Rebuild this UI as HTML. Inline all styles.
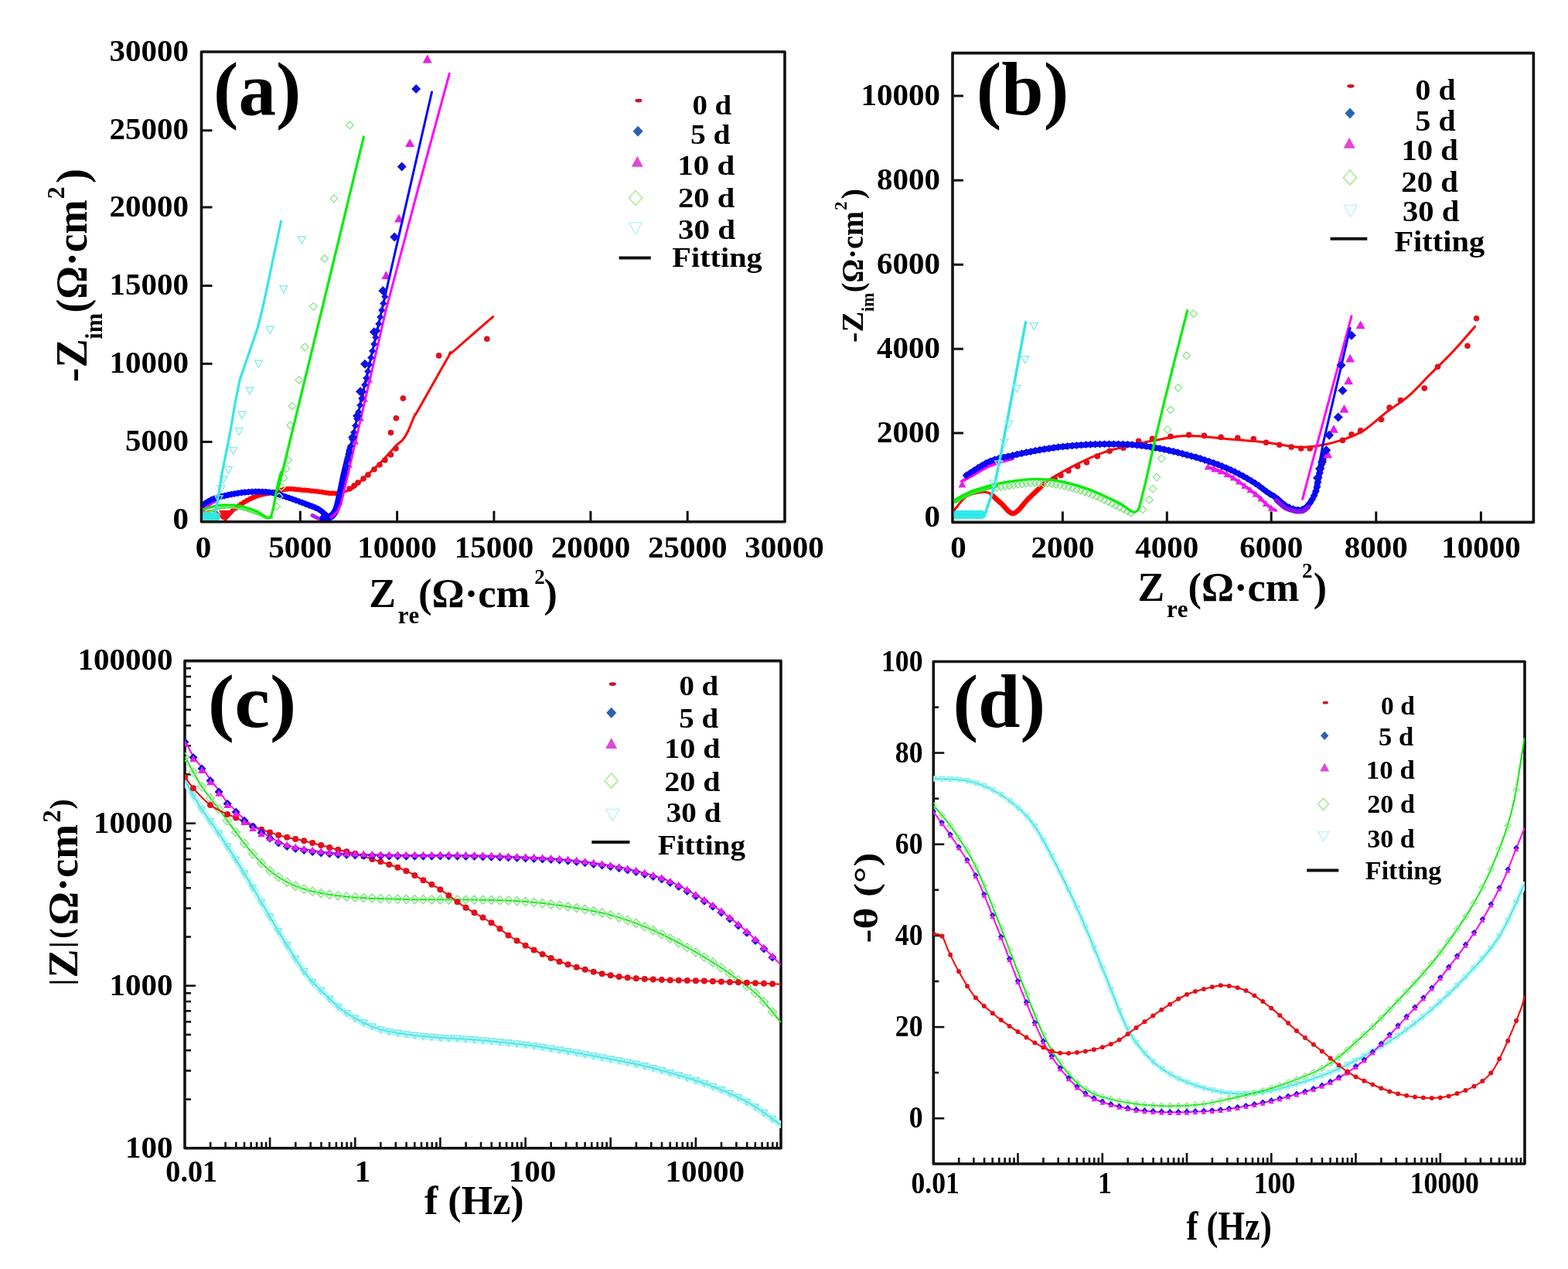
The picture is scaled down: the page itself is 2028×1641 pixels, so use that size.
<!DOCTYPE html>
<html><head><meta charset="utf-8"><title>EIS figure</title>
<style>
html,body{margin:0;padding:0;background:#fff;overflow:hidden;}
svg{display:block;filter:blur(0.55px);}
svg text{font-family:'Liberation Serif', serif;font-weight:bold;font-kerning:none;}
</style></head>
<body>
<svg width="2028" height="1641" viewBox="0 0 2028 1641">
<rect width="2028" height="1641" fill="#fff"/>
<rect x="260.5" y="67" width="754.5" height="607.7" fill="none" stroke="#111" stroke-width="3.6" stroke-linejoin="round"/>
<text transform="translate(263.1 721)" font-size="41" text-anchor="middle">0</text>
<line x1="388.3" y1="674.7" x2="388.3" y2="660.7" stroke="#111" stroke-width="3"/>
<text transform="translate(388.3 721)" font-size="41" text-anchor="middle">5000</text>
<line x1="513.6" y1="674.7" x2="513.6" y2="660.7" stroke="#111" stroke-width="3"/>
<text transform="translate(513.6 721)" font-size="41" text-anchor="middle">10000</text>
<line x1="638.9" y1="674.7" x2="638.9" y2="660.7" stroke="#111" stroke-width="3"/>
<text transform="translate(638.9 721)" font-size="41" text-anchor="middle">15000</text>
<line x1="763.9" y1="674.7" x2="763.9" y2="660.7" stroke="#111" stroke-width="3"/>
<text transform="translate(763.9 721)" font-size="41" text-anchor="middle">20000</text>
<line x1="889.2" y1="674.7" x2="889.2" y2="660.7" stroke="#111" stroke-width="3"/>
<text transform="translate(889.2 721)" font-size="41" text-anchor="middle">25000</text>
<text transform="translate(1014.4 721)" font-size="41" text-anchor="middle">30000</text>
<text transform="translate(244 683.9)" font-size="41" text-anchor="end">0</text>
<line x1="260.5" y1="571.4" x2="274.5" y2="571.4" stroke="#111" stroke-width="3"/>
<text transform="translate(244 582.9)" font-size="41" text-anchor="end">5000</text>
<line x1="260.5" y1="470.4" x2="274.5" y2="470.4" stroke="#111" stroke-width="3"/>
<text transform="translate(244 481.9)" font-size="41" text-anchor="end">10000</text>
<line x1="260.5" y1="369.5" x2="274.5" y2="369.5" stroke="#111" stroke-width="3"/>
<text transform="translate(244 381)" font-size="41" text-anchor="end">15000</text>
<line x1="260.5" y1="268" x2="274.5" y2="268" stroke="#111" stroke-width="3"/>
<text transform="translate(244 279.5)" font-size="41" text-anchor="end">20000</text>
<line x1="260.5" y1="168.7" x2="274.5" y2="168.7" stroke="#111" stroke-width="3"/>
<text transform="translate(244 180.2)" font-size="41" text-anchor="end">25000</text>
<text transform="translate(244 78.5)" font-size="41" text-anchor="end">30000</text>
<rect x="1232" y="68.6" width="751.4" height="606.8" fill="none" stroke="#111" stroke-width="3.6" stroke-linejoin="round"/>
<text transform="translate(1239.5 721)" font-size="41" text-anchor="middle">0</text>
<line x1="1374.4" y1="675.4" x2="1374.4" y2="661.4" stroke="#111" stroke-width="3"/>
<text transform="translate(1374.4 721)" font-size="41" text-anchor="middle">2000</text>
<line x1="1509.3" y1="675.4" x2="1509.3" y2="661.4" stroke="#111" stroke-width="3"/>
<text transform="translate(1509.3 721)" font-size="41" text-anchor="middle">4000</text>
<line x1="1644.2" y1="675.4" x2="1644.2" y2="661.4" stroke="#111" stroke-width="3"/>
<text transform="translate(1644.2 721)" font-size="41" text-anchor="middle">6000</text>
<line x1="1779.8" y1="675.4" x2="1779.8" y2="661.4" stroke="#111" stroke-width="3"/>
<text transform="translate(1779.8 721)" font-size="41" text-anchor="middle">8000</text>
<line x1="1915.4" y1="675.4" x2="1915.4" y2="661.4" stroke="#111" stroke-width="3"/>
<text transform="translate(1915.4 721)" font-size="41" text-anchor="middle">10000</text>
<text transform="translate(1216 680.5)" font-size="41" text-anchor="end">0</text>
<line x1="1232" y1="560" x2="1246" y2="560" stroke="#111" stroke-width="3"/>
<text transform="translate(1216 571.5)" font-size="41" text-anchor="end">2000</text>
<line x1="1232" y1="451.2" x2="1246" y2="451.2" stroke="#111" stroke-width="3"/>
<text transform="translate(1216 462.7)" font-size="41" text-anchor="end">4000</text>
<line x1="1232" y1="342.2" x2="1246" y2="342.2" stroke="#111" stroke-width="3"/>
<text transform="translate(1216 353.7)" font-size="41" text-anchor="end">6000</text>
<line x1="1232" y1="233.2" x2="1246" y2="233.2" stroke="#111" stroke-width="3"/>
<text transform="translate(1216 244.7)" font-size="41" text-anchor="end">8000</text>
<line x1="1232" y1="124" x2="1246" y2="124" stroke="#111" stroke-width="3"/>
<text transform="translate(1216 135.5)" font-size="41" text-anchor="end">10000</text>
<rect x="239" y="854.6" width="771" height="630.2" fill="none" stroke="#111" stroke-width="3.6" stroke-linejoin="round"/>
<line x1="272.2" y1="1484.8" x2="272.2" y2="1476.8" stroke="#111" stroke-width="2.6"/>
<line x1="291.6" y1="1484.8" x2="291.6" y2="1476.8" stroke="#111" stroke-width="2.6"/>
<line x1="305.3" y1="1484.8" x2="305.3" y2="1476.8" stroke="#111" stroke-width="2.6"/>
<line x1="316" y1="1484.8" x2="316" y2="1476.8" stroke="#111" stroke-width="2.6"/>
<line x1="324.7" y1="1484.8" x2="324.7" y2="1476.8" stroke="#111" stroke-width="2.6"/>
<line x1="332.1" y1="1484.8" x2="332.1" y2="1476.8" stroke="#111" stroke-width="2.6"/>
<line x1="338.5" y1="1484.8" x2="338.5" y2="1476.8" stroke="#111" stroke-width="2.6"/>
<line x1="344.1" y1="1484.8" x2="344.1" y2="1476.8" stroke="#111" stroke-width="2.6"/>
<line x1="349.1" y1="1484.8" x2="349.1" y2="1470.8" stroke="#111" stroke-width="2.6"/>
<line x1="382.3" y1="1484.8" x2="382.3" y2="1476.8" stroke="#111" stroke-width="2.6"/>
<line x1="401.7" y1="1484.8" x2="401.7" y2="1476.8" stroke="#111" stroke-width="2.6"/>
<line x1="415.5" y1="1484.8" x2="415.5" y2="1476.8" stroke="#111" stroke-width="2.6"/>
<line x1="426.1" y1="1484.8" x2="426.1" y2="1476.8" stroke="#111" stroke-width="2.6"/>
<line x1="434.9" y1="1484.8" x2="434.9" y2="1476.8" stroke="#111" stroke-width="2.6"/>
<line x1="442.2" y1="1484.8" x2="442.2" y2="1476.8" stroke="#111" stroke-width="2.6"/>
<line x1="448.6" y1="1484.8" x2="448.6" y2="1476.8" stroke="#111" stroke-width="2.6"/>
<line x1="454.2" y1="1484.8" x2="454.2" y2="1476.8" stroke="#111" stroke-width="2.6"/>
<line x1="459.3" y1="1484.8" x2="459.3" y2="1470.8" stroke="#111" stroke-width="2.6"/>
<line x1="492.4" y1="1484.8" x2="492.4" y2="1476.8" stroke="#111" stroke-width="2.6"/>
<line x1="511.8" y1="1484.8" x2="511.8" y2="1476.8" stroke="#111" stroke-width="2.6"/>
<line x1="525.6" y1="1484.8" x2="525.6" y2="1476.8" stroke="#111" stroke-width="2.6"/>
<line x1="536.3" y1="1484.8" x2="536.3" y2="1476.8" stroke="#111" stroke-width="2.6"/>
<line x1="545" y1="1484.8" x2="545" y2="1476.8" stroke="#111" stroke-width="2.6"/>
<line x1="552.4" y1="1484.8" x2="552.4" y2="1476.8" stroke="#111" stroke-width="2.6"/>
<line x1="558.8" y1="1484.8" x2="558.8" y2="1476.8" stroke="#111" stroke-width="2.6"/>
<line x1="564.4" y1="1484.8" x2="564.4" y2="1476.8" stroke="#111" stroke-width="2.6"/>
<line x1="569.4" y1="1484.8" x2="569.4" y2="1470.8" stroke="#111" stroke-width="2.6"/>
<line x1="602.6" y1="1484.8" x2="602.6" y2="1476.8" stroke="#111" stroke-width="2.6"/>
<line x1="622" y1="1484.8" x2="622" y2="1476.8" stroke="#111" stroke-width="2.6"/>
<line x1="635.7" y1="1484.8" x2="635.7" y2="1476.8" stroke="#111" stroke-width="2.6"/>
<line x1="646.4" y1="1484.8" x2="646.4" y2="1476.8" stroke="#111" stroke-width="2.6"/>
<line x1="655.1" y1="1484.8" x2="655.1" y2="1476.8" stroke="#111" stroke-width="2.6"/>
<line x1="662.5" y1="1484.8" x2="662.5" y2="1476.8" stroke="#111" stroke-width="2.6"/>
<line x1="668.9" y1="1484.8" x2="668.9" y2="1476.8" stroke="#111" stroke-width="2.6"/>
<line x1="674.5" y1="1484.8" x2="674.5" y2="1476.8" stroke="#111" stroke-width="2.6"/>
<line x1="679.6" y1="1484.8" x2="679.6" y2="1470.8" stroke="#111" stroke-width="2.6"/>
<line x1="712.7" y1="1484.8" x2="712.7" y2="1476.8" stroke="#111" stroke-width="2.6"/>
<line x1="732.1" y1="1484.8" x2="732.1" y2="1476.8" stroke="#111" stroke-width="2.6"/>
<line x1="745.9" y1="1484.8" x2="745.9" y2="1476.8" stroke="#111" stroke-width="2.6"/>
<line x1="756.6" y1="1484.8" x2="756.6" y2="1476.8" stroke="#111" stroke-width="2.6"/>
<line x1="765.3" y1="1484.8" x2="765.3" y2="1476.8" stroke="#111" stroke-width="2.6"/>
<line x1="772.7" y1="1484.8" x2="772.7" y2="1476.8" stroke="#111" stroke-width="2.6"/>
<line x1="779" y1="1484.8" x2="779" y2="1476.8" stroke="#111" stroke-width="2.6"/>
<line x1="784.7" y1="1484.8" x2="784.7" y2="1476.8" stroke="#111" stroke-width="2.6"/>
<line x1="789.7" y1="1484.8" x2="789.7" y2="1470.8" stroke="#111" stroke-width="2.6"/>
<line x1="822.9" y1="1484.8" x2="822.9" y2="1476.8" stroke="#111" stroke-width="2.6"/>
<line x1="842.3" y1="1484.8" x2="842.3" y2="1476.8" stroke="#111" stroke-width="2.6"/>
<line x1="856" y1="1484.8" x2="856" y2="1476.8" stroke="#111" stroke-width="2.6"/>
<line x1="866.7" y1="1484.8" x2="866.7" y2="1476.8" stroke="#111" stroke-width="2.6"/>
<line x1="875.4" y1="1484.8" x2="875.4" y2="1476.8" stroke="#111" stroke-width="2.6"/>
<line x1="882.8" y1="1484.8" x2="882.8" y2="1476.8" stroke="#111" stroke-width="2.6"/>
<line x1="889.2" y1="1484.8" x2="889.2" y2="1476.8" stroke="#111" stroke-width="2.6"/>
<line x1="894.8" y1="1484.8" x2="894.8" y2="1476.8" stroke="#111" stroke-width="2.6"/>
<line x1="899.9" y1="1484.8" x2="899.9" y2="1470.8" stroke="#111" stroke-width="2.6"/>
<line x1="933" y1="1484.8" x2="933" y2="1476.8" stroke="#111" stroke-width="2.6"/>
<line x1="952.4" y1="1484.8" x2="952.4" y2="1476.8" stroke="#111" stroke-width="2.6"/>
<line x1="966.2" y1="1484.8" x2="966.2" y2="1476.8" stroke="#111" stroke-width="2.6"/>
<line x1="976.8" y1="1484.8" x2="976.8" y2="1476.8" stroke="#111" stroke-width="2.6"/>
<line x1="985.6" y1="1484.8" x2="985.6" y2="1476.8" stroke="#111" stroke-width="2.6"/>
<line x1="992.9" y1="1484.8" x2="992.9" y2="1476.8" stroke="#111" stroke-width="2.6"/>
<line x1="999.3" y1="1484.8" x2="999.3" y2="1476.8" stroke="#111" stroke-width="2.6"/>
<line x1="1005" y1="1484.8" x2="1005" y2="1476.8" stroke="#111" stroke-width="2.6"/>
<line x1="239" y1="1421.6" x2="247" y2="1421.6" stroke="#111" stroke-width="2.6"/>
<line x1="239" y1="1384.6" x2="247" y2="1384.6" stroke="#111" stroke-width="2.6"/>
<line x1="239" y1="1358.3" x2="247" y2="1358.3" stroke="#111" stroke-width="2.6"/>
<line x1="239" y1="1338" x2="247" y2="1338" stroke="#111" stroke-width="2.6"/>
<line x1="239" y1="1321.3" x2="247" y2="1321.3" stroke="#111" stroke-width="2.6"/>
<line x1="239" y1="1307.3" x2="247" y2="1307.3" stroke="#111" stroke-width="2.6"/>
<line x1="239" y1="1295.1" x2="247" y2="1295.1" stroke="#111" stroke-width="2.6"/>
<line x1="239" y1="1284.3" x2="247" y2="1284.3" stroke="#111" stroke-width="2.6"/>
<line x1="239" y1="1274.7" x2="253" y2="1274.7" stroke="#111" stroke-width="2.6"/>
<line x1="239" y1="1211.5" x2="247" y2="1211.5" stroke="#111" stroke-width="2.6"/>
<line x1="239" y1="1174.5" x2="247" y2="1174.5" stroke="#111" stroke-width="2.6"/>
<line x1="239" y1="1148.3" x2="247" y2="1148.3" stroke="#111" stroke-width="2.6"/>
<line x1="239" y1="1127.9" x2="247" y2="1127.9" stroke="#111" stroke-width="2.6"/>
<line x1="239" y1="1111.3" x2="247" y2="1111.3" stroke="#111" stroke-width="2.6"/>
<line x1="239" y1="1097.2" x2="247" y2="1097.2" stroke="#111" stroke-width="2.6"/>
<line x1="239" y1="1085" x2="247" y2="1085" stroke="#111" stroke-width="2.6"/>
<line x1="239" y1="1074.3" x2="247" y2="1074.3" stroke="#111" stroke-width="2.6"/>
<line x1="239" y1="1064.7" x2="253" y2="1064.7" stroke="#111" stroke-width="2.6"/>
<line x1="239" y1="1001.4" x2="247" y2="1001.4" stroke="#111" stroke-width="2.6"/>
<line x1="239" y1="964.4" x2="247" y2="964.4" stroke="#111" stroke-width="2.6"/>
<line x1="239" y1="938.2" x2="247" y2="938.2" stroke="#111" stroke-width="2.6"/>
<line x1="239" y1="917.8" x2="247" y2="917.8" stroke="#111" stroke-width="2.6"/>
<line x1="239" y1="901.2" x2="247" y2="901.2" stroke="#111" stroke-width="2.6"/>
<line x1="239" y1="887.1" x2="247" y2="887.1" stroke="#111" stroke-width="2.6"/>
<line x1="239" y1="875" x2="247" y2="875" stroke="#111" stroke-width="2.6"/>
<line x1="239" y1="864.2" x2="247" y2="864.2" stroke="#111" stroke-width="2.6"/>
<text transform="translate(247.7 1528) scale(0.93 1)" font-size="41" text-anchor="middle">0.01</text>
<text transform="translate(469 1528)" font-size="41" text-anchor="middle">1</text>
<text transform="translate(688.5 1528)" font-size="41" text-anchor="middle">100</text>
<text transform="translate(911.8 1528)" font-size="41" text-anchor="middle">10000</text>
<text transform="translate(223.5 866.4)" font-size="41" text-anchor="end">100000</text>
<text transform="translate(223.5 1076.5)" font-size="41" text-anchor="end">10000</text>
<text transform="translate(223.5 1286.5)" font-size="41" text-anchor="end">1000</text>
<text transform="translate(223.5 1496.6)" font-size="41" text-anchor="end">100</text>
<rect x="1207.3" y="855.5" width="764.7" height="649.5" fill="none" stroke="#111" stroke-width="3.6" stroke-linejoin="round"/>
<line x1="1240.2" y1="1505" x2="1240.2" y2="1497" stroke="#111" stroke-width="2.6"/>
<line x1="1259.4" y1="1505" x2="1259.4" y2="1497" stroke="#111" stroke-width="2.6"/>
<line x1="1273.1" y1="1505" x2="1273.1" y2="1497" stroke="#111" stroke-width="2.6"/>
<line x1="1283.7" y1="1505" x2="1283.7" y2="1497" stroke="#111" stroke-width="2.6"/>
<line x1="1292.3" y1="1505" x2="1292.3" y2="1497" stroke="#111" stroke-width="2.6"/>
<line x1="1299.6" y1="1505" x2="1299.6" y2="1497" stroke="#111" stroke-width="2.6"/>
<line x1="1306" y1="1505" x2="1306" y2="1497" stroke="#111" stroke-width="2.6"/>
<line x1="1311.5" y1="1505" x2="1311.5" y2="1497" stroke="#111" stroke-width="2.6"/>
<line x1="1316.5" y1="1505" x2="1316.5" y2="1491" stroke="#111" stroke-width="2.6"/>
<line x1="1349.4" y1="1505" x2="1349.4" y2="1497" stroke="#111" stroke-width="2.6"/>
<line x1="1368.7" y1="1505" x2="1368.7" y2="1497" stroke="#111" stroke-width="2.6"/>
<line x1="1382.3" y1="1505" x2="1382.3" y2="1497" stroke="#111" stroke-width="2.6"/>
<line x1="1392.9" y1="1505" x2="1392.9" y2="1497" stroke="#111" stroke-width="2.6"/>
<line x1="1401.6" y1="1505" x2="1401.6" y2="1497" stroke="#111" stroke-width="2.6"/>
<line x1="1408.9" y1="1505" x2="1408.9" y2="1497" stroke="#111" stroke-width="2.6"/>
<line x1="1415.2" y1="1505" x2="1415.2" y2="1497" stroke="#111" stroke-width="2.6"/>
<line x1="1420.8" y1="1505" x2="1420.8" y2="1497" stroke="#111" stroke-width="2.6"/>
<line x1="1425.8" y1="1505" x2="1425.8" y2="1491" stroke="#111" stroke-width="2.6"/>
<line x1="1458.7" y1="1505" x2="1458.7" y2="1497" stroke="#111" stroke-width="2.6"/>
<line x1="1477.9" y1="1505" x2="1477.9" y2="1497" stroke="#111" stroke-width="2.6"/>
<line x1="1491.6" y1="1505" x2="1491.6" y2="1497" stroke="#111" stroke-width="2.6"/>
<line x1="1502.1" y1="1505" x2="1502.1" y2="1497" stroke="#111" stroke-width="2.6"/>
<line x1="1510.8" y1="1505" x2="1510.8" y2="1497" stroke="#111" stroke-width="2.6"/>
<line x1="1518.1" y1="1505" x2="1518.1" y2="1497" stroke="#111" stroke-width="2.6"/>
<line x1="1524.4" y1="1505" x2="1524.4" y2="1497" stroke="#111" stroke-width="2.6"/>
<line x1="1530" y1="1505" x2="1530" y2="1497" stroke="#111" stroke-width="2.6"/>
<line x1="1535" y1="1505" x2="1535" y2="1491" stroke="#111" stroke-width="2.6"/>
<line x1="1567.9" y1="1505" x2="1567.9" y2="1497" stroke="#111" stroke-width="2.6"/>
<line x1="1587.2" y1="1505" x2="1587.2" y2="1497" stroke="#111" stroke-width="2.6"/>
<line x1="1600.8" y1="1505" x2="1600.8" y2="1497" stroke="#111" stroke-width="2.6"/>
<line x1="1611.4" y1="1505" x2="1611.4" y2="1497" stroke="#111" stroke-width="2.6"/>
<line x1="1620" y1="1505" x2="1620" y2="1497" stroke="#111" stroke-width="2.6"/>
<line x1="1627.3" y1="1505" x2="1627.3" y2="1497" stroke="#111" stroke-width="2.6"/>
<line x1="1633.7" y1="1505" x2="1633.7" y2="1497" stroke="#111" stroke-width="2.6"/>
<line x1="1639.3" y1="1505" x2="1639.3" y2="1497" stroke="#111" stroke-width="2.6"/>
<line x1="1644.3" y1="1505" x2="1644.3" y2="1491" stroke="#111" stroke-width="2.6"/>
<line x1="1677.2" y1="1505" x2="1677.2" y2="1497" stroke="#111" stroke-width="2.6"/>
<line x1="1696.4" y1="1505" x2="1696.4" y2="1497" stroke="#111" stroke-width="2.6"/>
<line x1="1710" y1="1505" x2="1710" y2="1497" stroke="#111" stroke-width="2.6"/>
<line x1="1720.6" y1="1505" x2="1720.6" y2="1497" stroke="#111" stroke-width="2.6"/>
<line x1="1729.3" y1="1505" x2="1729.3" y2="1497" stroke="#111" stroke-width="2.6"/>
<line x1="1736.6" y1="1505" x2="1736.6" y2="1497" stroke="#111" stroke-width="2.6"/>
<line x1="1742.9" y1="1505" x2="1742.9" y2="1497" stroke="#111" stroke-width="2.6"/>
<line x1="1748.5" y1="1505" x2="1748.5" y2="1497" stroke="#111" stroke-width="2.6"/>
<line x1="1753.5" y1="1505" x2="1753.5" y2="1491" stroke="#111" stroke-width="2.6"/>
<line x1="1786.4" y1="1505" x2="1786.4" y2="1497" stroke="#111" stroke-width="2.6"/>
<line x1="1805.6" y1="1505" x2="1805.6" y2="1497" stroke="#111" stroke-width="2.6"/>
<line x1="1819.3" y1="1505" x2="1819.3" y2="1497" stroke="#111" stroke-width="2.6"/>
<line x1="1829.9" y1="1505" x2="1829.9" y2="1497" stroke="#111" stroke-width="2.6"/>
<line x1="1838.5" y1="1505" x2="1838.5" y2="1497" stroke="#111" stroke-width="2.6"/>
<line x1="1845.8" y1="1505" x2="1845.8" y2="1497" stroke="#111" stroke-width="2.6"/>
<line x1="1852.2" y1="1505" x2="1852.2" y2="1497" stroke="#111" stroke-width="2.6"/>
<line x1="1857.8" y1="1505" x2="1857.8" y2="1497" stroke="#111" stroke-width="2.6"/>
<line x1="1862.8" y1="1505" x2="1862.8" y2="1491" stroke="#111" stroke-width="2.6"/>
<line x1="1895.6" y1="1505" x2="1895.6" y2="1497" stroke="#111" stroke-width="2.6"/>
<line x1="1914.9" y1="1505" x2="1914.9" y2="1497" stroke="#111" stroke-width="2.6"/>
<line x1="1928.5" y1="1505" x2="1928.5" y2="1497" stroke="#111" stroke-width="2.6"/>
<line x1="1939.1" y1="1505" x2="1939.1" y2="1497" stroke="#111" stroke-width="2.6"/>
<line x1="1947.8" y1="1505" x2="1947.8" y2="1497" stroke="#111" stroke-width="2.6"/>
<line x1="1955.1" y1="1505" x2="1955.1" y2="1497" stroke="#111" stroke-width="2.6"/>
<line x1="1961.4" y1="1505" x2="1961.4" y2="1497" stroke="#111" stroke-width="2.6"/>
<line x1="1967" y1="1505" x2="1967" y2="1497" stroke="#111" stroke-width="2.6"/>
<line x1="1207.3" y1="1446.2" x2="1221.3" y2="1446.2" stroke="#111" stroke-width="2.6"/>
<line x1="1207.3" y1="1387.1" x2="1214.3" y2="1387.1" stroke="#111" stroke-width="2.6"/>
<line x1="1207.3" y1="1328.1" x2="1221.3" y2="1328.1" stroke="#111" stroke-width="2.6"/>
<line x1="1207.3" y1="1269" x2="1214.3" y2="1269" stroke="#111" stroke-width="2.6"/>
<line x1="1207.3" y1="1209.9" x2="1221.3" y2="1209.9" stroke="#111" stroke-width="2.6"/>
<line x1="1207.3" y1="1150.8" x2="1214.3" y2="1150.8" stroke="#111" stroke-width="2.6"/>
<line x1="1207.3" y1="1091.8" x2="1221.3" y2="1091.8" stroke="#111" stroke-width="2.6"/>
<line x1="1207.3" y1="1032.7" x2="1214.3" y2="1032.7" stroke="#111" stroke-width="2.6"/>
<line x1="1207.3" y1="973.6" x2="1221.3" y2="973.6" stroke="#111" stroke-width="2.6"/>
<line x1="1207.3" y1="914.6" x2="1214.3" y2="914.6" stroke="#111" stroke-width="2.6"/>
<text transform="translate(1193.5 1458.2) scale(0.87 1)" font-size="41" text-anchor="end">0</text>
<text transform="translate(1193.5 1340.1) scale(0.87 1)" font-size="41" text-anchor="end">20</text>
<text transform="translate(1193.5 1221.9) scale(0.87 1)" font-size="41" text-anchor="end">40</text>
<text transform="translate(1193.5 1103.8) scale(0.87 1)" font-size="41" text-anchor="end">60</text>
<text transform="translate(1193.5 985.6) scale(0.87 1)" font-size="41" text-anchor="end">80</text>
<text transform="translate(1193.5 867.5) scale(0.87 1)" font-size="41" text-anchor="end">100</text>
<text transform="translate(1209.6 1543) scale(0.87 1)" font-size="41" text-anchor="middle">0.01</text>
<text transform="translate(1429 1543) scale(0.87 1)" font-size="41" text-anchor="middle">1</text>
<text transform="translate(1648.5 1543) scale(0.87 1)" font-size="41" text-anchor="middle">100</text>
<text transform="translate(1868.3 1543) scale(0.87 1)" font-size="41" text-anchor="middle">10000</text>
<clipPath id="ca"><rect x="262.3" y="68.8" width="750.9" height="604.1"/></clipPath>
<g clip-path="url(#ca)">
<path d="M305,657 C307.2,655.5 313.6,650.5 318.2,647.9 C322.8,645.3 327.9,643 332.8,641.3 C337.7,639.6 343.2,638.7 347.4,637.7 C351.5,636.7 353.4,636.3 357.7,635.4 C362,634.5 367.5,632.6 373.1,632.3 C378.7,632 385,633.2 391.4,633.7 C397.8,634.2 405.6,634.9 411.3,635.6 C417,636.3 421.4,637.3 425.5,637.7 C429.6,638.1 434.4,638 436.2,638" fill="none" stroke="#ff0000" stroke-width="5.5" stroke-linejoin="round" stroke-linecap="round"/>
<g><circle cx="305" cy="657" r="3.3" fill="#ff0000"/><circle cx="308.6" cy="654.4" r="3.3" fill="#ff0000"/><circle cx="312.3" cy="651.7" r="3.3" fill="#ff0000"/><circle cx="316" cy="649.2" r="3.3" fill="#ff0000"/><circle cx="319.9" cy="647" r="3.3" fill="#ff0000"/><circle cx="323.9" cy="644.9" r="3.3" fill="#ff0000"/><circle cx="328.1" cy="643.1" r="3.3" fill="#ff0000"/><circle cx="332.2" cy="641.5" r="3.3" fill="#ff0000"/><circle cx="336.5" cy="640.2" r="3.3" fill="#ff0000"/><circle cx="340.9" cy="639.1" r="3.3" fill="#ff0000"/><circle cx="345.3" cy="638.2" r="3.3" fill="#ff0000"/><circle cx="349.7" cy="637.2" r="3.3" fill="#ff0000"/><circle cx="354.1" cy="636.2" r="3.3" fill="#ff0000"/><circle cx="358.5" cy="635.2" r="3.3" fill="#ff0000"/><circle cx="362.9" cy="634.1" r="3.3" fill="#ff0000"/><circle cx="367.2" cy="633.1" r="3.3" fill="#ff0000"/><circle cx="371.7" cy="632.4" r="3.3" fill="#ff0000"/><circle cx="376.2" cy="632.3" r="3.3" fill="#ff0000"/><circle cx="380.7" cy="632.6" r="3.3" fill="#ff0000"/><circle cx="385.1" cy="633" r="3.3" fill="#ff0000"/><circle cx="389.6" cy="633.5" r="3.3" fill="#ff0000"/><circle cx="394.1" cy="633.9" r="3.3" fill="#ff0000"/><circle cx="398.6" cy="634.3" r="3.3" fill="#ff0000"/><circle cx="403.1" cy="634.7" r="3.3" fill="#ff0000"/><circle cx="407.5" cy="635.2" r="3.3" fill="#ff0000"/><circle cx="412" cy="635.7" r="3.3" fill="#ff0000"/><circle cx="416.5" cy="636.3" r="3.3" fill="#ff0000"/><circle cx="420.9" cy="637.1" r="3.3" fill="#ff0000"/><circle cx="425.4" cy="637.7" r="3.3" fill="#ff0000"/><circle cx="429.9" cy="637.9" r="3.3" fill="#ff0000"/><circle cx="434.4" cy="638" r="3.3" fill="#ff0000"/></g>
<path d="M262,668 C262.8,667.1 265,663.8 267,662.5 C269,661.2 272,660.7 274,660.5 C276,660.3 277.2,660.4 279,661.5 C280.8,662.6 283.2,665.4 285,667 C286.8,668.6 287.9,671.5 289.6,671 C291.3,670.5 292.7,666.4 295,664 C297.3,661.6 299.6,659.3 303.5,656.6 C307.4,653.9 313.3,650.5 318.2,647.9 C323.1,645.3 327.9,643 332.8,641.3 C337.7,639.6 343.2,638.7 347.4,637.7 C351.5,636.7 353.4,636.1 357.7,635.4 C362,634.7 367.5,633.4 373.1,633.3 C378.7,633.2 385,634.2 391.4,634.7 C397.8,635.2 405.6,635.9 411.3,636.6 C417,637.3 421.4,638.4 425.5,638.7 C429.6,639 432.6,639 436.2,638.5 C439.8,638 443.4,636.8 447,635.5 C450.6,634.2 453.5,633.9 457.7,630.8 C461.9,627.7 466.3,622 472,616.7 C477.7,611.4 485.1,605.5 491.7,598.9 C498.3,592.3 506.5,582.3 511.4,577.2 C516.3,572.1 518.5,571.7 521.3,568.3 C524.1,564.9 526,560.9 528,557 C530,553.1 531.5,548.5 533,545 C534.5,541.5 535.7,538.3 537,535.8 C538.3,533.3 533.8,542.4 541,529.9 C548.2,517.4 573.1,472.9 580.4,460.5 C587.7,448.1 575.5,464 585,455.5 C594.5,447 628.8,417.2 637.6,409.6" fill="none" stroke="#ff0000" stroke-width="3" stroke-linejoin="round" stroke-linecap="round"/>
<path d="M283,660 L305,660 L291,675Z" fill="#f00c1c"/>
<g><circle cx="452" cy="632" r="3.8" fill="#e0101c"/><circle cx="458" cy="628" r="3.8" fill="#e0101c"/><circle cx="463" cy="624" r="3.8" fill="#e0101c"/><circle cx="470" cy="619" r="3.8" fill="#e0101c"/><circle cx="476" cy="614" r="3.8" fill="#e0101c"/><circle cx="484" cy="607" r="3.8" fill="#e0101c"/><circle cx="491" cy="601" r="3.8" fill="#e0101c"/><circle cx="498" cy="595" r="3.8" fill="#e0101c"/><circle cx="505.5" cy="588" r="3.8" fill="#e0101c"/><circle cx="512" cy="580" r="3.8" fill="#e0101c"/><circle cx="505.5" cy="559.5" r="3.8" fill="#e0101c"/><circle cx="512.4" cy="540.7" r="3.8" fill="#e0101c"/><circle cx="521.3" cy="515.1" r="3.8" fill="#e0101c"/><circle cx="567.6" cy="459.9" r="3.8" fill="#e0101c"/><circle cx="629.8" cy="438.2" r="3.8" fill="#e0101c"/></g>
<path d="M260,662 C261.7,660.3 266.7,654.7 270,652 C273.3,649.3 278.3,647 280,646" fill="none" stroke="#ff00ff" stroke-width="6" stroke-linejoin="round" stroke-linecap="round"/>
<path d="M404,666.5 C405.3,667.2 409.3,669.6 412,670.5 C414.7,671.4 418.7,671.8 420,672" fill="none" stroke="#b020f0" stroke-width="5" stroke-linejoin="round" stroke-linecap="round"/>
<path d="M261.5,653.2 C263.7,651.9 269.8,647.6 274.5,645.6 C279.2,643.6 283.9,642.6 289.7,641.3 C295.5,639.9 302.3,638.4 309.2,637.5 C316.1,636.6 323.8,635.8 331,635.8 C338.2,635.8 346.3,636.1 352.6,637.2 C358.9,638.3 362.6,640.2 368.9,642.3 C375.2,644.4 383.4,647.2 390.6,649.9 C397.8,652.6 406.9,655.8 412.3,658.6 C417.7,661.5 420.1,665.8 423.2,667 C426.3,668.2 428.5,667.6 430.7,665.6 C432.9,663.6 434.6,660.2 436.3,655.2 C438,650.2 439,642.9 440.6,635.5 C442.2,628.1 444,620 445.9,610.8 C447.8,601.5 451.1,585.1 452.2,580" fill="none" stroke="#0000ff" stroke-width="7" stroke-linejoin="round" stroke-linecap="round"/>
<g><path d="M261.5,648.7 L266,653.2 L261.5,657.7 L257,653.2Z" fill="#0000ff"/><path d="M265.3,646.3 L269.8,650.8 L265.3,655.3 L260.8,650.8Z" fill="#0000ff"/><path d="M269.1,643.9 L273.6,648.4 L269.1,652.9 L264.6,648.4Z" fill="#0000ff"/><path d="M273.1,641.8 L277.6,646.3 L273.1,650.8 L268.6,646.3Z" fill="#0000ff"/><path d="M277.2,640.1 L281.7,644.6 L277.2,649.1 L272.7,644.6Z" fill="#0000ff"/><path d="M281.5,638.8 L286,643.3 L281.5,647.8 L277,643.3Z" fill="#0000ff"/><path d="M285.9,637.7 L290.4,642.2 L285.9,646.7 L281.4,642.2Z" fill="#0000ff"/><path d="M290.3,636.7 L294.8,641.2 L290.3,645.7 L285.8,641.2Z" fill="#0000ff"/><path d="M294.7,635.7 L299.2,640.2 L294.7,644.7 L290.2,640.2Z" fill="#0000ff"/><path d="M299.1,634.7 L303.6,639.2 L299.1,643.7 L294.6,639.2Z" fill="#0000ff"/><path d="M303.5,633.9 L308,638.4 L303.5,642.9 L299,638.4Z" fill="#0000ff"/><path d="M307.9,633.2 L312.4,637.7 L307.9,642.2 L303.4,637.7Z" fill="#0000ff"/><path d="M312.4,632.6 L316.9,637.1 L312.4,641.6 L307.9,637.1Z" fill="#0000ff"/><path d="M316.9,632.1 L321.4,636.6 L316.9,641.1 L312.4,636.6Z" fill="#0000ff"/><path d="M321.4,631.7 L325.9,636.2 L321.4,640.7 L316.9,636.2Z" fill="#0000ff"/><path d="M325.9,631.4 L330.4,635.9 L325.9,640.4 L321.4,635.9Z" fill="#0000ff"/><path d="M330.4,631.3 L334.9,635.8 L330.4,640.3 L325.9,635.8Z" fill="#0000ff"/><path d="M334.9,631.3 L339.4,635.8 L334.9,640.3 L330.4,635.8Z" fill="#0000ff"/><path d="M339.4,631.4 L343.9,635.9 L339.4,640.4 L334.9,635.9Z" fill="#0000ff"/><path d="M343.8,631.7 L348.3,636.2 L343.8,640.7 L339.3,636.2Z" fill="#0000ff"/><path d="M348.3,632.1 L352.8,636.6 L348.3,641.1 L343.8,636.6Z" fill="#0000ff"/><path d="M352.8,632.7 L357.3,637.2 L352.8,641.7 L348.3,637.2Z" fill="#0000ff"/><path d="M357.2,633.7 L361.7,638.2 L357.2,642.7 L352.7,638.2Z" fill="#0000ff"/><path d="M361.4,635.1 L365.9,639.6 L361.4,644.1 L356.9,639.6Z" fill="#0000ff"/><path d="M365.7,636.7 L370.2,641.2 L365.7,645.7 L361.2,641.2Z" fill="#0000ff"/><path d="M369.9,638.1 L374.4,642.6 L369.9,647.1 L365.4,642.6Z" fill="#0000ff"/><path d="M374.2,639.6 L378.7,644.1 L374.2,648.6 L369.7,644.1Z" fill="#0000ff"/><path d="M378.4,641 L382.9,645.5 L378.4,650 L373.9,645.5Z" fill="#0000ff"/><path d="M382.7,642.5 L387.2,647 L382.7,651.5 L378.2,647Z" fill="#0000ff"/><path d="M386.9,644 L391.4,648.5 L386.9,653 L382.4,648.5Z" fill="#0000ff"/><path d="M391.1,645.6 L395.6,650.1 L391.1,654.6 L386.6,650.1Z" fill="#0000ff"/><path d="M395.4,647.2 L399.9,651.7 L395.4,656.2 L390.9,651.7Z" fill="#0000ff"/><path d="M399.6,648.7 L404.1,653.2 L399.6,657.7 L395.1,653.2Z" fill="#0000ff"/><path d="M403.8,650.3 L408.3,654.8 L403.8,659.3 L399.3,654.8Z" fill="#0000ff"/><path d="M407.9,652.1 L412.4,656.6 L407.9,661.1 L403.4,656.6Z" fill="#0000ff"/><path d="M412,654 L416.5,658.5 L412,663 L407.5,658.5Z" fill="#0000ff"/><path d="M415.8,656.4 L420.3,660.9 L415.8,665.4 L411.3,660.9Z" fill="#0000ff"/><path d="M419.1,659.4 L423.6,663.9 L419.1,668.4 L414.6,663.9Z" fill="#0000ff"/><path d="M422.6,662.2 L427.1,666.7 L422.6,671.2 L418.1,666.7Z" fill="#0000ff"/><path d="M427,663 L431.5,667.5 L427,672 L422.5,667.5Z" fill="#0000ff"/><path d="M430.9,660.9 L435.4,665.4 L430.9,669.9 L426.4,665.4Z" fill="#0000ff"/><path d="M433.5,657.3 L438,661.8 L433.5,666.3 L429,661.8Z" fill="#0000ff"/><path d="M435.4,653.2 L439.9,657.7 L435.4,662.2 L430.9,657.7Z" fill="#0000ff"/><path d="M436.8,649 L441.3,653.5 L436.8,658 L432.3,653.5Z" fill="#0000ff"/><path d="M437.9,644.6 L442.4,649.1 L437.9,653.6 L433.4,649.1Z" fill="#0000ff"/><path d="M438.8,640.2 L443.3,644.7 L438.8,649.2 L434.3,644.7Z" fill="#0000ff"/><path d="M439.6,635.8 L444.1,640.3 L439.6,644.8 L435.1,640.3Z" fill="#0000ff"/><path d="M440.5,631.3 L445,635.8 L440.5,640.3 L436,635.8Z" fill="#0000ff"/><path d="M441.5,627 L446,631.5 L441.5,636 L437,631.5Z" fill="#0000ff"/><path d="M442.4,622.6 L446.9,627.1 L442.4,631.6 L437.9,627.1Z" fill="#0000ff"/><path d="M443.4,618.2 L447.9,622.7 L443.4,627.2 L438.9,622.7Z" fill="#0000ff"/><path d="M444.3,613.8 L448.8,618.3 L444.3,622.8 L439.8,618.3Z" fill="#0000ff"/><path d="M445.3,609.4 L449.8,613.9 L445.3,618.4 L440.8,613.9Z" fill="#0000ff"/><path d="M446.2,604.9 L450.7,609.4 L446.2,613.9 L441.7,609.4Z" fill="#0000ff"/><path d="M447.1,600.5 L451.6,605 L447.1,609.5 L442.6,605Z" fill="#0000ff"/><path d="M448,596.1 L452.5,600.6 L448,605.1 L443.5,600.6Z" fill="#0000ff"/><path d="M448.9,591.7 L453.4,596.2 L448.9,600.7 L444.4,596.2Z" fill="#0000ff"/><path d="M449.8,587.3 L454.3,591.8 L449.8,596.3 L445.3,591.8Z" fill="#0000ff"/><path d="M450.7,582.9 L455.2,587.4 L450.7,591.9 L446.2,587.4Z" fill="#0000ff"/><path d="M451.6,578.5 L456.1,583 L451.6,587.5 L447.1,583Z" fill="#0000ff"/></g>
<path d="M418,670 C419.7,669.7 425.2,670 428,668 C430.8,666 433,663 435,658 C437,653 438.3,645.3 440,638 C441.7,630.7 443.3,621.3 445,614 C446.7,606.7 449.2,597.3 450,594" fill="none" stroke="#0000ff" stroke-width="9" stroke-linejoin="round" stroke-linecap="round"/>
<path d="M428,669 L436,662 L441,652 L470,527 L499.4,400 L540,247 L581.3,95.2" fill="none" stroke="#ff00ff" stroke-width="3" stroke-linejoin="round" stroke-linecap="round"/>
<g><path d="M450,594 L456,604.8 L444,604.8Z" fill="#e81ee8"/><path d="M458,564 L464,574.8 L452,574.8Z" fill="#e81ee8"/><path d="M465,534 L471,544.8 L459,544.8Z" fill="#e81ee8"/><path d="M470,509 L476,519.8 L464,519.8Z" fill="#e81ee8"/><path d="M476,484 L482,494.8 L470,494.8Z" fill="#e81ee8"/><path d="M499.4,350.2 L505.4,361 L493.4,361Z" fill="#e81ee8"/><path d="M516,276.7 L522,287.5 L510,287.5Z" fill="#e81ee8"/><path d="M530.1,179.3 L536.1,190.1 L524.1,190.1Z" fill="#e81ee8"/><path d="M552.7,70.6 L558.7,81.4 L546.7,81.4Z" fill="#e81ee8"/></g>
<path d="M423,668 L432,661 L438,645 L494.1,400 L558.5,119" fill="none" stroke="#0000ff" stroke-width="3" stroke-linejoin="round" stroke-linecap="round"/>
<g><path d="M456.2,559.4 L462.2,565.4 L456.2,571.4 L450.2,565.4Z" fill="#1010e0"/><path d="M462.1,531.8 L468.1,537.8 L462.1,543.8 L456.1,537.8Z" fill="#1010e0"/><path d="M466,500.2 L472,506.2 L466,512.2 L460,506.2Z" fill="#1010e0"/><path d="M472,464.7 L478,470.7 L472,476.7 L466,470.7Z" fill="#1010e0"/><path d="M483.8,423.3 L489.8,429.3 L483.8,435.3 L477.8,429.3Z" fill="#1010e0"/><path d="M495.3,369.9 L501.3,375.9 L495.3,381.9 L489.3,375.9Z" fill="#1010e0"/><path d="M510.2,300.5 L516.2,306.5 L510.2,312.5 L504.2,306.5Z" fill="#1010e0"/><path d="M519.7,209.4 L525.7,215.4 L519.7,221.4 L513.7,215.4Z" fill="#1010e0"/><path d="M538.2,108.9 L544.2,114.9 L538.2,120.9 L532.2,114.9Z" fill="#1010e0"/></g>
<g><path d="M447.6,598.4 L452.2,603 L447.6,607.6 L443,603Z" fill="#1212e8"/><path d="M449.6,589.6 L454.2,594.2 L449.6,598.8 L445,594.2Z" fill="#1212e8"/><path d="M451.6,580.9 L456.2,585.5 L451.6,590.1 L447,585.5Z" fill="#1212e8"/><path d="M453.6,572.1 L458.2,576.7 L453.6,581.3 L449,576.7Z" fill="#1212e8"/><path d="M455.6,563.3 L460.2,567.9 L455.6,572.5 L451,567.9Z" fill="#1212e8"/><path d="M457.6,554.5 L462.2,559.1 L457.6,563.7 L453,559.1Z" fill="#1212e8"/><path d="M459.7,545.8 L464.3,550.4 L459.7,555 L455.1,550.4Z" fill="#1212e8"/><path d="M461.7,537 L466.3,541.6 L461.7,546.2 L457.1,541.6Z" fill="#1212e8"/><path d="M463.7,528.2 L468.3,532.8 L463.7,537.4 L459.1,532.8Z" fill="#1212e8"/><path d="M465.7,519.4 L470.3,524 L465.7,528.6 L461.1,524Z" fill="#1212e8"/><path d="M467.7,510.7 L472.3,515.3 L467.7,519.9 L463.1,515.3Z" fill="#1212e8"/><path d="M469.7,501.9 L474.3,506.5 L469.7,511.1 L465.1,506.5Z" fill="#1212e8"/><path d="M471.7,493.1 L476.3,497.7 L471.7,502.3 L467.1,497.7Z" fill="#1212e8"/><path d="M473.7,484.4 L478.3,489 L473.7,493.6 L469.1,489Z" fill="#1212e8"/><path d="M475.7,475.6 L480.3,480.2 L475.7,484.8 L471.1,480.2Z" fill="#1212e8"/><path d="M477.7,466.8 L482.3,471.4 L477.7,476 L473.1,471.4Z" fill="#1212e8"/><path d="M479.7,458 L484.3,462.6 L479.7,467.2 L475.1,462.6Z" fill="#1212e8"/><path d="M481.7,449.3 L486.3,453.9 L481.7,458.5 L477.1,453.9Z" fill="#1212e8"/><path d="M483.8,440.5 L488.4,445.1 L483.8,449.7 L479.2,445.1Z" fill="#1212e8"/><path d="M485.8,431.7 L490.4,436.3 L485.8,440.9 L481.2,436.3Z" fill="#1212e8"/><path d="M487.8,422.9 L492.4,427.5 L487.8,432.1 L483.2,427.5Z" fill="#1212e8"/><path d="M489.8,414.2 L494.4,418.8 L489.8,423.4 L485.2,418.8Z" fill="#1212e8"/><path d="M491.8,405.4 L496.4,410 L491.8,414.6 L487.2,410Z" fill="#1212e8"/><path d="M493.8,396.6 L498.4,401.2 L493.8,405.8 L489.2,401.2Z" fill="#1212e8"/><path d="M495.8,387.8 L500.4,392.4 L495.8,397 L491.2,392.4Z" fill="#1212e8"/><path d="M497.8,379.1 L502.4,383.7 L497.8,388.3 L493.2,383.7Z" fill="#1212e8"/></g>
<path d="M262,665 C266.2,663.6 279.6,657.8 287.5,656.5 C295.4,655.2 301.9,656.2 309.2,657.5 C316.4,658.8 325.2,661.9 331,664 C336.8,666.1 340.5,669.2 344,670 C347.5,670.8 350.7,669.2 352,669" fill="none" stroke="#5ee85e" stroke-width="3" stroke-linejoin="round" stroke-linecap="round"/>
<g><path d="M358,650.2 L362.8,655 L358,659.8 L353.2,655Z" fill="none" stroke="#98e898" stroke-width="1.5"/><path d="M361,637.2 L365.8,642 L361,646.8 L356.2,642Z" fill="none" stroke="#98e898" stroke-width="1.5"/><path d="M364,625.2 L368.8,630 L364,634.8 L359.2,630Z" fill="none" stroke="#98e898" stroke-width="1.5"/><path d="M367,613.2 L371.8,618 L367,622.8 L362.2,618Z" fill="none" stroke="#98e898" stroke-width="1.5"/><path d="M370,601.2 L374.8,606 L370,610.8 L365.2,606Z" fill="none" stroke="#98e898" stroke-width="1.5"/><path d="M373,590.2 L377.8,595 L373,599.8 L368.2,595Z" fill="none" stroke="#98e898" stroke-width="1.5"/><path d="M375.5,545.2 L380.3,550 L375.5,554.8 L370.7,550Z" fill="none" stroke="#98e898" stroke-width="1.5"/><path d="M378,520.2 L382.8,525 L378,529.8 L373.2,525Z" fill="none" stroke="#98e898" stroke-width="1.5"/><path d="M386.8,486.5 L391.6,491.3 L386.8,496.1 L382,491.3Z" fill="none" stroke="#98e898" stroke-width="1.5"/><path d="M394.3,444 L399.1,448.8 L394.3,453.6 L389.5,448.8Z" fill="none" stroke="#98e898" stroke-width="1.5"/><path d="M405.5,391.5 L410.3,396.3 L405.5,401.1 L400.7,396.3Z" fill="none" stroke="#98e898" stroke-width="1.5"/><path d="M419.7,329.7 L424.5,334.5 L419.7,339.3 L414.9,334.5Z" fill="none" stroke="#98e898" stroke-width="1.5"/><path d="M432.1,252 L436.9,256.8 L432.1,261.6 L427.3,256.8Z" fill="none" stroke="#98e898" stroke-width="1.5"/><path d="M452.4,157.1 L457.2,161.9 L452.4,166.7 L447.6,161.9Z" fill="none" stroke="#98e898" stroke-width="1.5"/></g>
<path d="M260.4,661 C262,660.2 265.5,657.8 270,656.5 C274.5,655.2 281,653.6 287.5,653.2 C294,652.8 301.9,652.9 309.2,654.2 C316.4,655.5 324.7,658.3 331,660.8 C337.3,663.3 343.6,669.4 347.2,669.4 C350.8,669.4 350.8,666.9 352.6,660.8 C354.4,654.6 356.2,640.8 358,632.5 C359.8,624.2 361.9,616.2 363.5,610.8 C365.1,605.4 350,672.3 367.8,600 C385.6,527.7 453.3,247.5 470.4,177" fill="none" stroke="#00ee00" stroke-width="3.2" stroke-linejoin="round" stroke-linecap="round"/>
<g><path d="M283,650 L288,641 L278,641Z" fill="none" stroke="#90ecec" stroke-width="1.5"/><path d="M286,637 L291,628 L281,628Z" fill="none" stroke="#90ecec" stroke-width="1.5"/><path d="M289,625 L294,616 L284,616Z" fill="none" stroke="#90ecec" stroke-width="1.5"/><path d="M295.5,612.5 L300.5,603.5 L290.5,603.5Z" fill="none" stroke="#90ecec" stroke-width="1.5"/><path d="M301.8,587.5 L306.8,578.5 L296.8,578.5Z" fill="none" stroke="#90ecec" stroke-width="1.5"/><path d="M309.3,562.5 L314.3,553.5 L304.3,553.5Z" fill="none" stroke="#90ecec" stroke-width="1.5"/><path d="M313,541.3 L318,532.3 L308,532.3Z" fill="none" stroke="#90ecec" stroke-width="1.5"/><path d="M323,510 L328,501 L318,501Z" fill="none" stroke="#90ecec" stroke-width="1.5"/><path d="M334.3,475 L339.3,466 L329.3,466Z" fill="none" stroke="#90ecec" stroke-width="1.5"/><path d="M349.3,431.3 L354.3,422.3 L344.3,422.3Z" fill="none" stroke="#90ecec" stroke-width="1.5"/><path d="M366.8,378.8 L371.8,369.8 L361.8,369.8Z" fill="none" stroke="#90ecec" stroke-width="1.5"/><path d="M390.5,315 L395.5,306 L385.5,306Z" fill="none" stroke="#90ecec" stroke-width="1.5"/></g>
<path d="M262,668.5 L279,668.5" fill="none" stroke="#30e8d8" stroke-width="12" stroke-linejoin="round" stroke-linecap="round"/>
<path d="M262,669 L277,669 L281,650 L288,607.5 L298,557.5 L304.3,520 L310.5,490 L333,425 L340.5,395 L363.5,286" fill="none" stroke="#33e6e6" stroke-width="3.2" stroke-linejoin="round" stroke-linecap="round"/>
</g>
<clipPath id="cb"><rect x="1233.8" y="70.4" width="747.8" height="603.2"/></clipPath>
<g clip-path="url(#cb)">
<path d="M1234,665.4 L1270,665.4" fill="none" stroke="#30ecec" stroke-width="11" stroke-linejoin="round" stroke-linecap="round"/>
<path d="M1283,640 C1285,641.8 1290.3,647 1295,651 C1299.7,655 1305.1,665 1310.9,664 C1316.7,663 1323.5,651.3 1330,645 C1336.5,638.7 1346.7,629.2 1350,626" fill="none" stroke="#ff0000" stroke-width="6.5" stroke-linejoin="round" stroke-linecap="round"/>
<path d="M1234,660 C1236.6,657 1243.8,646.2 1249.7,642.3 C1255.6,638.4 1264.1,637 1269.4,636.4 C1274.7,635.8 1277,636.1 1281.3,638.4 C1285.6,640.7 1290.1,645.7 1295,650 C1299.9,654.3 1305.1,664.8 1310.9,664 C1316.7,663.2 1323.8,651.2 1330,645 C1336.2,638.8 1338.7,633.5 1348.3,626.5 C1357.9,619.5 1374.6,609.8 1387.8,602.9 C1401,596 1414,589.7 1427.2,585.1 C1440.4,580.5 1455.5,577.9 1466.7,575.3 C1477.9,572.7 1482.8,571.3 1494.3,569.3 C1505.8,567.3 1520.6,563.7 1535.7,563.4 C1550.8,563.1 1567.9,565.9 1585,567.4 C1602.1,568.9 1623.2,570.5 1638.5,572.3 C1653.8,574.1 1665.7,577.5 1676.9,578.1 C1688.1,578.8 1696.2,577.7 1705.8,576.2 C1715.4,574.8 1725,572.6 1734.6,569.4 C1744.2,566.2 1753.9,562.8 1763.5,556.9 C1773.1,551 1782.7,541.2 1792.3,533.8 C1801.9,526.4 1811.6,521 1821.2,512.7 C1830.8,504.4 1840.4,493.4 1850,483.8 C1859.6,474.2 1869.2,465.2 1878.8,455 C1888.4,444.8 1902.9,427.8 1907.7,422.3" fill="none" stroke="#ff0000" stroke-width="3" stroke-linejoin="round" stroke-linecap="round"/>
<g><circle cx="1364.1" cy="618.7" r="3.8" fill="#e0101c"/><circle cx="1372" cy="614.7" r="3.8" fill="#e0101c"/><circle cx="1381.9" cy="608.8" r="3.8" fill="#e0101c"/><circle cx="1393.7" cy="602.9" r="3.8" fill="#e0101c"/><circle cx="1405.5" cy="597.9" r="3.8" fill="#e0101c"/><circle cx="1419.3" cy="590.1" r="3.8" fill="#e0101c"/><circle cx="1435.1" cy="583.2" r="3.8" fill="#e0101c"/><circle cx="1452.9" cy="579.2" r="3.8" fill="#e0101c"/><circle cx="1472.6" cy="570.3" r="3.8" fill="#e0101c"/><circle cx="1490.4" cy="567.4" r="3.8" fill="#e0101c"/><circle cx="1514" cy="564.4" r="3.8" fill="#e0101c"/><circle cx="1537.7" cy="562.4" r="3.8" fill="#e0101c"/><circle cx="1557.4" cy="563.4" r="3.8" fill="#e0101c"/><circle cx="1579.1" cy="565.4" r="3.8" fill="#e0101c"/><circle cx="1600.8" cy="566.4" r="3.8" fill="#e0101c"/><circle cx="1621.2" cy="567.5" r="3.8" fill="#e0101c"/><circle cx="1637.5" cy="572.3" r="3.8" fill="#e0101c"/><circle cx="1654.8" cy="575.2" r="3.8" fill="#e0101c"/><circle cx="1670.2" cy="578.1" r="3.8" fill="#e0101c"/><circle cx="1682.7" cy="580" r="3.8" fill="#e0101c"/><circle cx="1694.2" cy="580" r="3.8" fill="#e0101c"/><circle cx="1736.5" cy="569.4" r="3.8" fill="#e0101c"/><circle cx="1748.1" cy="561.7" r="3.8" fill="#e0101c"/><circle cx="1759.6" cy="556.9" r="3.8" fill="#e0101c"/><circle cx="1786.5" cy="542.5" r="3.8" fill="#e0101c"/><circle cx="1797.1" cy="527.1" r="3.8" fill="#e0101c"/><circle cx="1811.5" cy="517.5" r="3.8" fill="#e0101c"/><circle cx="1842.3" cy="502.1" r="3.8" fill="#e0101c"/><circle cx="1859.6" cy="474.2" r="3.8" fill="#e0101c"/><circle cx="1898" cy="447.3" r="3.8" fill="#e0101c"/><circle cx="1909.6" cy="411.7" r="3.8" fill="#e0101c"/></g>
<path d="M1244,622.5 C1246.7,621 1254,616.8 1260,613.5 C1266,610.2 1271.7,605.9 1280,602.5 C1288.3,599.1 1305,594.6 1310,593" fill="none" stroke="#ff00ff" stroke-width="4" stroke-linejoin="round" stroke-linecap="round"/>
<g><path d="M1244.4,621.5 L1249.4,630.5 L1239.4,630.5Z" fill="#e81ee8"/></g>
<path d="M1562,604 C1565,605 1574.8,608 1579.7,610 C1584.6,612 1588,614 1591.6,616 C1595.1,618 1597.9,619.9 1601,622 C1604.1,624.1 1606.6,626 1610,628.5 C1613.4,631 1618.3,634.5 1621.5,637 C1624.7,639.5 1626.1,640.5 1629.4,643.5 C1632.7,646.5 1637.9,652.2 1641.3,655 C1644.7,657.8 1648.5,659.2 1650,660" fill="none" stroke="#ff00ff" stroke-width="4" stroke-linejoin="round" stroke-linecap="round"/>
<g><path d="M1562,599.5 L1566.5,607.6 L1557.5,607.6Z" fill="#e81ee8"/><path d="M1570.6,602.3 L1575.1,610.4 L1566.1,610.4Z" fill="#e81ee8"/><path d="M1579.1,605.2 L1583.6,613.3 L1574.6,613.3Z" fill="#e81ee8"/><path d="M1587.2,609.1 L1591.7,617.2 L1582.7,617.2Z" fill="#e81ee8"/><path d="M1595,613.5 L1599.5,621.6 L1590.5,621.6Z" fill="#e81ee8"/><path d="M1602.5,618.5 L1607,626.6 L1598,626.6Z" fill="#e81ee8"/><path d="M1609.8,623.8 L1614.3,631.9 L1605.3,631.9Z" fill="#e81ee8"/><path d="M1617,629.1 L1621.5,637.2 L1612.5,637.2Z" fill="#e81ee8"/><path d="M1624.2,634.6 L1628.7,642.7 L1619.7,642.7Z" fill="#e81ee8"/><path d="M1631,640.5 L1635.5,648.6 L1626.5,648.6Z" fill="#e81ee8"/><path d="M1637.3,646.9 L1641.8,655 L1632.8,655Z" fill="#e81ee8"/><path d="M1644.3,652.6 L1648.8,660.7 L1639.8,660.7Z" fill="#e81ee8"/></g>
<path d="M1249.7,614.7 C1254.6,611.8 1269.4,601.3 1279.3,597 C1289.2,592.7 1297.4,591.7 1308.9,589.1 C1320.4,586.5 1335.2,583.3 1348.3,581.2 C1361.4,579.1 1374.6,577.4 1387.8,576.3 C1401,575.1 1414,574.5 1427.2,574.3 C1440.4,574.1 1453.6,574.1 1466.7,575.3 C1479.8,576.4 1492.9,578.6 1506.1,581.2 C1519.2,583.8 1536.6,588.6 1545.6,591 C1554.6,593.4 1555,593.8 1560,595.5 C1565,597.2 1569.2,598.4 1575.8,601 C1582.4,603.6 1591.5,607.3 1599.4,611.3 C1607.3,615.2 1616.5,620.5 1623.1,624.7 C1629.7,628.9 1634.3,633.1 1638.9,636.3 C1643.5,639.5 1646.8,640.9 1650.7,643.8 C1654.7,646.7 1658.6,651.2 1662.6,653.7 C1666.5,656.2 1670.7,657.9 1674.4,658.7 C1678.1,659.5 1681.4,660 1684.7,658.7 C1688,657.4 1691.2,654.7 1694.1,650.7 C1697,646.8 1700,640.9 1702,635 C1704,629.1 1704.7,621.1 1706,615.2 C1707.3,609.3 1708.6,604.6 1709.9,599.4 C1711.2,594.1 1713.2,586.3 1713.9,583.7" fill="none" stroke="#0000ff" stroke-width="7" stroke-linejoin="round" stroke-linecap="round"/>
<g><path d="M1249.7,609.7 L1254.7,614.7 L1249.7,619.7 L1244.7,614.7Z" fill="#0a0af0"/><path d="M1254.8,606.5 L1259.8,611.5 L1254.8,616.5 L1249.8,611.5Z" fill="#0a0af0"/><path d="M1259.8,603.2 L1264.8,608.2 L1259.8,613.2 L1254.8,608.2Z" fill="#0a0af0"/><path d="M1264.8,600 L1269.8,605 L1264.8,610 L1259.8,605Z" fill="#0a0af0"/><path d="M1270,596.9 L1275,601.9 L1270,606.9 L1265,601.9Z" fill="#0a0af0"/><path d="M1275.2,594 L1280.2,599 L1275.2,604 L1270.2,599Z" fill="#0a0af0"/><path d="M1280.7,591.4 L1285.7,596.4 L1280.7,601.4 L1275.7,596.4Z" fill="#0a0af0"/><path d="M1286.3,589.4 L1291.3,594.4 L1286.3,599.4 L1281.3,594.4Z" fill="#0a0af0"/><path d="M1292.1,587.8 L1297.1,592.8 L1292.1,597.8 L1287.1,592.8Z" fill="#0a0af0"/><path d="M1297.9,586.5 L1302.9,591.5 L1297.9,596.5 L1292.9,591.5Z" fill="#0a0af0"/><path d="M1303.8,585.2 L1308.8,590.2 L1303.8,595.2 L1298.8,590.2Z" fill="#0a0af0"/><path d="M1309.7,583.9 L1314.7,588.9 L1309.7,593.9 L1304.7,588.9Z" fill="#0a0af0"/><path d="M1315.5,582.6 L1320.5,587.6 L1315.5,592.6 L1310.5,587.6Z" fill="#0a0af0"/><path d="M1321.4,581.3 L1326.4,586.3 L1321.4,591.3 L1316.4,586.3Z" fill="#0a0af0"/><path d="M1327.3,580.1 L1332.3,585.1 L1327.3,590.1 L1322.3,585.1Z" fill="#0a0af0"/><path d="M1333.1,578.9 L1338.1,583.9 L1333.1,588.9 L1328.1,583.9Z" fill="#0a0af0"/><path d="M1339,577.8 L1344,582.8 L1339,587.8 L1334,582.8Z" fill="#0a0af0"/><path d="M1344.9,576.8 L1349.9,581.8 L1344.9,586.8 L1339.9,581.8Z" fill="#0a0af0"/><path d="M1350.9,575.8 L1355.9,580.8 L1350.9,585.8 L1345.9,580.8Z" fill="#0a0af0"/><path d="M1356.8,574.9 L1361.8,579.9 L1356.8,584.9 L1351.8,579.9Z" fill="#0a0af0"/><path d="M1362.7,574.1 L1367.7,579.1 L1362.7,584.1 L1357.7,579.1Z" fill="#0a0af0"/><path d="M1368.7,573.3 L1373.7,578.3 L1368.7,583.3 L1363.7,578.3Z" fill="#0a0af0"/><path d="M1374.6,572.6 L1379.6,577.6 L1374.6,582.6 L1369.6,577.6Z" fill="#0a0af0"/><path d="M1380.6,572 L1385.6,577 L1380.6,582 L1375.6,577Z" fill="#0a0af0"/><path d="M1386.6,571.4 L1391.6,576.4 L1386.6,581.4 L1381.6,576.4Z" fill="#0a0af0"/><path d="M1392.6,570.9 L1397.6,575.9 L1392.6,580.9 L1387.6,575.9Z" fill="#0a0af0"/><path d="M1398.5,570.5 L1403.5,575.5 L1398.5,580.5 L1393.5,575.5Z" fill="#0a0af0"/><path d="M1404.5,570.1 L1409.5,575.1 L1404.5,580.1 L1399.5,575.1Z" fill="#0a0af0"/><path d="M1410.5,569.8 L1415.5,574.8 L1410.5,579.8 L1405.5,574.8Z" fill="#0a0af0"/><path d="M1416.5,569.5 L1421.5,574.5 L1416.5,579.5 L1411.5,574.5Z" fill="#0a0af0"/><path d="M1422.5,569.4 L1427.5,574.4 L1422.5,579.4 L1417.5,574.4Z" fill="#0a0af0"/><path d="M1428.5,569.3 L1433.5,574.3 L1428.5,579.3 L1423.5,574.3Z" fill="#0a0af0"/><path d="M1434.5,569.2 L1439.5,574.2 L1434.5,579.2 L1429.5,574.2Z" fill="#0a0af0"/><path d="M1440.5,569.2 L1445.5,574.2 L1440.5,579.2 L1435.5,574.2Z" fill="#0a0af0"/><path d="M1446.5,569.3 L1451.5,574.3 L1446.5,579.3 L1441.5,574.3Z" fill="#0a0af0"/><path d="M1452.5,569.5 L1457.5,574.5 L1452.5,579.5 L1447.5,574.5Z" fill="#0a0af0"/><path d="M1458.5,569.7 L1463.5,574.7 L1458.5,579.7 L1453.5,574.7Z" fill="#0a0af0"/><path d="M1464.5,570.1 L1469.5,575.1 L1464.5,580.1 L1459.5,575.1Z" fill="#0a0af0"/><path d="M1470.5,570.7 L1475.5,575.7 L1470.5,580.7 L1465.5,575.7Z" fill="#0a0af0"/><path d="M1476.4,571.3 L1481.4,576.3 L1476.4,581.3 L1471.4,576.3Z" fill="#0a0af0"/><path d="M1482.4,572.1 L1487.4,577.1 L1482.4,582.1 L1477.4,577.1Z" fill="#0a0af0"/><path d="M1488.3,573 L1493.3,578 L1488.3,583 L1483.3,578Z" fill="#0a0af0"/><path d="M1494.2,574 L1499.2,579 L1494.2,584 L1489.2,579Z" fill="#0a0af0"/><path d="M1500.1,575.1 L1505.1,580.1 L1500.1,585.1 L1495.1,580.1Z" fill="#0a0af0"/><path d="M1506,576.2 L1511,581.2 L1506,586.2 L1501,581.2Z" fill="#0a0af0"/><path d="M1511.9,577.4 L1516.9,582.4 L1511.9,587.4 L1506.9,582.4Z" fill="#0a0af0"/><path d="M1517.7,578.8 L1522.7,583.8 L1517.7,588.8 L1512.7,583.8Z" fill="#0a0af0"/><path d="M1523.6,580.2 L1528.6,585.2 L1523.6,590.2 L1518.6,585.2Z" fill="#0a0af0"/><path d="M1529.4,581.7 L1534.4,586.7 L1529.4,591.7 L1524.4,586.7Z" fill="#0a0af0"/><path d="M1535.2,583.2 L1540.2,588.2 L1535.2,593.2 L1530.2,588.2Z" fill="#0a0af0"/><path d="M1541,584.8 L1546,589.8 L1541,594.8 L1536,589.8Z" fill="#0a0af0"/><path d="M1546.8,586.3 L1551.8,591.3 L1546.8,596.3 L1541.8,591.3Z" fill="#0a0af0"/><path d="M1552.6,588 L1557.6,593 L1552.6,598 L1547.6,593Z" fill="#0a0af0"/><path d="M1558.2,589.9 L1563.2,594.9 L1558.2,599.9 L1553.2,594.9Z" fill="#0a0af0"/><path d="M1563.9,591.8 L1568.9,596.8 L1563.9,601.8 L1558.9,596.8Z" fill="#0a0af0"/><path d="M1569.6,593.7 L1574.6,598.7 L1569.6,603.7 L1564.6,598.7Z" fill="#0a0af0"/><path d="M1575.2,595.8 L1580.2,600.8 L1575.2,605.8 L1570.2,600.8Z" fill="#0a0af0"/><path d="M1580.8,598 L1585.8,603 L1580.8,608 L1575.8,603Z" fill="#0a0af0"/><path d="M1586.3,600.3 L1591.3,605.3 L1586.3,610.3 L1581.3,605.3Z" fill="#0a0af0"/><path d="M1591.8,602.7 L1596.8,607.7 L1591.8,612.7 L1586.8,607.7Z" fill="#0a0af0"/><path d="M1597.3,605.3 L1602.3,610.3 L1597.3,615.3 L1592.3,610.3Z" fill="#0a0af0"/><path d="M1602.6,608 L1607.6,613 L1602.6,618 L1597.6,613Z" fill="#0a0af0"/><path d="M1607.9,610.8 L1612.9,615.8 L1607.9,620.8 L1602.9,615.8Z" fill="#0a0af0"/><path d="M1613.2,613.7 L1618.2,618.7 L1613.2,623.7 L1608.2,618.7Z" fill="#0a0af0"/><path d="M1618.3,616.8 L1623.3,621.8 L1618.3,626.8 L1613.3,621.8Z" fill="#0a0af0"/><path d="M1623.4,619.9 L1628.4,624.9 L1623.4,629.9 L1618.4,624.9Z" fill="#0a0af0"/><path d="M1628.4,623.3 L1633.4,628.3 L1628.4,633.3 L1623.4,628.3Z" fill="#0a0af0"/><path d="M1633.2,627 L1638.2,632 L1633.2,637 L1628.2,632Z" fill="#0a0af0"/><path d="M1637.9,630.6 L1642.9,635.6 L1637.9,640.6 L1632.9,635.6Z" fill="#0a0af0"/><path d="M1642.9,633.9 L1647.9,638.9 L1642.9,643.9 L1637.9,638.9Z" fill="#0a0af0"/><path d="M1648.1,637 L1653.1,642 L1648.1,647 L1643.1,642Z" fill="#0a0af0"/><path d="M1652.9,640.6 L1657.9,645.6 L1652.9,650.6 L1647.9,645.6Z" fill="#0a0af0"/><path d="M1657.4,644.6 L1662.4,649.6 L1657.4,654.6 L1652.4,649.6Z" fill="#0a0af0"/><path d="M1662,648.3 L1667,653.3 L1662,658.3 L1657,653.3Z" fill="#0a0af0"/><path d="M1667.3,651.2 L1672.3,656.2 L1667.3,661.2 L1662.3,656.2Z" fill="#0a0af0"/><path d="M1672.9,653.3 L1677.9,658.3 L1672.9,663.3 L1667.9,658.3Z" fill="#0a0af0"/><path d="M1678.8,654.5 L1683.8,659.5 L1678.8,664.5 L1673.8,659.5Z" fill="#0a0af0"/><path d="M1684.7,653.7 L1689.7,658.7 L1684.7,663.7 L1679.7,658.7Z" fill="#0a0af0"/><path d="M1689.7,650.5 L1694.7,655.5 L1689.7,660.5 L1684.7,655.5Z" fill="#0a0af0"/><path d="M1693.8,646.1 L1698.8,651.1 L1693.8,656.1 L1688.8,651.1Z" fill="#0a0af0"/><path d="M1697,641.1 L1702,646.1 L1697,651.1 L1692,646.1Z" fill="#0a0af0"/><path d="M1699.7,635.7 L1704.7,640.7 L1699.7,645.7 L1694.7,640.7Z" fill="#0a0af0"/><path d="M1701.9,630.2 L1706.9,635.2 L1701.9,640.2 L1696.9,635.2Z" fill="#0a0af0"/><path d="M1703.5,624.4 L1708.5,629.4 L1703.5,634.4 L1698.5,629.4Z" fill="#0a0af0"/><path d="M1704.5,618.5 L1709.5,623.5 L1704.5,628.5 L1699.5,623.5Z" fill="#0a0af0"/><path d="M1705.5,612.5 L1710.5,617.5 L1705.5,622.5 L1700.5,617.5Z" fill="#0a0af0"/><path d="M1706.8,606.7 L1711.8,611.7 L1706.8,616.7 L1701.8,611.7Z" fill="#0a0af0"/><path d="M1708.3,600.9 L1713.3,605.9 L1708.3,610.9 L1703.3,605.9Z" fill="#0a0af0"/><path d="M1709.7,595 L1714.7,600 L1709.7,605 L1704.7,600Z" fill="#0a0af0"/><path d="M1711.2,589.2 L1716.2,594.2 L1711.2,599.2 L1706.2,594.2Z" fill="#0a0af0"/><path d="M1712.7,583.4 L1717.7,588.4 L1712.7,593.4 L1707.7,588.4Z" fill="#0a0af0"/></g>
<path d="M1650.7,647 C1652.7,648.7 1658.6,654.7 1662.6,657 C1666.5,659.3 1670.7,660.3 1674.4,661 C1678.1,661.7 1681.8,661.8 1684.7,661 C1687.6,660.2 1690.8,656.8 1692,656" fill="none" stroke="#8a10f0" stroke-width="6" stroke-linejoin="round" stroke-linecap="round"/>
<path d="M1684.6,645.4 L1748,408.8" fill="none" stroke="#ff00ff" stroke-width="3" stroke-linejoin="round" stroke-linecap="round"/>
<g><path d="M1717.3,581.7 L1723.3,592.5 L1711.3,592.5Z" fill="#e81ee8"/><path d="M1725,549 L1731,559.8 L1719,559.8Z" fill="#e81ee8"/><path d="M1738.5,523 L1744.5,533.8 L1732.5,533.8Z" fill="#e81ee8"/><path d="M1744.2,486.5 L1750.2,497.3 L1738.2,497.3Z" fill="#e81ee8"/><path d="M1746.2,457.7 L1752.2,468.5 L1740.2,468.5Z" fill="#e81ee8"/><path d="M1759.6,414.4 L1765.6,425.2 L1753.6,425.2Z" fill="#e81ee8"/></g>
<path d="M1700,635 L1711.5,572.3 L1746.2,424.2" fill="none" stroke="#0000ff" stroke-width="3" stroke-linejoin="round" stroke-linecap="round"/>
<g><path d="M1704,612 L1710,618 L1704,624 L1698,618Z" fill="#1010e0"/><path d="M1707,600 L1713,606 L1707,612 L1701,606Z" fill="#1010e0"/><path d="M1710,591.3 L1716,597.3 L1710,603.3 L1704,597.3Z" fill="#1010e0"/><path d="M1715.4,576.2 L1721.4,582.2 L1715.4,588.2 L1709.4,582.2Z" fill="#1010e0"/><path d="M1719.2,556.7 L1725.2,562.7 L1719.2,568.7 L1713.2,562.7Z" fill="#1010e0"/><path d="M1730.8,533.6 L1736.8,539.6 L1730.8,545.6 L1724.8,539.6Z" fill="#1010e0"/><path d="M1736.5,499 L1742.5,505 L1736.5,511 L1730.5,505Z" fill="#1010e0"/><path d="M1734.6,466.3 L1740.6,472.3 L1734.6,478.3 L1728.6,472.3Z" fill="#1010e0"/><path d="M1748,427.8 L1754,433.8 L1748,439.8 L1742,433.8Z" fill="#1010e0"/></g>
<g><path d="M1289.2,626.7 L1293.5,631 L1289.2,635.3 L1284.9,631Z" fill="none" stroke="#86e486" stroke-width="1.4"/><path d="M1294.6,625.9 L1298.9,630.2 L1294.6,634.5 L1290.3,630.2Z" fill="none" stroke="#86e486" stroke-width="1.4"/><path d="M1300.1,625 L1304.4,629.3 L1300.1,633.6 L1295.8,629.3Z" fill="none" stroke="#86e486" stroke-width="1.4"/><path d="M1305.5,624.2 L1309.8,628.5 L1305.5,632.8 L1301.2,628.5Z" fill="none" stroke="#86e486" stroke-width="1.4"/><path d="M1310.9,623.4 L1315.2,627.7 L1310.9,632 L1306.6,627.7Z" fill="none" stroke="#86e486" stroke-width="1.4"/><path d="M1316.4,622.6 L1320.7,626.9 L1316.4,631.2 L1312.1,626.9Z" fill="none" stroke="#86e486" stroke-width="1.4"/><path d="M1321.8,621.9 L1326.1,626.2 L1321.8,630.5 L1317.5,626.2Z" fill="none" stroke="#86e486" stroke-width="1.4"/><path d="M1327.3,621.2 L1331.6,625.5 L1327.3,629.8 L1323,625.5Z" fill="none" stroke="#86e486" stroke-width="1.4"/><path d="M1332.8,620.8 L1337.1,625.1 L1332.8,629.4 L1328.5,625.1Z" fill="none" stroke="#86e486" stroke-width="1.4"/><path d="M1338.3,620.7 L1342.6,625 L1338.3,629.3 L1334,625Z" fill="none" stroke="#86e486" stroke-width="1.4"/><path d="M1343.8,620.7 L1348.1,625 L1343.8,629.3 L1339.5,625Z" fill="none" stroke="#86e486" stroke-width="1.4"/><path d="M1349.3,620.8 L1353.6,625.1 L1349.3,629.4 L1345,625.1Z" fill="none" stroke="#86e486" stroke-width="1.4"/><path d="M1354.8,621.1 L1359.1,625.4 L1354.8,629.7 L1350.5,625.4Z" fill="none" stroke="#86e486" stroke-width="1.4"/><path d="M1360.3,621.6 L1364.6,625.9 L1360.3,630.2 L1356,625.9Z" fill="none" stroke="#86e486" stroke-width="1.4"/><path d="M1365.7,622.4 L1370,626.7 L1365.7,631 L1361.4,626.7Z" fill="none" stroke="#86e486" stroke-width="1.4"/><path d="M1371.1,623.4 L1375.4,627.7 L1371.1,632 L1366.8,627.7Z" fill="none" stroke="#86e486" stroke-width="1.4"/><path d="M1376.5,624.6 L1380.8,628.9 L1376.5,633.2 L1372.2,628.9Z" fill="none" stroke="#86e486" stroke-width="1.4"/><path d="M1381.8,625.9 L1386.1,630.2 L1381.8,634.5 L1377.5,630.2Z" fill="none" stroke="#86e486" stroke-width="1.4"/><path d="M1387.1,627.3 L1391.4,631.6 L1387.1,635.9 L1382.8,631.6Z" fill="none" stroke="#86e486" stroke-width="1.4"/><path d="M1392.4,628.8 L1396.7,633.1 L1392.4,637.4 L1388.1,633.1Z" fill="none" stroke="#86e486" stroke-width="1.4"/><path d="M1397.7,630.4 L1402,634.7 L1397.7,639 L1393.4,634.7Z" fill="none" stroke="#86e486" stroke-width="1.4"/><path d="M1402.9,632.1 L1407.2,636.4 L1402.9,640.7 L1398.6,636.4Z" fill="none" stroke="#86e486" stroke-width="1.4"/><path d="M1408.1,633.9 L1412.4,638.2 L1408.1,642.5 L1403.8,638.2Z" fill="none" stroke="#86e486" stroke-width="1.4"/><path d="M1413.2,635.9 L1417.5,640.2 L1413.2,644.5 L1408.9,640.2Z" fill="none" stroke="#86e486" stroke-width="1.4"/><path d="M1418.3,638 L1422.6,642.3 L1418.3,646.6 L1414,642.3Z" fill="none" stroke="#86e486" stroke-width="1.4"/><path d="M1423.3,640.2 L1427.6,644.5 L1423.3,648.8 L1419,644.5Z" fill="none" stroke="#86e486" stroke-width="1.4"/><path d="M1428.3,642.5 L1432.6,646.8 L1428.3,651.1 L1424,646.8Z" fill="none" stroke="#86e486" stroke-width="1.4"/><path d="M1433.3,644.9 L1437.6,649.2 L1433.3,653.5 L1429,649.2Z" fill="none" stroke="#86e486" stroke-width="1.4"/><path d="M1438.3,647.2 L1442.6,651.5 L1438.3,655.8 L1434,651.5Z" fill="none" stroke="#86e486" stroke-width="1.4"/><path d="M1443.2,649.6 L1447.5,653.9 L1443.2,658.2 L1438.9,653.9Z" fill="none" stroke="#86e486" stroke-width="1.4"/><path d="M1448.2,652 L1452.5,656.3 L1448.2,660.6 L1443.9,656.3Z" fill="none" stroke="#86e486" stroke-width="1.4"/><path d="M1453.2,654.4 L1457.5,658.7 L1453.2,663 L1448.9,658.7Z" fill="none" stroke="#86e486" stroke-width="1.4"/><path d="M1458,656.9 L1462.3,661.2 L1458,665.5 L1453.7,661.2Z" fill="none" stroke="#86e486" stroke-width="1.4"/><path d="M1462.9,659.5 L1467.2,663.8 L1462.9,668.1 L1458.6,663.8Z" fill="none" stroke="#86e486" stroke-width="1.4"/></g>
<g><path d="M1478,654.2 L1482.8,659 L1478,663.8 L1473.2,659Z" fill="none" stroke="#98e898" stroke-width="1.5"/><path d="M1486.4,641.5 L1491.2,646.3 L1486.4,651.1 L1481.6,646.3Z" fill="none" stroke="#98e898" stroke-width="1.5"/><path d="M1491,627.2 L1495.8,632 L1491,636.8 L1486.2,632Z" fill="none" stroke="#98e898" stroke-width="1.5"/><path d="M1496,612.2 L1500.8,617 L1496,621.8 L1491.2,617Z" fill="none" stroke="#98e898" stroke-width="1.5"/><path d="M1502.2,588.2 L1507,593 L1502.2,597.8 L1497.4,593Z" fill="none" stroke="#98e898" stroke-width="1.5"/><path d="M1510,550.7 L1514.8,555.5 L1510,560.3 L1505.2,555.5Z" fill="none" stroke="#98e898" stroke-width="1.5"/><path d="M1514,525.2 L1518.8,530 L1514,534.8 L1509.2,530Z" fill="none" stroke="#98e898" stroke-width="1.5"/><path d="M1523.9,496.5 L1528.7,501.3 L1523.9,506.1 L1519.1,501.3Z" fill="none" stroke="#98e898" stroke-width="1.5"/><path d="M1534.7,455.1 L1539.5,459.9 L1534.7,464.7 L1529.9,459.9Z" fill="none" stroke="#98e898" stroke-width="1.5"/><path d="M1543.6,400.8 L1548.4,405.6 L1543.6,410.4 L1538.8,405.6Z" fill="none" stroke="#98e898" stroke-width="1.5"/></g>
<path d="M1236,648 C1237.5,647.1 1241.1,644.5 1245,642.5 C1248.9,640.5 1254.9,637.8 1259.6,636 C1264.3,634.2 1268.7,633.3 1273.4,632 C1278.1,630.7 1285.6,628.7 1288,628" fill="none" stroke="#30e830" stroke-width="6" stroke-linejoin="round" stroke-linecap="round"/>
<path d="M1234,647.5 C1235.8,646.4 1240.7,643.2 1245,641 C1249.3,638.8 1254.9,635.8 1259.6,634 C1264.3,632.2 1268.5,631.4 1273.4,630 C1278.3,628.6 1281.3,627 1289.2,625.5 C1297.1,624 1312.3,621.8 1320.8,620.8 C1329.3,619.8 1332.1,619.4 1340,619.5 C1347.9,619.6 1356.8,619.4 1368,621.6 C1379.2,623.8 1394.3,627.7 1407.5,632.5 C1420.7,637.3 1436.8,645.3 1447,650.2 C1457.2,655.1 1463.5,664.3 1468.7,662 C1474,659.7 1474.2,652.2 1478.5,636.4 C1482.8,620.6 1488,593.7 1494.3,567.4 C1500.5,541.1 1509.1,506.2 1516,478.6 C1522.9,451 1532.4,414.5 1535.7,401.7" fill="none" stroke="#00ee00" stroke-width="3.2" stroke-linejoin="round" stroke-linecap="round"/>
<path d="M1234,665 C1240.1,665.1 1263.5,666.7 1270.5,665.5 C1277.5,664.3 1274.5,660.8 1276,658 C1277.5,655.2 1277.8,653.5 1279.3,649 C1280.8,644.5 1282.8,640.8 1285.3,631 C1287.8,621.2 1290.7,606.5 1294,590 C1297.3,573.5 1299.6,560.9 1305,532 C1310.4,503.1 1323,435.8 1326.6,416.5" fill="none" stroke="#33e6e6" stroke-width="3.5" stroke-linejoin="round" stroke-linecap="round"/>
<g><path d="M1285,630 L1290,621 L1280,621Z" fill="none" stroke="#90ecec" stroke-width="1.5"/><path d="M1292,605 L1297,596 L1287,596Z" fill="none" stroke="#90ecec" stroke-width="1.5"/><path d="M1299,577 L1304,568 L1294,568Z" fill="none" stroke="#90ecec" stroke-width="1.5"/><path d="M1305,553 L1310,544 L1300,544Z" fill="none" stroke="#90ecec" stroke-width="1.5"/><path d="M1314.8,507.3 L1319.8,498.3 L1309.8,498.3Z" fill="none" stroke="#90ecec" stroke-width="1.5"/><path d="M1325.7,469.8 L1330.7,460.8 L1320.7,460.8Z" fill="none" stroke="#90ecec" stroke-width="1.5"/><path d="M1337.5,426.4 L1342.5,417.4 L1332.5,417.4Z" fill="none" stroke="#90ecec" stroke-width="1.5"/></g>
</g>
<clipPath id="cc"><rect x="239" y="854.6" width="771" height="630.2"/></clipPath>
<g clip-path="url(#cc)">
<path d="M239.5,1010 C242.8,1015.8 252.3,1033.2 259.6,1044.5 C266.9,1055.8 275.7,1066.9 283.3,1078.1 C290.9,1089.3 297.8,1100.1 305,1111.6 C312.2,1123.1 319.8,1135.7 326.6,1147.1 C333.4,1158.5 338.7,1168 345.8,1180 C352.9,1192 361.2,1206.2 369.4,1219.4 C377.6,1232.6 386.9,1248.1 395.1,1258.9 C403.3,1269.8 409.9,1276 418.8,1284.5 C427.7,1293 436.8,1302.6 448.3,1310.2 C459.8,1317.8 474.6,1325.3 487.8,1329.9 C501,1334.5 514.1,1335.8 527.2,1337.8 C540.4,1339.8 552.9,1340.6 566.7,1341.7 C580.5,1342.8 590,1342.6 610,1344.3 C630,1346 661.2,1348.6 686.8,1352 C712.4,1355.4 738,1360.1 763.6,1364.8 C789.2,1369.5 814.8,1373.8 840.4,1380.2 C866,1386.6 895.8,1395.5 917.1,1403.2 C938.4,1410.9 952.9,1417.7 968.3,1426.2 C983.7,1434.7 1002.5,1449.7 1009.3,1454.4" fill="none" stroke="#c4f8f8" stroke-width="9" stroke-linejoin="round" stroke-linecap="round"/>
<path d="M239.5,1010 C242.8,1015.8 252.3,1033.2 259.6,1044.5 C266.9,1055.8 275.7,1066.9 283.3,1078.1 C290.9,1089.3 297.8,1100.1 305,1111.6 C312.2,1123.1 319.8,1135.7 326.6,1147.1 C333.4,1158.5 338.7,1168 345.8,1180 C352.9,1192 361.2,1206.2 369.4,1219.4 C377.6,1232.6 386.9,1248.1 395.1,1258.9 C403.3,1269.8 409.9,1276 418.8,1284.5 C427.7,1293 436.8,1302.6 448.3,1310.2 C459.8,1317.8 474.6,1325.3 487.8,1329.9 C501,1334.5 514.1,1335.8 527.2,1337.8 C540.4,1339.8 552.9,1340.6 566.7,1341.7 C580.5,1342.8 590,1342.6 610,1344.3 C630,1346 661.2,1348.6 686.8,1352 C712.4,1355.4 738,1360.1 763.6,1364.8 C789.2,1369.5 814.8,1373.8 840.4,1380.2 C866,1386.6 895.8,1395.5 917.1,1403.2 C938.4,1410.9 952.9,1417.7 968.3,1426.2 C983.7,1434.7 1002.5,1449.7 1009.3,1454.4" fill="none" stroke="#48e4e4" stroke-width="2" stroke-linejoin="round" stroke-linecap="round"/>
<g><path d="M239,1014.5 L243.5,1006.4 L234.5,1006.4Z" fill="none" stroke="#7ee6e6" stroke-width="1.3"/><path d="M250,1033 L254.5,1024.9 L245.5,1024.9Z" fill="none" stroke="#7ee6e6" stroke-width="1.3"/><path d="M261,1051.2 L265.5,1043.1 L256.5,1043.1Z" fill="none" stroke="#7ee6e6" stroke-width="1.3"/><path d="M272,1066.8 L276.5,1058.7 L267.5,1058.7Z" fill="none" stroke="#7ee6e6" stroke-width="1.3"/><path d="M283.1,1082.2 L287.6,1074.1 L278.6,1074.1Z" fill="none" stroke="#7ee6e6" stroke-width="1.3"/><path d="M294.1,1098.9 L298.6,1090.8 L289.6,1090.8Z" fill="none" stroke="#7ee6e6" stroke-width="1.3"/><path d="M305.1,1116.2 L309.6,1108.1 L300.6,1108.1Z" fill="none" stroke="#7ee6e6" stroke-width="1.3"/><path d="M316.1,1134.1 L320.6,1126 L311.6,1126Z" fill="none" stroke="#7ee6e6" stroke-width="1.3"/><path d="M327.1,1152.5 L331.6,1144.4 L322.6,1144.4Z" fill="none" stroke="#7ee6e6" stroke-width="1.3"/><path d="M338.1,1171.4 L342.6,1163.3 L333.6,1163.3Z" fill="none" stroke="#7ee6e6" stroke-width="1.3"/><path d="M349.1,1190.2 L353.6,1182.1 L344.6,1182.1Z" fill="none" stroke="#7ee6e6" stroke-width="1.3"/><path d="M360.2,1208.8 L364.7,1200.7 L355.7,1200.7Z" fill="none" stroke="#7ee6e6" stroke-width="1.3"/><path d="M371.2,1226.7 L375.7,1218.6 L366.7,1218.6Z" fill="none" stroke="#7ee6e6" stroke-width="1.3"/><path d="M382.2,1244.4 L386.7,1236.3 L377.7,1236.3Z" fill="none" stroke="#7ee6e6" stroke-width="1.3"/><path d="M393.2,1260.8 L397.7,1252.7 L388.7,1252.7Z" fill="none" stroke="#7ee6e6" stroke-width="1.3"/><path d="M404.2,1274.4 L408.7,1266.3 L399.7,1266.3Z" fill="none" stroke="#7ee6e6" stroke-width="1.3"/><path d="M415.2,1285.6 L419.7,1277.5 L410.7,1277.5Z" fill="none" stroke="#7ee6e6" stroke-width="1.3"/><path d="M426.2,1296.2 L430.7,1288.1 L421.7,1288.1Z" fill="none" stroke="#7ee6e6" stroke-width="1.3"/><path d="M437.3,1306.4 L441.8,1298.3 L432.8,1298.3Z" fill="none" stroke="#7ee6e6" stroke-width="1.3"/><path d="M448.3,1314.7 L452.8,1306.6 L443.8,1306.6Z" fill="none" stroke="#7ee6e6" stroke-width="1.3"/><path d="M459.3,1321.3 L463.8,1313.2 L454.8,1313.2Z" fill="none" stroke="#7ee6e6" stroke-width="1.3"/><path d="M470.3,1327.1 L474.8,1319 L465.8,1319Z" fill="none" stroke="#7ee6e6" stroke-width="1.3"/><path d="M481.3,1331.9 L485.8,1323.8 L476.8,1323.8Z" fill="none" stroke="#7ee6e6" stroke-width="1.3"/><path d="M492.3,1335.9 L496.8,1327.8 L487.8,1327.8Z" fill="none" stroke="#7ee6e6" stroke-width="1.3"/><path d="M503.3,1338.6 L507.8,1330.5 L498.8,1330.5Z" fill="none" stroke="#7ee6e6" stroke-width="1.3"/><path d="M514.4,1340.4 L518.9,1332.3 L509.9,1332.3Z" fill="none" stroke="#7ee6e6" stroke-width="1.3"/><path d="M525.4,1342 L529.9,1333.9 L520.9,1333.9Z" fill="none" stroke="#7ee6e6" stroke-width="1.3"/><path d="M536.4,1343.5 L540.9,1335.4 L531.9,1335.4Z" fill="none" stroke="#7ee6e6" stroke-width="1.3"/><path d="M547.4,1344.6 L551.9,1336.5 L542.9,1336.5Z" fill="none" stroke="#7ee6e6" stroke-width="1.3"/><path d="M558.4,1345.6 L562.9,1337.5 L553.9,1337.5Z" fill="none" stroke="#7ee6e6" stroke-width="1.3"/><path d="M569.4,1346.4 L573.9,1338.3 L564.9,1338.3Z" fill="none" stroke="#7ee6e6" stroke-width="1.3"/><path d="M580.4,1347 L584.9,1338.9 L575.9,1338.9Z" fill="none" stroke="#7ee6e6" stroke-width="1.3"/><path d="M591.5,1347.5 L596,1339.4 L587,1339.4Z" fill="none" stroke="#7ee6e6" stroke-width="1.3"/><path d="M602.5,1348.2 L607,1340.1 L598,1340.1Z" fill="none" stroke="#7ee6e6" stroke-width="1.3"/><path d="M613.5,1349.1 L618,1341 L609,1341Z" fill="none" stroke="#7ee6e6" stroke-width="1.3"/><path d="M624.5,1350 L629,1341.9 L620,1341.9Z" fill="none" stroke="#7ee6e6" stroke-width="1.3"/><path d="M635.5,1351 L640,1342.9 L631,1342.9Z" fill="none" stroke="#7ee6e6" stroke-width="1.3"/><path d="M646.5,1352 L651,1343.9 L642,1343.9Z" fill="none" stroke="#7ee6e6" stroke-width="1.3"/><path d="M657.5,1353.1 L662,1345 L653,1345Z" fill="none" stroke="#7ee6e6" stroke-width="1.3"/><path d="M668.6,1354.3 L673.1,1346.2 L664.1,1346.2Z" fill="none" stroke="#7ee6e6" stroke-width="1.3"/><path d="M679.6,1355.6 L684.1,1347.5 L675.1,1347.5Z" fill="none" stroke="#7ee6e6" stroke-width="1.3"/><path d="M690.6,1357 L695.1,1348.9 L686.1,1348.9Z" fill="none" stroke="#7ee6e6" stroke-width="1.3"/><path d="M701.6,1358.6 L706.1,1350.5 L697.1,1350.5Z" fill="none" stroke="#7ee6e6" stroke-width="1.3"/><path d="M712.6,1360.3 L717.1,1352.2 L708.1,1352.2Z" fill="none" stroke="#7ee6e6" stroke-width="1.3"/><path d="M723.6,1362.2 L728.1,1354.1 L719.1,1354.1Z" fill="none" stroke="#7ee6e6" stroke-width="1.3"/><path d="M734.6,1364.1 L739.1,1356 L730.1,1356Z" fill="none" stroke="#7ee6e6" stroke-width="1.3"/><path d="M745.7,1366 L750.2,1357.9 L741.2,1357.9Z" fill="none" stroke="#7ee6e6" stroke-width="1.3"/><path d="M756.7,1368 L761.2,1359.9 L752.2,1359.9Z" fill="none" stroke="#7ee6e6" stroke-width="1.3"/><path d="M767.7,1370 L772.2,1361.9 L763.2,1361.9Z" fill="none" stroke="#7ee6e6" stroke-width="1.3"/><path d="M778.7,1372 L783.2,1363.9 L774.2,1363.9Z" fill="none" stroke="#7ee6e6" stroke-width="1.3"/><path d="M789.7,1374.1 L794.2,1366 L785.2,1366Z" fill="none" stroke="#7ee6e6" stroke-width="1.3"/><path d="M800.7,1376.1 L805.2,1368 L796.2,1368Z" fill="none" stroke="#7ee6e6" stroke-width="1.3"/><path d="M811.7,1378.3 L816.2,1370.2 L807.2,1370.2Z" fill="none" stroke="#7ee6e6" stroke-width="1.3"/><path d="M822.8,1380.6 L827.3,1372.5 L818.3,1372.5Z" fill="none" stroke="#7ee6e6" stroke-width="1.3"/><path d="M833.8,1383.1 L838.3,1375 L829.3,1375Z" fill="none" stroke="#7ee6e6" stroke-width="1.3"/><path d="M844.8,1385.8 L849.3,1377.7 L840.3,1377.7Z" fill="none" stroke="#7ee6e6" stroke-width="1.3"/><path d="M855.8,1388.7 L860.3,1380.6 L851.3,1380.6Z" fill="none" stroke="#7ee6e6" stroke-width="1.3"/><path d="M866.8,1391.8 L871.3,1383.7 L862.3,1383.7Z" fill="none" stroke="#7ee6e6" stroke-width="1.3"/><path d="M877.8,1395 L882.3,1386.9 L873.3,1386.9Z" fill="none" stroke="#7ee6e6" stroke-width="1.3"/><path d="M888.8,1398.3 L893.3,1390.2 L884.3,1390.2Z" fill="none" stroke="#7ee6e6" stroke-width="1.3"/><path d="M899.9,1401.8 L904.4,1393.7 L895.4,1393.7Z" fill="none" stroke="#7ee6e6" stroke-width="1.3"/><path d="M910.9,1405.5 L915.4,1397.4 L906.4,1397.4Z" fill="none" stroke="#7ee6e6" stroke-width="1.3"/><path d="M921.9,1409.5 L926.4,1401.4 L917.4,1401.4Z" fill="none" stroke="#7ee6e6" stroke-width="1.3"/><path d="M932.9,1413.7 L937.4,1405.6 L928.4,1405.6Z" fill="none" stroke="#7ee6e6" stroke-width="1.3"/><path d="M943.9,1418.4 L948.4,1410.3 L939.4,1410.3Z" fill="none" stroke="#7ee6e6" stroke-width="1.3"/><path d="M954.9,1423.6 L959.4,1415.5 L950.4,1415.5Z" fill="none" stroke="#7ee6e6" stroke-width="1.3"/><path d="M965.9,1429.4 L970.4,1421.3 L961.4,1421.3Z" fill="none" stroke="#7ee6e6" stroke-width="1.3"/><path d="M977,1435.9 L981.5,1427.8 L972.5,1427.8Z" fill="none" stroke="#7ee6e6" stroke-width="1.3"/><path d="M988,1443.4 L992.5,1435.3 L983.5,1435.3Z" fill="none" stroke="#7ee6e6" stroke-width="1.3"/><path d="M999,1451.4 L1003.5,1443.3 L994.5,1443.3Z" fill="none" stroke="#7ee6e6" stroke-width="1.3"/></g>
<path d="M239.5,979 C242.8,985 252.3,1003.8 259.6,1015 C266.9,1026.2 275.7,1036.3 283.3,1046.5 C290.9,1056.7 297.8,1066.6 305,1076.1 C312.2,1085.6 319.4,1095.5 326.6,1103.7 C333.8,1111.9 340.7,1119.2 348.3,1125.4 C355.9,1131.7 363.8,1136.9 372,1141.2 C380.2,1145.5 388.5,1148.4 397.7,1151 C406.9,1153.6 415.7,1155.3 427.2,1157 C438.7,1158.7 450.2,1159.9 466.7,1160.9 C483.1,1161.9 506.2,1162.5 525.9,1162.9 C545.6,1163.3 566,1163.3 585,1163.5 C604,1163.7 623,1163.5 640,1164 C657,1164.5 670.5,1165 686.8,1166.5 C703.1,1168 720.9,1170.1 738,1172.9 C755.1,1175.7 772.1,1178.4 789.2,1183.1 C806.3,1187.8 823.4,1193.8 840.4,1201 C857.4,1208.2 876.6,1218.5 891.5,1226.6 C906.4,1234.7 919.2,1242.8 929.9,1249.6 C940.6,1256.4 947,1261.2 955.5,1267.6 C964,1274 972.1,1279 981.1,1288 C990.1,1297 1004.6,1315.8 1009.3,1321.3" fill="none" stroke="#00ee00" stroke-width="2" stroke-linejoin="round" stroke-linecap="round"/>
<g><path d="M239,973.5 L244.5,979 L239,984.5 L233.5,979Z" fill="none" stroke="#8ee68e" stroke-width="1.6"/><path d="M250,993.1 L255.5,998.6 L250,1004.1 L244.5,998.6Z" fill="none" stroke="#8ee68e" stroke-width="1.6"/><path d="M261,1011.7 L266.5,1017.2 L261,1022.7 L255.5,1017.2Z" fill="none" stroke="#8ee68e" stroke-width="1.6"/><path d="M272,1026.5 L277.5,1032 L272,1037.5 L266.5,1032Z" fill="none" stroke="#8ee68e" stroke-width="1.6"/><path d="M283.1,1040.7 L288.6,1046.2 L283.1,1051.7 L277.6,1046.2Z" fill="none" stroke="#8ee68e" stroke-width="1.6"/><path d="M294.1,1055.8 L299.6,1061.3 L294.1,1066.8 L288.6,1061.3Z" fill="none" stroke="#8ee68e" stroke-width="1.6"/><path d="M305.1,1070.7 L310.6,1076.2 L305.1,1081.7 L299.6,1076.2Z" fill="none" stroke="#8ee68e" stroke-width="1.6"/><path d="M316.1,1085.3 L321.6,1090.8 L316.1,1096.3 L310.6,1090.8Z" fill="none" stroke="#8ee68e" stroke-width="1.6"/><path d="M327.1,1098.8 L332.6,1104.3 L327.1,1109.8 L321.6,1104.3Z" fill="none" stroke="#8ee68e" stroke-width="1.6"/><path d="M338.1,1110.6 L343.6,1116.1 L338.1,1121.6 L332.6,1116.1Z" fill="none" stroke="#8ee68e" stroke-width="1.6"/><path d="M349.1,1120.6 L354.6,1126.1 L349.1,1131.6 L343.6,1126.1Z" fill="none" stroke="#8ee68e" stroke-width="1.6"/><path d="M360.2,1128.7 L365.7,1134.2 L360.2,1139.7 L354.7,1134.2Z" fill="none" stroke="#8ee68e" stroke-width="1.6"/><path d="M371.2,1135.3 L376.7,1140.8 L371.2,1146.3 L365.7,1140.8Z" fill="none" stroke="#8ee68e" stroke-width="1.6"/><path d="M382.2,1140.3 L387.7,1145.8 L382.2,1151.3 L376.7,1145.8Z" fill="none" stroke="#8ee68e" stroke-width="1.6"/><path d="M393.2,1144.2 L398.7,1149.7 L393.2,1155.2 L387.7,1149.7Z" fill="none" stroke="#8ee68e" stroke-width="1.6"/><path d="M404.2,1147.2 L409.7,1152.7 L404.2,1158.2 L398.7,1152.7Z" fill="none" stroke="#8ee68e" stroke-width="1.6"/><path d="M415.2,1149.6 L420.7,1155.1 L415.2,1160.6 L409.7,1155.1Z" fill="none" stroke="#8ee68e" stroke-width="1.6"/><path d="M426.2,1151.4 L431.7,1156.9 L426.2,1162.4 L420.7,1156.9Z" fill="none" stroke="#8ee68e" stroke-width="1.6"/><path d="M437.3,1152.8 L442.8,1158.3 L437.3,1163.8 L431.8,1158.3Z" fill="none" stroke="#8ee68e" stroke-width="1.6"/><path d="M448.3,1154 L453.8,1159.5 L448.3,1165 L442.8,1159.5Z" fill="none" stroke="#8ee68e" stroke-width="1.6"/><path d="M459.3,1154.9 L464.8,1160.4 L459.3,1165.9 L453.8,1160.4Z" fill="none" stroke="#8ee68e" stroke-width="1.6"/><path d="M470.3,1155.6 L475.8,1161.1 L470.3,1166.6 L464.8,1161.1Z" fill="none" stroke="#8ee68e" stroke-width="1.6"/><path d="M481.3,1156.1 L486.8,1161.6 L481.3,1167.1 L475.8,1161.6Z" fill="none" stroke="#8ee68e" stroke-width="1.6"/><path d="M492.3,1156.5 L497.8,1162 L492.3,1167.5 L486.8,1162Z" fill="none" stroke="#8ee68e" stroke-width="1.6"/><path d="M503.3,1156.8 L508.8,1162.3 L503.3,1167.8 L497.8,1162.3Z" fill="none" stroke="#8ee68e" stroke-width="1.6"/><path d="M514.4,1157.1 L519.9,1162.6 L514.4,1168.1 L508.9,1162.6Z" fill="none" stroke="#8ee68e" stroke-width="1.6"/><path d="M525.4,1157.4 L530.9,1162.9 L525.4,1168.4 L519.9,1162.9Z" fill="none" stroke="#8ee68e" stroke-width="1.6"/><path d="M536.4,1157.6 L541.9,1163.1 L536.4,1168.6 L530.9,1163.1Z" fill="none" stroke="#8ee68e" stroke-width="1.6"/><path d="M547.4,1157.7 L552.9,1163.2 L547.4,1168.7 L541.9,1163.2Z" fill="none" stroke="#8ee68e" stroke-width="1.6"/><path d="M558.4,1157.8 L563.9,1163.3 L558.4,1168.8 L552.9,1163.3Z" fill="none" stroke="#8ee68e" stroke-width="1.6"/><path d="M569.4,1157.9 L574.9,1163.4 L569.4,1168.9 L563.9,1163.4Z" fill="none" stroke="#8ee68e" stroke-width="1.6"/><path d="M580.4,1158 L585.9,1163.5 L580.4,1169 L574.9,1163.5Z" fill="none" stroke="#8ee68e" stroke-width="1.6"/><path d="M591.5,1158 L597,1163.5 L591.5,1169 L586,1163.5Z" fill="none" stroke="#8ee68e" stroke-width="1.6"/><path d="M602.5,1158.1 L608,1163.6 L602.5,1169.1 L597,1163.6Z" fill="none" stroke="#8ee68e" stroke-width="1.6"/><path d="M613.5,1158.1 L619,1163.6 L613.5,1169.1 L608,1163.6Z" fill="none" stroke="#8ee68e" stroke-width="1.6"/><path d="M624.5,1158.2 L630,1163.7 L624.5,1169.2 L619,1163.7Z" fill="none" stroke="#8ee68e" stroke-width="1.6"/><path d="M635.5,1158.4 L641,1163.9 L635.5,1169.4 L630,1163.9Z" fill="none" stroke="#8ee68e" stroke-width="1.6"/><path d="M646.5,1158.7 L652,1164.2 L646.5,1169.7 L641,1164.2Z" fill="none" stroke="#8ee68e" stroke-width="1.6"/><path d="M657.5,1159.1 L663,1164.6 L657.5,1170.1 L652,1164.6Z" fill="none" stroke="#8ee68e" stroke-width="1.6"/><path d="M668.6,1159.6 L674.1,1165.1 L668.6,1170.6 L663.1,1165.1Z" fill="none" stroke="#8ee68e" stroke-width="1.6"/><path d="M679.6,1160.4 L685.1,1165.9 L679.6,1171.4 L674.1,1165.9Z" fill="none" stroke="#8ee68e" stroke-width="1.6"/><path d="M690.6,1161.4 L696.1,1166.9 L690.6,1172.4 L685.1,1166.9Z" fill="none" stroke="#8ee68e" stroke-width="1.6"/><path d="M701.6,1162.5 L707.1,1168 L701.6,1173.5 L696.1,1168Z" fill="none" stroke="#8ee68e" stroke-width="1.6"/><path d="M712.6,1163.8 L718.1,1169.3 L712.6,1174.8 L707.1,1169.3Z" fill="none" stroke="#8ee68e" stroke-width="1.6"/><path d="M723.6,1165.2 L729.1,1170.7 L723.6,1176.2 L718.1,1170.7Z" fill="none" stroke="#8ee68e" stroke-width="1.6"/><path d="M734.6,1166.9 L740.1,1172.4 L734.6,1177.9 L729.1,1172.4Z" fill="none" stroke="#8ee68e" stroke-width="1.6"/><path d="M745.7,1168.6 L751.2,1174.1 L745.7,1179.6 L740.2,1174.1Z" fill="none" stroke="#8ee68e" stroke-width="1.6"/><path d="M756.7,1170.5 L762.2,1176 L756.7,1181.5 L751.2,1176Z" fill="none" stroke="#8ee68e" stroke-width="1.6"/><path d="M767.7,1172.6 L773.2,1178.1 L767.7,1183.6 L762.2,1178.1Z" fill="none" stroke="#8ee68e" stroke-width="1.6"/><path d="M778.7,1174.9 L784.2,1180.4 L778.7,1185.9 L773.2,1180.4Z" fill="none" stroke="#8ee68e" stroke-width="1.6"/><path d="M789.7,1177.7 L795.2,1183.2 L789.7,1188.7 L784.2,1183.2Z" fill="none" stroke="#8ee68e" stroke-width="1.6"/><path d="M800.7,1181 L806.2,1186.5 L800.7,1192 L795.2,1186.5Z" fill="none" stroke="#8ee68e" stroke-width="1.6"/><path d="M811.7,1184.5 L817.2,1190 L811.7,1195.5 L806.2,1190Z" fill="none" stroke="#8ee68e" stroke-width="1.6"/><path d="M822.8,1188.5 L828.3,1194 L822.8,1199.5 L817.3,1194Z" fill="none" stroke="#8ee68e" stroke-width="1.6"/><path d="M833.8,1192.7 L839.3,1198.2 L833.8,1203.7 L828.3,1198.2Z" fill="none" stroke="#8ee68e" stroke-width="1.6"/><path d="M844.8,1197.4 L850.3,1202.9 L844.8,1208.4 L839.3,1202.9Z" fill="none" stroke="#8ee68e" stroke-width="1.6"/><path d="M855.8,1202.5 L861.3,1208 L855.8,1213.5 L850.3,1208Z" fill="none" stroke="#8ee68e" stroke-width="1.6"/><path d="M866.8,1208 L872.3,1213.5 L866.8,1219 L861.3,1213.5Z" fill="none" stroke="#8ee68e" stroke-width="1.6"/><path d="M877.8,1213.8 L883.3,1219.3 L877.8,1224.8 L872.3,1219.3Z" fill="none" stroke="#8ee68e" stroke-width="1.6"/><path d="M888.8,1219.7 L894.3,1225.2 L888.8,1230.7 L883.3,1225.2Z" fill="none" stroke="#8ee68e" stroke-width="1.6"/><path d="M899.9,1225.8 L905.4,1231.3 L899.9,1236.8 L894.4,1231.3Z" fill="none" stroke="#8ee68e" stroke-width="1.6"/><path d="M910.9,1232.2 L916.4,1237.7 L910.9,1243.2 L905.4,1237.7Z" fill="none" stroke="#8ee68e" stroke-width="1.6"/><path d="M921.9,1239 L927.4,1244.5 L921.9,1250 L916.4,1244.5Z" fill="none" stroke="#8ee68e" stroke-width="1.6"/><path d="M932.9,1246 L938.4,1251.5 L932.9,1257 L927.4,1251.5Z" fill="none" stroke="#8ee68e" stroke-width="1.6"/><path d="M943.9,1253.6 L949.4,1259.1 L943.9,1264.6 L938.4,1259.1Z" fill="none" stroke="#8ee68e" stroke-width="1.6"/><path d="M954.9,1261.7 L960.4,1267.2 L954.9,1272.7 L949.4,1267.2Z" fill="none" stroke="#8ee68e" stroke-width="1.6"/><path d="M965.9,1269.7 L971.4,1275.2 L965.9,1280.7 L960.4,1275.2Z" fill="none" stroke="#8ee68e" stroke-width="1.6"/><path d="M977,1278.6 L982.5,1284.1 L977,1289.6 L971.5,1284.1Z" fill="none" stroke="#8ee68e" stroke-width="1.6"/><path d="M988,1290 L993.5,1295.5 L988,1301 L982.5,1295.5Z" fill="none" stroke="#8ee68e" stroke-width="1.6"/><path d="M999,1303.1 L1004.5,1308.6 L999,1314.1 L993.5,1308.6Z" fill="none" stroke="#8ee68e" stroke-width="1.6"/></g>
<path d="M239.5,1005 C241.2,1007.3 244.4,1013 249.7,1018.9 C255,1024.8 264.2,1035 271.4,1040.6 C278.6,1046.2 287.5,1049.6 293.1,1052.4 C298.7,1055.2 299.4,1054.8 305,1057.4 C310.6,1060 319.4,1065.1 326.6,1068.2 C333.8,1071.3 341.4,1073.8 348.3,1076.1 C355.2,1078.4 360.8,1080.2 368,1082 C375.2,1083.8 383.8,1085.2 391.7,1087 C399.6,1088.8 407.8,1090.9 415.4,1092.9 C423,1094.9 429.9,1097 437.1,1098.8 C444.3,1100.6 451.6,1101.7 458.8,1103.7 C466,1105.7 473.3,1108.3 480.5,1110.6 C487.7,1112.9 494.6,1114.9 502.2,1117.5 C509.8,1120.1 518.7,1123.1 525.9,1126.4 C533.1,1129.7 538.4,1133.2 545.6,1137.2 C552.8,1141.2 560,1144.2 569.2,1150.1 C578.4,1156 589.7,1165.5 600.8,1172.7 C611.9,1179.9 625.2,1186.6 635.6,1193.3 C646,1200 652.3,1206.4 663,1213 C673.7,1219.6 687.1,1227.1 699.6,1233 C712.1,1238.9 723.1,1243.7 738,1248.4 C752.9,1253.1 772.1,1258.2 789.2,1261.2 C806.3,1264.2 819.1,1265 840.4,1266.3 C861.7,1267.6 889,1267.7 917.1,1268.8 C945.2,1269.9 993.9,1272 1009.3,1272.7" fill="none" stroke="#ff0000" stroke-width="2" stroke-linejoin="round" stroke-linecap="round"/>
<g><circle cx="239" cy="1005" r="4" fill="#e0101c"/><circle cx="250" cy="1019.3" r="4" fill="#e0101c"/><circle cx="272" cy="1041.1" r="4" fill="#e0101c"/><circle cx="294.1" cy="1052.9" r="4" fill="#e0101c"/><circle cx="305.1" cy="1057.4" r="4" fill="#e0101c"/><circle cx="316.1" cy="1063.1" r="4" fill="#e0101c"/><circle cx="327.1" cy="1068.4" r="4" fill="#e0101c"/><circle cx="338.1" cy="1072.7" r="4" fill="#e0101c"/><circle cx="349.1" cy="1076.4" r="4" fill="#e0101c"/><circle cx="360.2" cy="1079.9" r="4" fill="#e0101c"/><circle cx="371.2" cy="1082.8" r="4" fill="#e0101c"/><circle cx="382.2" cy="1085" r="4" fill="#e0101c"/><circle cx="393.2" cy="1087.3" r="4" fill="#e0101c"/><circle cx="404.2" cy="1090" r="4" fill="#e0101c"/><circle cx="415.2" cy="1092.9" r="4" fill="#e0101c"/><circle cx="426.2" cy="1095.9" r="4" fill="#e0101c"/><circle cx="437.3" cy="1098.8" r="4" fill="#e0101c"/><circle cx="448.3" cy="1101.3" r="4" fill="#e0101c"/><circle cx="459.3" cy="1103.8" r="4" fill="#e0101c"/><circle cx="470.3" cy="1107.2" r="4" fill="#e0101c"/><circle cx="481.3" cy="1110.9" r="4" fill="#e0101c"/><circle cx="492.3" cy="1114.3" r="4" fill="#e0101c"/><circle cx="503.3" cy="1117.9" r="4" fill="#e0101c"/><circle cx="514.4" cy="1121.8" r="4" fill="#e0101c"/><circle cx="525.4" cy="1126.2" r="4" fill="#e0101c"/><circle cx="536.4" cy="1131.9" r="4" fill="#e0101c"/><circle cx="547.4" cy="1138.2" r="4" fill="#e0101c"/><circle cx="558.4" cy="1143.8" r="4" fill="#e0101c"/><circle cx="569.4" cy="1150.3" r="4" fill="#e0101c"/><circle cx="580.4" cy="1158" r="4" fill="#e0101c"/><circle cx="591.5" cy="1166.2" r="4" fill="#e0101c"/><circle cx="602.5" cy="1173.8" r="4" fill="#e0101c"/><circle cx="613.5" cy="1180.3" r="4" fill="#e0101c"/><circle cx="624.5" cy="1186.6" r="4" fill="#e0101c"/><circle cx="635.5" cy="1193.2" r="4" fill="#e0101c"/><circle cx="646.5" cy="1201.1" r="4" fill="#e0101c"/><circle cx="657.5" cy="1209.4" r="4" fill="#e0101c"/><circle cx="668.6" cy="1216.4" r="4" fill="#e0101c"/><circle cx="679.6" cy="1222.7" r="4" fill="#e0101c"/><circle cx="690.6" cy="1228.6" r="4" fill="#e0101c"/><circle cx="701.6" cy="1233.9" r="4" fill="#e0101c"/><circle cx="712.6" cy="1238.9" r="4" fill="#e0101c"/><circle cx="723.6" cy="1243.4" r="4" fill="#e0101c"/><circle cx="734.6" cy="1247.3" r="4" fill="#e0101c"/><circle cx="745.7" cy="1250.7" r="4" fill="#e0101c"/><circle cx="756.7" cy="1253.8" r="4" fill="#e0101c"/><circle cx="767.7" cy="1256.7" r="4" fill="#e0101c"/><circle cx="778.7" cy="1259.2" r="4" fill="#e0101c"/><circle cx="789.7" cy="1261.3" r="4" fill="#e0101c"/><circle cx="800.7" cy="1263" r="4" fill="#e0101c"/><circle cx="811.7" cy="1264.3" r="4" fill="#e0101c"/><circle cx="822.8" cy="1265.2" r="4" fill="#e0101c"/><circle cx="833.8" cy="1265.9" r="4" fill="#e0101c"/><circle cx="844.8" cy="1266.5" r="4" fill="#e0101c"/><circle cx="855.8" cy="1267" r="4" fill="#e0101c"/><circle cx="866.8" cy="1267.4" r="4" fill="#e0101c"/><circle cx="877.8" cy="1267.7" r="4" fill="#e0101c"/><circle cx="888.8" cy="1267.9" r="4" fill="#e0101c"/><circle cx="899.9" cy="1268.2" r="4" fill="#e0101c"/><circle cx="910.9" cy="1268.6" r="4" fill="#e0101c"/><circle cx="921.9" cy="1269" r="4" fill="#e0101c"/><circle cx="932.9" cy="1269.4" r="4" fill="#e0101c"/><circle cx="943.9" cy="1269.9" r="4" fill="#e0101c"/><circle cx="954.9" cy="1270.3" r="4" fill="#e0101c"/><circle cx="965.9" cy="1270.8" r="4" fill="#e0101c"/><circle cx="977" cy="1271.3" r="4" fill="#e0101c"/><circle cx="988" cy="1271.8" r="4" fill="#e0101c"/><circle cx="999" cy="1272.3" r="4" fill="#e0101c"/></g>
<path d="M239.5,958 C241.2,961.2 246,971.6 249.7,977.5 C253.4,983.4 258,988.4 261.6,993.3 C265.2,998.2 267.8,1002.1 271.4,1007 C275,1011.9 279.7,1017.9 283.3,1022.8 C286.9,1027.7 289.5,1032.3 293.1,1036.6 C296.7,1040.9 301.1,1044.5 305,1048.5 C308.9,1052.5 313.2,1057.2 316.8,1060.3 C320.4,1063.4 321.4,1063.6 326.6,1067.2 C331.9,1070.8 341.4,1077.9 348.3,1082 C355.2,1086.1 360.8,1089.3 368,1091.9 C375.2,1094.5 381.8,1096 391.7,1097.8 C401.6,1099.6 414.7,1101.5 427.2,1102.7 C439.7,1103.9 450.2,1104.2 466.7,1104.7 C483.1,1105.2 502,1105.5 525.9,1105.7 C549.8,1105.9 578.9,1105.3 610,1106 C641.1,1106.7 686.8,1108.5 712.4,1110.1 C738,1111.6 746.5,1112.9 763.6,1115.3 C780.7,1117.7 797.7,1120.2 814.8,1124.2 C831.9,1128.2 849,1132.3 866,1139.6 C883,1146.8 902.2,1158.3 917.1,1167.7 C932,1177.1 944.8,1187.4 955.5,1195.9 C966.2,1204.4 972.1,1210.4 981.1,1218.9 C990.1,1227.4 1004.6,1242.4 1009.3,1247.1" fill="none" stroke="#ff00ff" stroke-width="2" stroke-linejoin="round" stroke-linecap="round"/>
<g><path d="M239,954 L244.5,959.5 L239,965 L233.5,959.5Z" fill="#1010e0"/><path d="M250,974 L255.5,979.5 L250,985 L244.5,979.5Z" fill="#1010e0"/><path d="M261,988.5 L266.5,994 L261,999.5 L255.5,994Z" fill="#1010e0"/><path d="M272,1003.9 L277.5,1009.4 L272,1014.9 L266.5,1009.4Z" fill="#1010e0"/><path d="M283.1,1018.5 L288.6,1024 L283.1,1029.5 L277.6,1024Z" fill="#1010e0"/><path d="M294.1,1033.7 L299.6,1039.2 L294.1,1044.7 L288.6,1039.2Z" fill="#1010e0"/><path d="M305.1,1044.6 L310.6,1050.1 L305.1,1055.6 L299.6,1050.1Z" fill="#1010e0"/><path d="M316.1,1055.7 L321.6,1061.2 L316.1,1066.7 L310.6,1061.2Z" fill="#1010e0"/><path d="M327.1,1063.6 L332.6,1069.1 L327.1,1074.6 L321.6,1069.1Z" fill="#1010e0"/><path d="M338.1,1071.3 L343.6,1076.8 L338.1,1082.3 L332.6,1076.8Z" fill="#1010e0"/><path d="M349.1,1078.5 L354.6,1084 L349.1,1089.5 L343.6,1084Z" fill="#1010e0"/><path d="M360.2,1084.6 L365.7,1090.1 L360.2,1095.6 L354.7,1090.1Z" fill="#1010e0"/><path d="M371.2,1089 L376.7,1094.5 L371.2,1100 L365.7,1094.5Z" fill="#1010e0"/><path d="M382.2,1091.9 L387.7,1097.4 L382.2,1102.9 L376.7,1097.4Z" fill="#1010e0"/><path d="M393.2,1094.1 L398.7,1099.6 L393.2,1105.1 L387.7,1099.6Z" fill="#1010e0"/><path d="M404.2,1095.9 L409.7,1101.4 L404.2,1106.9 L398.7,1101.4Z" fill="#1010e0"/><path d="M415.2,1097.4 L420.7,1102.9 L415.2,1108.4 L409.7,1102.9Z" fill="#1010e0"/><path d="M426.2,1098.6 L431.7,1104.1 L426.2,1109.6 L420.7,1104.1Z" fill="#1010e0"/><path d="M437.3,1099.5 L442.8,1105 L437.3,1110.5 L431.8,1105Z" fill="#1010e0"/><path d="M448.3,1100.1 L453.8,1105.6 L448.3,1111.1 L442.8,1105.6Z" fill="#1010e0"/><path d="M459.3,1100.5 L464.8,1106 L459.3,1111.5 L453.8,1106Z" fill="#1010e0"/><path d="M470.3,1100.8 L475.8,1106.3 L470.3,1111.8 L464.8,1106.3Z" fill="#1010e0"/><path d="M481.3,1101.1 L486.8,1106.6 L481.3,1112.1 L475.8,1106.6Z" fill="#1010e0"/><path d="M492.3,1101.3 L497.8,1106.8 L492.3,1112.3 L486.8,1106.8Z" fill="#1010e0"/><path d="M503.3,1101.5 L508.8,1107 L503.3,1112.5 L497.8,1107Z" fill="#1010e0"/><path d="M514.4,1101.6 L519.9,1107.1 L514.4,1112.6 L508.9,1107.1Z" fill="#1010e0"/><path d="M525.4,1101.7 L530.9,1107.2 L525.4,1112.7 L519.9,1107.2Z" fill="#1010e0"/><path d="M536.4,1101.7 L541.9,1107.2 L536.4,1112.7 L530.9,1107.2Z" fill="#1010e0"/><path d="M547.4,1101.7 L552.9,1107.2 L547.4,1112.7 L541.9,1107.2Z" fill="#1010e0"/><path d="M558.4,1101.7 L563.9,1107.2 L558.4,1112.7 L552.9,1107.2Z" fill="#1010e0"/><path d="M569.4,1101.6 L574.9,1107.1 L569.4,1112.6 L563.9,1107.1Z" fill="#1010e0"/><path d="M580.4,1101.6 L585.9,1107.1 L580.4,1112.6 L574.9,1107.1Z" fill="#1010e0"/><path d="M591.5,1101.7 L597,1107.2 L591.5,1112.7 L586,1107.2Z" fill="#1010e0"/><path d="M602.5,1101.9 L608,1107.4 L602.5,1112.9 L597,1107.4Z" fill="#1010e0"/><path d="M613.5,1102.1 L619,1107.6 L613.5,1113.1 L608,1107.6Z" fill="#1010e0"/><path d="M624.5,1102.4 L630,1107.9 L624.5,1113.4 L619,1107.9Z" fill="#1010e0"/><path d="M635.5,1102.7 L641,1108.2 L635.5,1113.7 L630,1108.2Z" fill="#1010e0"/><path d="M646.5,1103.1 L652,1108.6 L646.5,1114.1 L641,1108.6Z" fill="#1010e0"/><path d="M657.5,1103.5 L663,1109 L657.5,1114.5 L652,1109Z" fill="#1010e0"/><path d="M668.6,1104 L674.1,1109.5 L668.6,1115 L663.1,1109.5Z" fill="#1010e0"/><path d="M679.6,1104.4 L685.1,1109.9 L679.6,1115.4 L674.1,1109.9Z" fill="#1010e0"/><path d="M690.6,1104.9 L696.1,1110.4 L690.6,1115.9 L685.1,1110.4Z" fill="#1010e0"/><path d="M701.6,1105.5 L707.1,1111 L701.6,1116.5 L696.1,1111Z" fill="#1010e0"/><path d="M712.6,1106.1 L718.1,1111.6 L712.6,1117.1 L707.1,1111.6Z" fill="#1010e0"/><path d="M723.6,1106.8 L729.1,1112.3 L723.6,1117.8 L718.1,1112.3Z" fill="#1010e0"/><path d="M734.6,1107.7 L740.1,1113.2 L734.6,1118.7 L729.1,1113.2Z" fill="#1010e0"/><path d="M745.7,1108.9 L751.2,1114.4 L745.7,1119.9 L740.2,1114.4Z" fill="#1010e0"/><path d="M756.7,1110.3 L762.2,1115.8 L756.7,1121.3 L751.2,1115.8Z" fill="#1010e0"/><path d="M767.7,1111.9 L773.2,1117.4 L767.7,1122.9 L762.2,1117.4Z" fill="#1010e0"/><path d="M778.7,1113.5 L784.2,1119 L778.7,1124.5 L773.2,1119Z" fill="#1010e0"/><path d="M789.7,1115.2 L795.2,1120.7 L789.7,1126.2 L784.2,1120.7Z" fill="#1010e0"/><path d="M800.7,1117.2 L806.2,1122.7 L800.7,1128.2 L795.2,1122.7Z" fill="#1010e0"/><path d="M811.7,1119.5 L817.2,1125 L811.7,1130.5 L806.2,1125Z" fill="#1010e0"/><path d="M822.8,1122.1 L828.3,1127.6 L822.8,1133.1 L817.3,1127.6Z" fill="#1010e0"/><path d="M833.8,1124.9 L839.3,1130.4 L833.8,1135.9 L828.3,1130.4Z" fill="#1010e0"/><path d="M844.8,1128 L850.3,1133.5 L844.8,1139 L839.3,1133.5Z" fill="#1010e0"/><path d="M855.8,1131.6 L861.3,1137.1 L855.8,1142.6 L850.3,1137.1Z" fill="#1010e0"/><path d="M866.8,1136 L872.3,1141.5 L866.8,1147 L861.3,1141.5Z" fill="#1010e0"/><path d="M877.8,1141.1 L883.3,1146.6 L877.8,1152.1 L872.3,1146.6Z" fill="#1010e0"/><path d="M888.8,1146.9 L894.3,1152.4 L888.8,1157.9 L883.3,1152.4Z" fill="#1010e0"/><path d="M899.9,1153.2 L905.4,1158.7 L899.9,1164.2 L894.4,1158.7Z" fill="#1010e0"/><path d="M910.9,1159.8 L916.4,1165.3 L910.9,1170.8 L905.4,1165.3Z" fill="#1010e0"/><path d="M921.9,1166.8 L927.4,1172.3 L921.9,1177.8 L916.4,1172.3Z" fill="#1010e0"/><path d="M932.9,1174.4 L938.4,1179.9 L932.9,1185.4 L927.4,1179.9Z" fill="#1010e0"/><path d="M943.9,1182.7 L949.4,1188.2 L943.9,1193.7 L938.4,1188.2Z" fill="#1010e0"/><path d="M954.9,1191.4 L960.4,1196.9 L954.9,1202.4 L949.4,1196.9Z" fill="#1010e0"/><path d="M965.9,1200.7 L971.4,1206.2 L965.9,1211.7 L960.4,1206.2Z" fill="#1010e0"/><path d="M977,1210.9 L982.5,1216.4 L977,1221.9 L971.5,1216.4Z" fill="#1010e0"/><path d="M988,1221.6 L993.5,1227.1 L988,1232.6 L982.5,1227.1Z" fill="#1010e0"/><path d="M999,1232.6 L1004.5,1238.1 L999,1243.6 L993.5,1238.1Z" fill="#1010e0"/></g>
<g><path d="M239,956.7 L243.8,965.3 L234.2,965.3Z" fill="#e81ee8"/><path d="M250,976.7 L254.8,985.3 L245.2,985.3Z" fill="#e81ee8"/><path d="M261,991.2 L265.8,999.9 L256.2,999.9Z" fill="#e81ee8"/><path d="M272,1006.6 L276.8,1015.2 L267.2,1015.2Z" fill="#e81ee8"/><path d="M283.1,1021.2 L287.9,1029.8 L278.3,1029.8Z" fill="#e81ee8"/><path d="M294.1,1036.4 L298.9,1045.1 L289.3,1045.1Z" fill="#e81ee8"/><path d="M305.1,1047.3 L309.9,1055.9 L300.3,1055.9Z" fill="#e81ee8"/><path d="M316.1,1058.4 L320.9,1067 L311.3,1067Z" fill="#e81ee8"/><path d="M327.1,1066.3 L331.9,1074.9 L322.3,1074.9Z" fill="#e81ee8"/><path d="M338.1,1073.5 L342.9,1082.2 L333.3,1082.2Z" fill="#e81ee8"/><path d="M349.1,1078.9 L353.9,1087.6 L344.3,1087.6Z" fill="#e81ee8"/><path d="M360.2,1083.3 L365,1091.9 L355.4,1091.9Z" fill="#e81ee8"/><path d="M371.2,1087.7 L376,1096.3 L366.4,1096.3Z" fill="#e81ee8"/><path d="M382.2,1090.6 L387,1099.3 L377.4,1099.3Z" fill="#e81ee8"/><path d="M393.2,1092.8 L398,1101.4 L388.4,1101.4Z" fill="#e81ee8"/><path d="M404.2,1094.6 L409,1103.2 L399.4,1103.2Z" fill="#e81ee8"/><path d="M415.2,1096.1 L420,1104.7 L410.4,1104.7Z" fill="#e81ee8"/><path d="M426.2,1097.3 L431,1105.9 L421.4,1105.9Z" fill="#e81ee8"/><path d="M437.3,1098.2 L442.1,1106.8 L432.5,1106.8Z" fill="#e81ee8"/><path d="M448.3,1098.8 L453.1,1107.4 L443.5,1107.4Z" fill="#e81ee8"/><path d="M459.3,1099.2 L464.1,1107.8 L454.5,1107.8Z" fill="#e81ee8"/><path d="M470.3,1099.5 L475.1,1108.1 L465.5,1108.1Z" fill="#e81ee8"/><path d="M481.3,1099.8 L486.1,1108.4 L476.5,1108.4Z" fill="#e81ee8"/><path d="M492.3,1100 L497.1,1108.6 L487.5,1108.6Z" fill="#e81ee8"/><path d="M503.3,1100.2 L508.1,1108.8 L498.5,1108.8Z" fill="#e81ee8"/><path d="M514.4,1100.3 L519.2,1108.9 L509.6,1108.9Z" fill="#e81ee8"/><path d="M525.4,1100.4 L530.2,1109 L520.6,1109Z" fill="#e81ee8"/><path d="M536.4,1100.4 L541.2,1109.1 L531.6,1109.1Z" fill="#e81ee8"/><path d="M547.4,1100.4 L552.2,1109.1 L542.6,1109.1Z" fill="#e81ee8"/><path d="M558.4,1100.4 L563.2,1109 L553.6,1109Z" fill="#e81ee8"/><path d="M569.4,1100.3 L574.2,1109 L564.6,1109Z" fill="#e81ee8"/><path d="M580.4,1100.3 L585.2,1109 L575.6,1109Z" fill="#e81ee8"/><path d="M591.5,1100.4 L596.3,1109 L586.7,1109Z" fill="#e81ee8"/><path d="M602.5,1100.6 L607.3,1109.2 L597.7,1109.2Z" fill="#e81ee8"/><path d="M613.5,1100.8 L618.3,1109.4 L608.7,1109.4Z" fill="#e81ee8"/><path d="M624.5,1101.1 L629.3,1109.7 L619.7,1109.7Z" fill="#e81ee8"/><path d="M635.5,1101.4 L640.3,1110.1 L630.7,1110.1Z" fill="#e81ee8"/><path d="M646.5,1101.8 L651.3,1110.5 L641.7,1110.5Z" fill="#e81ee8"/><path d="M657.5,1102.2 L662.3,1110.9 L652.7,1110.9Z" fill="#e81ee8"/><path d="M668.6,1102.7 L673.4,1111.3 L663.8,1111.3Z" fill="#e81ee8"/><path d="M679.6,1103.1 L684.4,1111.8 L674.8,1111.8Z" fill="#e81ee8"/><path d="M690.6,1103.6 L695.4,1112.3 L685.8,1112.3Z" fill="#e81ee8"/><path d="M701.6,1104.2 L706.4,1112.8 L696.8,1112.8Z" fill="#e81ee8"/><path d="M712.6,1104.8 L717.4,1113.5 L707.8,1113.5Z" fill="#e81ee8"/><path d="M723.6,1105.5 L728.4,1114.2 L718.8,1114.2Z" fill="#e81ee8"/><path d="M734.6,1106.4 L739.4,1115.1 L729.8,1115.1Z" fill="#e81ee8"/><path d="M745.7,1107.6 L750.5,1116.3 L740.9,1116.3Z" fill="#e81ee8"/><path d="M756.7,1109 L761.5,1117.7 L751.9,1117.7Z" fill="#e81ee8"/><path d="M767.7,1110.6 L772.5,1119.2 L762.9,1119.2Z" fill="#e81ee8"/><path d="M778.7,1112.2 L783.5,1120.8 L773.9,1120.8Z" fill="#e81ee8"/><path d="M789.7,1113.9 L794.5,1122.5 L784.9,1122.5Z" fill="#e81ee8"/><path d="M800.7,1115.9 L805.5,1124.5 L795.9,1124.5Z" fill="#e81ee8"/><path d="M811.7,1118.2 L816.5,1126.8 L806.9,1126.8Z" fill="#e81ee8"/><path d="M822.8,1120.8 L827.6,1129.4 L818,1129.4Z" fill="#e81ee8"/><path d="M833.8,1123.6 L838.6,1132.2 L829,1132.2Z" fill="#e81ee8"/><path d="M844.8,1126.7 L849.6,1135.3 L840,1135.3Z" fill="#e81ee8"/><path d="M855.8,1130.3 L860.6,1139 L851,1139Z" fill="#e81ee8"/><path d="M866.8,1134.7 L871.6,1143.3 L862,1143.3Z" fill="#e81ee8"/><path d="M877.8,1139.8 L882.6,1148.4 L873,1148.4Z" fill="#e81ee8"/><path d="M888.8,1145.6 L893.6,1154.2 L884,1154.2Z" fill="#e81ee8"/><path d="M899.9,1151.9 L904.7,1160.5 L895.1,1160.5Z" fill="#e81ee8"/><path d="M910.9,1158.5 L915.7,1167.2 L906.1,1167.2Z" fill="#e81ee8"/><path d="M921.9,1165.5 L926.7,1174.1 L917.1,1174.1Z" fill="#e81ee8"/><path d="M932.9,1173.1 L937.7,1181.8 L928.1,1181.8Z" fill="#e81ee8"/><path d="M943.9,1181.4 L948.7,1190.1 L939.1,1190.1Z" fill="#e81ee8"/><path d="M954.9,1190.1 L959.7,1198.8 L950.1,1198.8Z" fill="#e81ee8"/><path d="M965.9,1199.4 L970.7,1208 L961.1,1208Z" fill="#e81ee8"/><path d="M977,1209.6 L981.8,1218.3 L972.2,1218.3Z" fill="#e81ee8"/><path d="M988,1220.3 L992.8,1228.9 L983.2,1228.9Z" fill="#e81ee8"/><path d="M999,1231.3 L1003.8,1240 L994.2,1240Z" fill="#e81ee8"/></g>
</g>
<clipPath id="cd"><rect x="1207.3" y="855.5" width="764.7" height="649.5"/></clipPath>
<g clip-path="url(#cd)">
<path d="M1207.5,1007 C1213.9,1007.3 1234.2,1006.9 1245.7,1008.7 C1257.2,1010.5 1266.1,1013.3 1276.2,1017.9 C1286.3,1022.5 1296.4,1028.1 1306.6,1036.2 C1316.8,1044.3 1326.9,1052.4 1337.1,1066.6 C1347.3,1080.8 1357.4,1101.7 1367.6,1121.5 C1377.8,1141.3 1387.8,1162.6 1398,1185.4 C1408.2,1208.2 1418.3,1234.2 1428.5,1258.6 C1438.7,1283 1448.8,1312.9 1459,1331.7 C1469.2,1350.5 1479.2,1361.2 1489.4,1371.3 C1499.6,1381.4 1509.8,1387 1519.9,1392.6 C1530.1,1398.2 1539.5,1401.4 1550.3,1404.8 C1561.1,1408.2 1574.2,1411.5 1585,1413 C1595.8,1414.5 1604.9,1414.5 1615,1414 C1625.1,1413.5 1629.7,1414 1645.8,1410.1 C1661.9,1406.2 1692.4,1397.5 1711.6,1390.4 C1730.8,1383.3 1744.5,1376.2 1760.9,1367.4 C1777.4,1358.6 1793.8,1349.3 1810.3,1337.8 C1826.8,1326.3 1843.2,1313.1 1859.6,1298.3 C1876,1283.5 1895.2,1264.2 1908.9,1248.9 C1922.6,1233.6 1931.4,1223.7 1941.8,1206.2 C1952.2,1188.7 1966.5,1154.1 1971.5,1143.7" fill="none" stroke="#c8f8f8" stroke-width="7" stroke-linejoin="round" stroke-linecap="round"/>
<path d="M1207.5,1007 C1213.9,1007.3 1234.2,1006.9 1245.7,1008.7 C1257.2,1010.5 1266.1,1013.3 1276.2,1017.9 C1286.3,1022.5 1296.4,1028.1 1306.6,1036.2 C1316.8,1044.3 1326.9,1052.4 1337.1,1066.6 C1347.3,1080.8 1357.4,1101.7 1367.6,1121.5 C1377.8,1141.3 1387.8,1162.6 1398,1185.4 C1408.2,1208.2 1418.3,1234.2 1428.5,1258.6 C1438.7,1283 1448.8,1312.9 1459,1331.7 C1469.2,1350.5 1479.2,1361.2 1489.4,1371.3 C1499.6,1381.4 1509.8,1387 1519.9,1392.6 C1530.1,1398.2 1539.5,1401.4 1550.3,1404.8 C1561.1,1408.2 1574.2,1411.5 1585,1413 C1595.8,1414.5 1604.9,1414.5 1615,1414 C1625.1,1413.5 1629.7,1414 1645.8,1410.1 C1661.9,1406.2 1692.4,1397.5 1711.6,1390.4 C1730.8,1383.3 1744.5,1376.2 1760.9,1367.4 C1777.4,1358.6 1793.8,1349.3 1810.3,1337.8 C1826.8,1326.3 1843.2,1313.1 1859.6,1298.3 C1876,1283.5 1895.2,1264.2 1908.9,1248.9 C1922.6,1233.6 1931.4,1223.7 1941.8,1206.2 C1952.2,1188.7 1966.5,1154.1 1971.5,1143.7" fill="none" stroke="#48e4e4" stroke-width="2" stroke-linejoin="round" stroke-linecap="round"/>
<g><path d="M1207.3,1010.5 L1210.8,1004.2 L1203.8,1004.2Z" fill="none" stroke="#90ecec" stroke-width="1.2"/><path d="M1218.2,1010.7 L1221.7,1004.4 L1214.7,1004.4Z" fill="none" stroke="#90ecec" stroke-width="1.2"/><path d="M1229.1,1010.9 L1232.6,1004.6 L1225.6,1004.6Z" fill="none" stroke="#90ecec" stroke-width="1.2"/><path d="M1240.1,1011.5 L1243.6,1005.2 L1236.6,1005.2Z" fill="none" stroke="#90ecec" stroke-width="1.2"/><path d="M1251,1013.2 L1254.5,1006.9 L1247.5,1006.9Z" fill="none" stroke="#90ecec" stroke-width="1.2"/><path d="M1261.9,1015.9 L1265.4,1009.6 L1258.4,1009.6Z" fill="none" stroke="#90ecec" stroke-width="1.2"/><path d="M1272.8,1019.9 L1276.3,1013.6 L1269.3,1013.6Z" fill="none" stroke="#90ecec" stroke-width="1.2"/><path d="M1283.8,1025 L1287.3,1018.7 L1280.3,1018.7Z" fill="none" stroke="#90ecec" stroke-width="1.2"/><path d="M1294.7,1031.2 L1298.2,1024.9 L1291.2,1024.9Z" fill="none" stroke="#90ecec" stroke-width="1.2"/><path d="M1305.6,1038.9 L1309.1,1032.6 L1302.1,1032.6Z" fill="none" stroke="#90ecec" stroke-width="1.2"/><path d="M1316.5,1047.8 L1320,1041.5 L1313,1041.5Z" fill="none" stroke="#90ecec" stroke-width="1.2"/><path d="M1327.5,1058.3 L1331,1052 L1324,1052Z" fill="none" stroke="#90ecec" stroke-width="1.2"/><path d="M1338.4,1072 L1341.9,1065.7 L1334.9,1065.7Z" fill="none" stroke="#90ecec" stroke-width="1.2"/><path d="M1349.3,1089.9 L1352.8,1083.6 L1345.8,1083.6Z" fill="none" stroke="#90ecec" stroke-width="1.2"/><path d="M1360.2,1110.6 L1363.7,1104.3 L1356.7,1104.3Z" fill="none" stroke="#90ecec" stroke-width="1.2"/><path d="M1371.2,1132 L1374.7,1125.7 L1367.7,1125.7Z" fill="none" stroke="#90ecec" stroke-width="1.2"/><path d="M1382.1,1154.3 L1385.6,1148 L1378.6,1148Z" fill="none" stroke="#90ecec" stroke-width="1.2"/><path d="M1393,1177.8 L1396.5,1171.5 L1389.5,1171.5Z" fill="none" stroke="#90ecec" stroke-width="1.2"/><path d="M1403.9,1202.6 L1407.4,1196.3 L1400.4,1196.3Z" fill="none" stroke="#90ecec" stroke-width="1.2"/><path d="M1414.9,1228.9 L1418.4,1222.6 L1411.4,1222.6Z" fill="none" stroke="#90ecec" stroke-width="1.2"/><path d="M1425.8,1255.6 L1429.3,1249.3 L1422.3,1249.3Z" fill="none" stroke="#90ecec" stroke-width="1.2"/><path d="M1436.7,1282.7 L1440.2,1276.4 L1433.2,1276.4Z" fill="none" stroke="#90ecec" stroke-width="1.2"/><path d="M1447.6,1310.4 L1451.1,1304.1 L1444.1,1304.1Z" fill="none" stroke="#90ecec" stroke-width="1.2"/><path d="M1458.6,1334.4 L1462.1,1328.1 L1455.1,1328.1Z" fill="none" stroke="#90ecec" stroke-width="1.2"/><path d="M1469.5,1352 L1473,1345.7 L1466,1345.7Z" fill="none" stroke="#90ecec" stroke-width="1.2"/><path d="M1480.4,1365.5 L1483.9,1359.2 L1476.9,1359.2Z" fill="none" stroke="#90ecec" stroke-width="1.2"/><path d="M1491.3,1376.7 L1494.8,1370.4 L1487.8,1370.4Z" fill="none" stroke="#90ecec" stroke-width="1.2"/><path d="M1502.3,1385.5 L1505.8,1379.2 L1498.8,1379.2Z" fill="none" stroke="#90ecec" stroke-width="1.2"/><path d="M1513.2,1392.4 L1516.7,1386.1 L1509.7,1386.1Z" fill="none" stroke="#90ecec" stroke-width="1.2"/><path d="M1524.1,1398.3 L1527.6,1392 L1520.6,1392Z" fill="none" stroke="#90ecec" stroke-width="1.2"/><path d="M1535,1403.1 L1538.5,1396.8 L1531.5,1396.8Z" fill="none" stroke="#90ecec" stroke-width="1.2"/><path d="M1546,1406.9 L1549.5,1400.6 L1542.5,1400.6Z" fill="none" stroke="#90ecec" stroke-width="1.2"/><path d="M1556.9,1410.3 L1560.4,1404 L1553.4,1404Z" fill="none" stroke="#90ecec" stroke-width="1.2"/><path d="M1567.8,1413.1 L1571.3,1406.8 L1564.3,1406.8Z" fill="none" stroke="#90ecec" stroke-width="1.2"/><path d="M1578.7,1415.5 L1582.2,1409.2 L1575.2,1409.2Z" fill="none" stroke="#90ecec" stroke-width="1.2"/><path d="M1589.7,1417.1 L1593.2,1410.8 L1586.2,1410.8Z" fill="none" stroke="#90ecec" stroke-width="1.2"/><path d="M1600.6,1417.8 L1604.1,1411.5 L1597.1,1411.5Z" fill="none" stroke="#90ecec" stroke-width="1.2"/><path d="M1611.5,1417.6 L1615,1411.3 L1608,1411.3Z" fill="none" stroke="#90ecec" stroke-width="1.2"/><path d="M1622.4,1417.2 L1625.9,1410.9 L1618.9,1410.9Z" fill="none" stroke="#90ecec" stroke-width="1.2"/><path d="M1633.3,1416.2 L1636.8,1409.9 L1629.8,1409.9Z" fill="none" stroke="#90ecec" stroke-width="1.2"/><path d="M1644.3,1414 L1647.8,1407.7 L1640.8,1407.7Z" fill="none" stroke="#90ecec" stroke-width="1.2"/><path d="M1655.2,1411.2 L1658.7,1404.9 L1651.7,1404.9Z" fill="none" stroke="#90ecec" stroke-width="1.2"/><path d="M1666.1,1408.2 L1669.6,1401.9 L1662.6,1401.9Z" fill="none" stroke="#90ecec" stroke-width="1.2"/><path d="M1677,1405.1 L1680.5,1398.8 L1673.5,1398.8Z" fill="none" stroke="#90ecec" stroke-width="1.2"/><path d="M1688,1401.8 L1691.5,1395.5 L1684.5,1395.5Z" fill="none" stroke="#90ecec" stroke-width="1.2"/><path d="M1698.9,1398.3 L1702.4,1392 L1695.4,1392Z" fill="none" stroke="#90ecec" stroke-width="1.2"/><path d="M1709.8,1394.5 L1713.3,1388.2 L1706.3,1388.2Z" fill="none" stroke="#90ecec" stroke-width="1.2"/><path d="M1720.7,1390.3 L1724.2,1384 L1717.2,1384Z" fill="none" stroke="#90ecec" stroke-width="1.2"/><path d="M1731.7,1385.6 L1735.2,1379.3 L1728.2,1379.3Z" fill="none" stroke="#90ecec" stroke-width="1.2"/><path d="M1742.6,1380.4 L1746.1,1374.1 L1739.1,1374.1Z" fill="none" stroke="#90ecec" stroke-width="1.2"/><path d="M1753.5,1374.8 L1757,1368.5 L1750,1368.5Z" fill="none" stroke="#90ecec" stroke-width="1.2"/><path d="M1764.4,1369 L1767.9,1362.7 L1760.9,1362.7Z" fill="none" stroke="#90ecec" stroke-width="1.2"/><path d="M1775.4,1363 L1778.9,1356.7 L1771.9,1356.7Z" fill="none" stroke="#90ecec" stroke-width="1.2"/><path d="M1786.3,1356.7 L1789.8,1350.4 L1782.8,1350.4Z" fill="none" stroke="#90ecec" stroke-width="1.2"/><path d="M1797.2,1350 L1800.7,1343.7 L1793.7,1343.7Z" fill="none" stroke="#90ecec" stroke-width="1.2"/><path d="M1808.1,1342.8 L1811.6,1336.5 L1804.6,1336.5Z" fill="none" stroke="#90ecec" stroke-width="1.2"/><path d="M1819.1,1335 L1822.6,1328.7 L1815.6,1328.7Z" fill="none" stroke="#90ecec" stroke-width="1.2"/><path d="M1830,1326.7 L1833.5,1320.4 L1826.5,1320.4Z" fill="none" stroke="#90ecec" stroke-width="1.2"/><path d="M1840.9,1317.9 L1844.4,1311.6 L1837.4,1311.6Z" fill="none" stroke="#90ecec" stroke-width="1.2"/><path d="M1851.8,1308.7 L1855.3,1302.4 L1848.3,1302.4Z" fill="none" stroke="#90ecec" stroke-width="1.2"/><path d="M1862.8,1298.9 L1866.3,1292.6 L1859.3,1292.6Z" fill="none" stroke="#90ecec" stroke-width="1.2"/><path d="M1873.7,1288.7 L1877.2,1282.4 L1870.2,1282.4Z" fill="none" stroke="#90ecec" stroke-width="1.2"/><path d="M1884.6,1278 L1888.1,1271.7 L1881.1,1271.7Z" fill="none" stroke="#90ecec" stroke-width="1.2"/><path d="M1895.5,1266.8 L1899,1260.5 L1892,1260.5Z" fill="none" stroke="#90ecec" stroke-width="1.2"/><path d="M1906.5,1255.1 L1910,1248.8 L1903,1248.8Z" fill="none" stroke="#90ecec" stroke-width="1.2"/><path d="M1917.4,1242.8 L1920.9,1236.5 L1913.9,1236.5Z" fill="none" stroke="#90ecec" stroke-width="1.2"/><path d="M1928.3,1229.7 L1931.8,1223.4 L1924.8,1223.4Z" fill="none" stroke="#90ecec" stroke-width="1.2"/><path d="M1939.2,1213.9 L1942.7,1207.6 L1935.7,1207.6Z" fill="none" stroke="#90ecec" stroke-width="1.2"/><path d="M1950.2,1194 L1953.7,1187.7 L1946.7,1187.7Z" fill="none" stroke="#90ecec" stroke-width="1.2"/><path d="M1961.1,1170.5 L1964.6,1164.2 L1957.6,1164.2Z" fill="none" stroke="#90ecec" stroke-width="1.2"/></g>
<path d="M1207.5,1042 C1211.3,1046.6 1221.6,1057 1230.5,1069.7 C1239.4,1082.4 1250.8,1098.1 1260.9,1118.4 C1271.1,1138.7 1281.2,1166.1 1291.4,1191.5 C1301.6,1216.9 1311.8,1245.3 1321.9,1270.7 C1332.1,1296.1 1342.2,1324.1 1352.3,1343.9 C1362.4,1363.7 1372.6,1377.8 1382.8,1389.5 C1393,1401.2 1400.6,1407.8 1413.3,1413.9 C1426,1420 1443.8,1423.4 1459,1426.1 C1474.2,1428.8 1489.4,1429.8 1504.6,1430.2 C1519.8,1430.6 1536.1,1430 1550.3,1428.5 C1564.5,1427 1574.1,1424.6 1590,1421 C1605.9,1417.4 1625.5,1413.5 1645.8,1406.8 C1666.1,1400 1692.4,1391.5 1711.6,1380.5 C1730.8,1369.5 1744.5,1355.8 1760.9,1341 C1777.4,1326.2 1793.8,1309.2 1810.3,1291.7 C1826.8,1274.2 1843.2,1257.2 1859.6,1235.8 C1876,1214.4 1895.2,1187.5 1908.9,1163.4 C1922.6,1139.3 1933.6,1112.4 1941.8,1091 C1950,1069.6 1953.3,1057.8 1958.3,1035.1 C1963.2,1012.4 1969.3,968.4 1971.5,955" fill="none" stroke="#00ee00" stroke-width="2" stroke-linejoin="round" stroke-linecap="round"/>
<g><path d="M1207.3,1038 L1211.3,1042 L1207.3,1046 L1203.3,1042Z" fill="none" stroke="#8ee68e" stroke-width="1.3"/><path d="M1218.2,1050.1 L1222.2,1054.1 L1218.2,1058.1 L1214.2,1054.1Z" fill="none" stroke="#8ee68e" stroke-width="1.3"/><path d="M1229.1,1063.8 L1233.1,1067.8 L1229.1,1071.8 L1225.1,1067.8Z" fill="none" stroke="#8ee68e" stroke-width="1.3"/><path d="M1240.1,1079.5 L1244.1,1083.5 L1240.1,1087.5 L1236.1,1083.5Z" fill="none" stroke="#8ee68e" stroke-width="1.3"/><path d="M1251,1096.4 L1255,1100.4 L1251,1104.4 L1247,1100.4Z" fill="none" stroke="#8ee68e" stroke-width="1.3"/><path d="M1261.9,1116.5 L1265.9,1120.5 L1261.9,1124.5 L1257.9,1120.5Z" fill="none" stroke="#8ee68e" stroke-width="1.3"/><path d="M1272.8,1141 L1276.8,1145 L1272.8,1149 L1268.8,1145Z" fill="none" stroke="#8ee68e" stroke-width="1.3"/><path d="M1283.8,1168.2 L1287.8,1172.2 L1283.8,1176.2 L1279.8,1172.2Z" fill="none" stroke="#8ee68e" stroke-width="1.3"/><path d="M1294.7,1195.8 L1298.7,1199.8 L1294.7,1203.8 L1290.7,1199.8Z" fill="none" stroke="#8ee68e" stroke-width="1.3"/><path d="M1305.6,1224.3 L1309.6,1228.3 L1305.6,1232.3 L1301.6,1228.3Z" fill="none" stroke="#8ee68e" stroke-width="1.3"/><path d="M1316.5,1253.1 L1320.5,1257.1 L1316.5,1261.1 L1312.5,1257.1Z" fill="none" stroke="#8ee68e" stroke-width="1.3"/><path d="M1327.5,1280.8 L1331.5,1284.8 L1327.5,1288.8 L1323.5,1284.8Z" fill="none" stroke="#8ee68e" stroke-width="1.3"/><path d="M1338.4,1308.6 L1342.4,1312.6 L1338.4,1316.6 L1334.4,1312.6Z" fill="none" stroke="#8ee68e" stroke-width="1.3"/><path d="M1349.3,1333.8 L1353.3,1337.8 L1349.3,1341.8 L1345.3,1337.8Z" fill="none" stroke="#8ee68e" stroke-width="1.3"/><path d="M1360.2,1354.3 L1364.2,1358.3 L1360.2,1362.3 L1356.2,1358.3Z" fill="none" stroke="#8ee68e" stroke-width="1.3"/><path d="M1371.2,1370.9 L1375.2,1374.9 L1371.2,1378.9 L1367.2,1374.9Z" fill="none" stroke="#8ee68e" stroke-width="1.3"/><path d="M1382.1,1384.7 L1386.1,1388.7 L1382.1,1392.7 L1378.1,1388.7Z" fill="none" stroke="#8ee68e" stroke-width="1.3"/><path d="M1393,1396.2 L1397,1400.2 L1393,1404.2 L1389,1400.2Z" fill="none" stroke="#8ee68e" stroke-width="1.3"/><path d="M1403.9,1404.7 L1407.9,1408.7 L1403.9,1412.7 L1399.9,1408.7Z" fill="none" stroke="#8ee68e" stroke-width="1.3"/><path d="M1414.9,1410.6 L1418.9,1414.6 L1414.9,1418.6 L1410.9,1414.6Z" fill="none" stroke="#8ee68e" stroke-width="1.3"/><path d="M1425.8,1414.7 L1429.8,1418.7 L1425.8,1422.7 L1421.8,1418.7Z" fill="none" stroke="#8ee68e" stroke-width="1.3"/><path d="M1436.7,1417.6 L1440.7,1421.6 L1436.7,1425.6 L1432.7,1421.6Z" fill="none" stroke="#8ee68e" stroke-width="1.3"/><path d="M1447.6,1420 L1451.6,1424 L1447.6,1428 L1443.6,1424Z" fill="none" stroke="#8ee68e" stroke-width="1.3"/><path d="M1458.6,1422 L1462.6,1426 L1458.6,1430 L1454.6,1426Z" fill="none" stroke="#8ee68e" stroke-width="1.3"/><path d="M1469.5,1423.7 L1473.5,1427.7 L1469.5,1431.7 L1465.5,1427.7Z" fill="none" stroke="#8ee68e" stroke-width="1.3"/><path d="M1480.4,1424.9 L1484.4,1428.9 L1480.4,1432.9 L1476.4,1428.9Z" fill="none" stroke="#8ee68e" stroke-width="1.3"/><path d="M1491.3,1425.7 L1495.3,1429.7 L1491.3,1433.7 L1487.3,1429.7Z" fill="none" stroke="#8ee68e" stroke-width="1.3"/><path d="M1502.3,1426.1 L1506.3,1430.1 L1502.3,1434.1 L1498.3,1430.1Z" fill="none" stroke="#8ee68e" stroke-width="1.3"/><path d="M1513.2,1426.3 L1517.2,1430.3 L1513.2,1434.3 L1509.2,1430.3Z" fill="none" stroke="#8ee68e" stroke-width="1.3"/><path d="M1524.1,1426.2 L1528.1,1430.2 L1524.1,1434.2 L1520.1,1430.2Z" fill="none" stroke="#8ee68e" stroke-width="1.3"/><path d="M1535,1425.7 L1539,1429.7 L1535,1433.7 L1531,1429.7Z" fill="none" stroke="#8ee68e" stroke-width="1.3"/><path d="M1546,1424.9 L1550,1428.9 L1546,1432.9 L1542,1428.9Z" fill="none" stroke="#8ee68e" stroke-width="1.3"/><path d="M1556.9,1423.7 L1560.9,1427.7 L1556.9,1431.7 L1552.9,1427.7Z" fill="none" stroke="#8ee68e" stroke-width="1.3"/><path d="M1567.8,1421.9 L1571.8,1425.9 L1567.8,1429.9 L1563.8,1425.9Z" fill="none" stroke="#8ee68e" stroke-width="1.3"/><path d="M1578.7,1419.6 L1582.7,1423.6 L1578.7,1427.6 L1574.7,1423.6Z" fill="none" stroke="#8ee68e" stroke-width="1.3"/><path d="M1589.7,1417.1 L1593.7,1421.1 L1589.7,1425.1 L1585.7,1421.1Z" fill="none" stroke="#8ee68e" stroke-width="1.3"/><path d="M1600.6,1414.6 L1604.6,1418.6 L1600.6,1422.6 L1596.6,1418.6Z" fill="none" stroke="#8ee68e" stroke-width="1.3"/><path d="M1611.5,1412.2 L1615.5,1416.2 L1611.5,1420.2 L1607.5,1416.2Z" fill="none" stroke="#8ee68e" stroke-width="1.3"/><path d="M1622.4,1409.6 L1626.4,1413.6 L1622.4,1417.6 L1618.4,1413.6Z" fill="none" stroke="#8ee68e" stroke-width="1.3"/><path d="M1633.3,1406.6 L1637.3,1410.6 L1633.3,1414.6 L1629.3,1410.6Z" fill="none" stroke="#8ee68e" stroke-width="1.3"/><path d="M1644.3,1403.3 L1648.3,1407.3 L1644.3,1411.3 L1640.3,1407.3Z" fill="none" stroke="#8ee68e" stroke-width="1.3"/><path d="M1655.2,1399.7 L1659.2,1403.7 L1655.2,1407.7 L1651.2,1403.7Z" fill="none" stroke="#8ee68e" stroke-width="1.3"/><path d="M1666.1,1395.9 L1670.1,1399.9 L1666.1,1403.9 L1662.1,1399.9Z" fill="none" stroke="#8ee68e" stroke-width="1.3"/><path d="M1677,1392 L1681,1396 L1677,1400 L1673,1396Z" fill="none" stroke="#8ee68e" stroke-width="1.3"/><path d="M1688,1387.7 L1692,1391.7 L1688,1395.7 L1684,1391.7Z" fill="none" stroke="#8ee68e" stroke-width="1.3"/><path d="M1698.9,1383 L1702.9,1387 L1698.9,1391 L1694.9,1387Z" fill="none" stroke="#8ee68e" stroke-width="1.3"/><path d="M1709.8,1377.5 L1713.8,1381.5 L1709.8,1385.5 L1705.8,1381.5Z" fill="none" stroke="#8ee68e" stroke-width="1.3"/><path d="M1720.7,1370.8 L1724.7,1374.8 L1720.7,1378.8 L1716.7,1374.8Z" fill="none" stroke="#8ee68e" stroke-width="1.3"/><path d="M1731.7,1362.8 L1735.7,1366.8 L1731.7,1370.8 L1727.7,1366.8Z" fill="none" stroke="#8ee68e" stroke-width="1.3"/><path d="M1742.6,1353.6 L1746.6,1357.6 L1742.6,1361.6 L1738.6,1357.6Z" fill="none" stroke="#8ee68e" stroke-width="1.3"/><path d="M1753.5,1343.7 L1757.5,1347.7 L1753.5,1351.7 L1749.5,1347.7Z" fill="none" stroke="#8ee68e" stroke-width="1.3"/><path d="M1764.4,1333.8 L1768.4,1337.8 L1764.4,1341.8 L1760.4,1337.8Z" fill="none" stroke="#8ee68e" stroke-width="1.3"/><path d="M1775.4,1323.5 L1779.4,1327.5 L1775.4,1331.5 L1771.4,1327.5Z" fill="none" stroke="#8ee68e" stroke-width="1.3"/><path d="M1786.3,1312.7 L1790.3,1316.7 L1786.3,1320.7 L1782.3,1316.7Z" fill="none" stroke="#8ee68e" stroke-width="1.3"/><path d="M1797.2,1301.5 L1801.2,1305.5 L1797.2,1309.5 L1793.2,1305.5Z" fill="none" stroke="#8ee68e" stroke-width="1.3"/><path d="M1808.1,1290 L1812.1,1294 L1808.1,1298 L1804.1,1294Z" fill="none" stroke="#8ee68e" stroke-width="1.3"/><path d="M1819.1,1278.4 L1823.1,1282.4 L1819.1,1286.4 L1815.1,1282.4Z" fill="none" stroke="#8ee68e" stroke-width="1.3"/><path d="M1830,1266.6 L1834,1270.6 L1830,1274.6 L1826,1270.6Z" fill="none" stroke="#8ee68e" stroke-width="1.3"/><path d="M1840.9,1254.5 L1844.9,1258.5 L1840.9,1262.5 L1836.9,1258.5Z" fill="none" stroke="#8ee68e" stroke-width="1.3"/><path d="M1851.8,1241.6 L1855.8,1245.6 L1851.8,1249.6 L1847.8,1245.6Z" fill="none" stroke="#8ee68e" stroke-width="1.3"/><path d="M1862.8,1227.7 L1866.8,1231.7 L1862.8,1235.7 L1858.8,1231.7Z" fill="none" stroke="#8ee68e" stroke-width="1.3"/><path d="M1873.7,1213 L1877.7,1217 L1873.7,1221 L1869.7,1217Z" fill="none" stroke="#8ee68e" stroke-width="1.3"/><path d="M1884.6,1197.6 L1888.6,1201.6 L1884.6,1205.6 L1880.6,1201.6Z" fill="none" stroke="#8ee68e" stroke-width="1.3"/><path d="M1895.5,1181.3 L1899.5,1185.3 L1895.5,1189.3 L1891.5,1185.3Z" fill="none" stroke="#8ee68e" stroke-width="1.3"/><path d="M1906.5,1163.6 L1910.5,1167.6 L1906.5,1171.6 L1902.5,1167.6Z" fill="none" stroke="#8ee68e" stroke-width="1.3"/><path d="M1917.4,1143.5 L1921.4,1147.5 L1917.4,1151.5 L1913.4,1147.5Z" fill="none" stroke="#8ee68e" stroke-width="1.3"/><path d="M1928.3,1120.1 L1932.3,1124.1 L1928.3,1128.1 L1924.3,1124.1Z" fill="none" stroke="#8ee68e" stroke-width="1.3"/><path d="M1939.2,1093.6 L1943.2,1097.6 L1939.2,1101.6 L1935.2,1097.6Z" fill="none" stroke="#8ee68e" stroke-width="1.3"/><path d="M1950.2,1063.3 L1954.2,1067.3 L1950.2,1071.3 L1946.2,1067.3Z" fill="none" stroke="#8ee68e" stroke-width="1.3"/><path d="M1961.1,1016.9 L1965.1,1020.9 L1961.1,1024.9 L1957.1,1020.9Z" fill="none" stroke="#8ee68e" stroke-width="1.3"/></g>
<path d="M1207.5,1050 C1211.3,1055.3 1221.6,1068.5 1230.5,1081.9 C1239.4,1095.3 1250.8,1110.3 1260.9,1130.6 C1271.1,1150.9 1281.2,1178.3 1291.4,1203.7 C1301.6,1229.1 1311.8,1258 1321.9,1282.9 C1332.1,1307.8 1342.2,1334.2 1352.3,1353 C1362.4,1371.8 1372.6,1384.4 1382.8,1395.6 C1393,1406.8 1400.6,1413.7 1413.3,1420 C1426,1426.3 1443.8,1430.7 1459,1433.7 C1474.2,1436.8 1489.4,1437.7 1504.6,1438.3 C1519.8,1438.9 1536.1,1438.2 1550.3,1437.5 C1564.5,1436.8 1574.1,1436.4 1590,1434 C1605.9,1431.6 1625.5,1428.4 1645.8,1423.3 C1666.1,1418.2 1692.4,1411.7 1711.6,1403.5 C1730.8,1395.3 1744.5,1387.1 1760.9,1373.9 C1777.4,1360.8 1793.8,1342.1 1810.3,1324.6 C1826.8,1307.1 1843.2,1289 1859.6,1268.7 C1876,1248.4 1895.2,1223.7 1908.9,1202.9 C1922.6,1182.1 1933.6,1160.2 1941.8,1143.7 C1950,1127.2 1953.3,1116.3 1958.3,1104.2 C1963.2,1092.1 1969.3,1076.8 1971.5,1071.3" fill="none" stroke="#ff00ff" stroke-width="2" stroke-linejoin="round" stroke-linecap="round"/>
<g><path d="M1207.3,1045.4 L1211.1,1049.2 L1207.3,1053 L1203.5,1049.2Z" fill="#1010e0"/><path d="M1218.2,1059.8 L1222,1063.6 L1218.2,1067.4 L1214.4,1063.6Z" fill="#1010e0"/><path d="M1229.1,1075.3 L1232.9,1079.1 L1229.1,1082.9 L1225.3,1079.1Z" fill="#1010e0"/><path d="M1240.1,1091.4 L1243.9,1095.2 L1240.1,1099 L1236.3,1095.2Z" fill="#1010e0"/><path d="M1251,1108.2 L1254.8,1112 L1251,1115.8 L1247.2,1112Z" fill="#1010e0"/><path d="M1261.9,1128.1 L1265.7,1131.9 L1261.9,1135.7 L1258.1,1131.9Z" fill="#1010e0"/><path d="M1272.8,1152.6 L1276.6,1156.4 L1272.8,1160.2 L1269,1156.4Z" fill="#1010e0"/><path d="M1283.8,1179.8 L1287.6,1183.6 L1283.8,1187.4 L1280,1183.6Z" fill="#1010e0"/><path d="M1294.7,1207.4 L1298.5,1211.2 L1294.7,1215 L1290.9,1211.2Z" fill="#1010e0"/><path d="M1305.6,1236.1 L1309.4,1239.9 L1305.6,1243.7 L1301.8,1239.9Z" fill="#1010e0"/><path d="M1316.5,1264.8 L1320.3,1268.6 L1316.5,1272.4 L1312.7,1268.6Z" fill="#1010e0"/><path d="M1327.5,1292.1 L1331.3,1295.9 L1327.5,1299.7 L1323.7,1295.9Z" fill="#1010e0"/><path d="M1338.4,1318.7 L1342.2,1322.5 L1338.4,1326.3 L1334.6,1322.5Z" fill="#1010e0"/><path d="M1349.3,1342.6 L1353.1,1346.4 L1349.3,1350.2 L1345.5,1346.4Z" fill="#1010e0"/><path d="M1360.2,1361.9 L1364,1365.7 L1360.2,1369.5 L1356.4,1365.7Z" fill="#1010e0"/><path d="M1371.2,1377.3 L1375,1381.1 L1371.2,1384.9 L1367.4,1381.1Z" fill="#1010e0"/><path d="M1382.1,1390.2 L1385.9,1394 L1382.1,1397.8 L1378.3,1394Z" fill="#1010e0"/><path d="M1393,1401.4 L1396.8,1405.2 L1393,1409 L1389.2,1405.2Z" fill="#1010e0"/><path d="M1403.9,1410 L1407.7,1413.8 L1403.9,1417.6 L1400.1,1413.8Z" fill="#1010e0"/><path d="M1414.9,1416.1 L1418.7,1419.9 L1414.9,1423.7 L1411.1,1419.9Z" fill="#1010e0"/><path d="M1425.8,1420.5 L1429.6,1424.3 L1425.8,1428.1 L1422,1424.3Z" fill="#1010e0"/><path d="M1436.7,1423.9 L1440.5,1427.7 L1436.7,1431.5 L1432.9,1427.7Z" fill="#1010e0"/><path d="M1447.6,1426.7 L1451.4,1430.5 L1447.6,1434.3 L1443.8,1430.5Z" fill="#1010e0"/><path d="M1458.6,1429 L1462.4,1432.8 L1458.6,1436.6 L1454.8,1432.8Z" fill="#1010e0"/><path d="M1469.5,1430.9 L1473.3,1434.7 L1469.5,1438.5 L1465.7,1434.7Z" fill="#1010e0"/><path d="M1480.4,1432.2 L1484.2,1436 L1480.4,1439.8 L1476.6,1436Z" fill="#1010e0"/><path d="M1491.3,1433 L1495.1,1436.8 L1491.3,1440.6 L1487.5,1436.8Z" fill="#1010e0"/><path d="M1502.3,1433.6 L1506.1,1437.4 L1502.3,1441.2 L1498.5,1437.4Z" fill="#1010e0"/><path d="M1513.2,1433.9 L1517,1437.7 L1513.2,1441.5 L1509.4,1437.7Z" fill="#1010e0"/><path d="M1524.1,1433.9 L1527.9,1437.7 L1524.1,1441.5 L1520.3,1437.7Z" fill="#1010e0"/><path d="M1535,1433.6 L1538.8,1437.4 L1535,1441.2 L1531.2,1437.4Z" fill="#1010e0"/><path d="M1546,1433.1 L1549.8,1436.9 L1546,1440.7 L1542.2,1436.9Z" fill="#1010e0"/><path d="M1556.9,1432.6 L1560.7,1436.4 L1556.9,1440.2 L1553.1,1436.4Z" fill="#1010e0"/><path d="M1567.8,1431.9 L1571.6,1435.7 L1567.8,1439.5 L1564,1435.7Z" fill="#1010e0"/><path d="M1578.7,1430.9 L1582.5,1434.7 L1578.7,1438.5 L1574.9,1434.7Z" fill="#1010e0"/><path d="M1589.7,1429.5 L1593.5,1433.3 L1589.7,1437.1 L1585.9,1433.3Z" fill="#1010e0"/><path d="M1600.6,1427.8 L1604.4,1431.6 L1600.6,1435.4 L1596.8,1431.6Z" fill="#1010e0"/><path d="M1611.5,1425.9 L1615.3,1429.7 L1611.5,1433.5 L1607.7,1429.7Z" fill="#1010e0"/><path d="M1622.4,1423.9 L1626.2,1427.7 L1622.4,1431.5 L1618.6,1427.7Z" fill="#1010e0"/><path d="M1633.3,1421.6 L1637.1,1425.4 L1633.3,1429.2 L1629.5,1425.4Z" fill="#1010e0"/><path d="M1644.3,1419.1 L1648.1,1422.9 L1644.3,1426.7 L1640.5,1422.9Z" fill="#1010e0"/><path d="M1655.2,1416.3 L1659,1420.1 L1655.2,1423.9 L1651.4,1420.1Z" fill="#1010e0"/><path d="M1666.1,1413.5 L1669.9,1417.3 L1666.1,1421.1 L1662.3,1417.3Z" fill="#1010e0"/><path d="M1677,1410.6 L1680.8,1414.4 L1677,1418.2 L1673.2,1414.4Z" fill="#1010e0"/><path d="M1688,1407.4 L1691.8,1411.2 L1688,1415 L1684.2,1411.2Z" fill="#1010e0"/><path d="M1698.9,1403.8 L1702.7,1407.6 L1698.9,1411.4 L1695.1,1407.6Z" fill="#1010e0"/><path d="M1709.8,1399.6 L1713.6,1403.4 L1709.8,1407.2 L1706,1403.4Z" fill="#1010e0"/><path d="M1720.7,1394.8 L1724.5,1398.6 L1720.7,1402.4 L1716.9,1398.6Z" fill="#1010e0"/><path d="M1731.7,1389.2 L1735.5,1393 L1731.7,1396.8 L1727.9,1393Z" fill="#1010e0"/><path d="M1742.6,1382.6 L1746.4,1386.4 L1742.6,1390.2 L1738.8,1386.4Z" fill="#1010e0"/><path d="M1753.5,1375 L1757.3,1378.8 L1753.5,1382.6 L1749.7,1378.8Z" fill="#1010e0"/><path d="M1764.4,1366.4 L1768.2,1370.2 L1764.4,1374 L1760.6,1370.2Z" fill="#1010e0"/><path d="M1775.4,1356.5 L1779.2,1360.3 L1775.4,1364.1 L1771.6,1360.3Z" fill="#1010e0"/><path d="M1786.3,1345.6 L1790.1,1349.4 L1786.3,1353.2 L1782.5,1349.4Z" fill="#1010e0"/><path d="M1797.2,1334 L1801,1337.8 L1797.2,1341.6 L1793.4,1337.8Z" fill="#1010e0"/><path d="M1808.1,1322.3 L1811.9,1326.1 L1808.1,1329.9 L1804.3,1326.1Z" fill="#1010e0"/><path d="M1819.1,1310.6 L1822.9,1314.4 L1819.1,1318.2 L1815.3,1314.4Z" fill="#1010e0"/><path d="M1830,1298.6 L1833.8,1302.4 L1830,1306.2 L1826.2,1302.4Z" fill="#1010e0"/><path d="M1840.9,1286.3 L1844.7,1290.1 L1840.9,1293.9 L1837.1,1290.1Z" fill="#1010e0"/><path d="M1851.8,1273.5 L1855.6,1277.3 L1851.8,1281.1 L1848,1277.3Z" fill="#1010e0"/><path d="M1862.8,1260.2 L1866.6,1264 L1862.8,1267.8 L1859,1264Z" fill="#1010e0"/><path d="M1873.7,1246.4 L1877.5,1250.2 L1873.7,1254 L1869.9,1250.2Z" fill="#1010e0"/><path d="M1884.6,1232.3 L1888.4,1236.1 L1884.6,1239.9 L1880.8,1236.1Z" fill="#1010e0"/><path d="M1895.5,1217.6 L1899.3,1221.4 L1895.5,1225.2 L1891.7,1221.4Z" fill="#1010e0"/><path d="M1906.5,1202 L1910.3,1205.8 L1906.5,1209.6 L1902.7,1205.8Z" fill="#1010e0"/><path d="M1917.4,1184.7 L1921.2,1188.5 L1917.4,1192.3 L1913.6,1188.5Z" fill="#1010e0"/><path d="M1928.3,1165.4 L1932.1,1169.2 L1928.3,1173 L1924.5,1169.2Z" fill="#1010e0"/><path d="M1939.2,1144.2 L1943,1148 L1939.2,1151.8 L1935.4,1148Z" fill="#1010e0"/><path d="M1950.2,1120.5 L1954,1124.3 L1950.2,1128.1 L1946.4,1124.3Z" fill="#1010e0"/><path d="M1961.1,1092.8 L1964.9,1096.6 L1961.1,1100.4 L1957.3,1096.6Z" fill="#1010e0"/></g>
<g><path d="M1207.3,1047.4 L1210.7,1053.5 L1203.9,1053.5Z" fill="#e81ee8"/><path d="M1218.2,1061.8 L1221.6,1068 L1214.8,1068Z" fill="#e81ee8"/><path d="M1229.1,1077.3 L1232.5,1083.4 L1225.7,1083.4Z" fill="#e81ee8"/><path d="M1240.1,1093.4 L1243.5,1099.5 L1236.7,1099.5Z" fill="#e81ee8"/><path d="M1251,1110.2 L1254.4,1116.3 L1247.6,1116.3Z" fill="#e81ee8"/><path d="M1261.9,1130.1 L1265.3,1136.2 L1258.5,1136.2Z" fill="#e81ee8"/><path d="M1272.8,1154.6 L1276.2,1160.7 L1269.4,1160.7Z" fill="#e81ee8"/><path d="M1283.8,1181.8 L1287.2,1187.9 L1280.4,1187.9Z" fill="#e81ee8"/><path d="M1294.7,1209.4 L1298.1,1215.6 L1291.3,1215.6Z" fill="#e81ee8"/><path d="M1305.6,1238.1 L1309,1244.2 L1302.2,1244.2Z" fill="#e81ee8"/><path d="M1316.5,1266.8 L1319.9,1273 L1313.1,1273Z" fill="#e81ee8"/><path d="M1327.5,1294.1 L1330.9,1300.2 L1324.1,1300.2Z" fill="#e81ee8"/><path d="M1338.4,1320.7 L1341.8,1326.8 L1335,1326.8Z" fill="#e81ee8"/><path d="M1349.3,1344.6 L1352.7,1350.8 L1345.9,1350.8Z" fill="#e81ee8"/><path d="M1360.2,1363.9 L1363.6,1370 L1356.8,1370Z" fill="#e81ee8"/><path d="M1371.2,1379.3 L1374.6,1385.4 L1367.8,1385.4Z" fill="#e81ee8"/><path d="M1382.1,1392.2 L1385.5,1398.3 L1378.7,1398.3Z" fill="#e81ee8"/><path d="M1393,1403.4 L1396.4,1409.6 L1389.6,1409.6Z" fill="#e81ee8"/><path d="M1403.9,1412 L1407.3,1418.2 L1400.5,1418.2Z" fill="#e81ee8"/><path d="M1414.9,1418.1 L1418.3,1424.3 L1411.5,1424.3Z" fill="#e81ee8"/><path d="M1425.8,1422.5 L1429.2,1428.7 L1422.4,1428.7Z" fill="#e81ee8"/><path d="M1436.7,1425.9 L1440.1,1432 L1433.3,1432Z" fill="#e81ee8"/><path d="M1447.6,1428.7 L1451,1434.8 L1444.2,1434.8Z" fill="#e81ee8"/><path d="M1458.6,1431 L1462,1437.1 L1455.2,1437.1Z" fill="#e81ee8"/><path d="M1469.5,1432.9 L1472.9,1439 L1466.1,1439Z" fill="#e81ee8"/><path d="M1480.4,1434.2 L1483.8,1440.3 L1477,1440.3Z" fill="#e81ee8"/><path d="M1491.3,1435 L1494.7,1441.1 L1487.9,1441.1Z" fill="#e81ee8"/><path d="M1502.3,1435.6 L1505.7,1441.7 L1498.9,1441.7Z" fill="#e81ee8"/><path d="M1513.2,1435.9 L1516.6,1442 L1509.8,1442Z" fill="#e81ee8"/><path d="M1524.1,1435.9 L1527.5,1442 L1520.7,1442Z" fill="#e81ee8"/><path d="M1535,1435.6 L1538.4,1441.7 L1531.6,1441.7Z" fill="#e81ee8"/><path d="M1546,1435.1 L1549.4,1441.2 L1542.6,1441.2Z" fill="#e81ee8"/><path d="M1556.9,1434.6 L1560.3,1440.7 L1553.5,1440.7Z" fill="#e81ee8"/><path d="M1567.8,1433.9 L1571.2,1440 L1564.4,1440Z" fill="#e81ee8"/><path d="M1578.7,1432.9 L1582.1,1439 L1575.3,1439Z" fill="#e81ee8"/><path d="M1589.7,1431.5 L1593.1,1437.6 L1586.2,1437.6Z" fill="#e81ee8"/><path d="M1600.6,1429.8 L1604,1435.9 L1597.2,1435.9Z" fill="#e81ee8"/><path d="M1611.5,1427.9 L1614.9,1434 L1608.1,1434Z" fill="#e81ee8"/><path d="M1622.4,1425.9 L1625.8,1432 L1619,1432Z" fill="#e81ee8"/><path d="M1633.3,1423.6 L1636.7,1429.7 L1629.9,1429.7Z" fill="#e81ee8"/><path d="M1644.3,1421.1 L1647.7,1427.2 L1640.9,1427.2Z" fill="#e81ee8"/><path d="M1655.2,1418.3 L1658.6,1424.5 L1651.8,1424.5Z" fill="#e81ee8"/><path d="M1666.1,1415.5 L1669.5,1421.6 L1662.7,1421.6Z" fill="#e81ee8"/><path d="M1677,1412.6 L1680.4,1418.7 L1673.6,1418.7Z" fill="#e81ee8"/><path d="M1688,1409.4 L1691.4,1415.5 L1684.6,1415.5Z" fill="#e81ee8"/><path d="M1698.9,1405.8 L1702.3,1411.9 L1695.5,1411.9Z" fill="#e81ee8"/><path d="M1709.8,1401.6 L1713.2,1407.8 L1706.4,1407.8Z" fill="#e81ee8"/><path d="M1720.7,1396.8 L1724.1,1402.9 L1717.3,1402.9Z" fill="#e81ee8"/><path d="M1731.7,1391.2 L1735.1,1397.3 L1728.3,1397.3Z" fill="#e81ee8"/><path d="M1742.6,1384.6 L1746,1390.7 L1739.2,1390.7Z" fill="#e81ee8"/><path d="M1753.5,1377 L1756.9,1383.1 L1750.1,1383.1Z" fill="#e81ee8"/><path d="M1764.4,1368.4 L1767.8,1374.5 L1761,1374.5Z" fill="#e81ee8"/><path d="M1775.4,1358.5 L1778.8,1364.6 L1772,1364.6Z" fill="#e81ee8"/><path d="M1786.3,1347.6 L1789.7,1353.7 L1782.9,1353.7Z" fill="#e81ee8"/><path d="M1797.2,1336 L1800.6,1342.2 L1793.8,1342.2Z" fill="#e81ee8"/><path d="M1808.1,1324.3 L1811.5,1330.4 L1804.7,1330.4Z" fill="#e81ee8"/><path d="M1819.1,1312.6 L1822.5,1318.7 L1815.7,1318.7Z" fill="#e81ee8"/><path d="M1830,1300.6 L1833.4,1306.8 L1826.6,1306.8Z" fill="#e81ee8"/><path d="M1840.9,1288.3 L1844.3,1294.4 L1837.5,1294.4Z" fill="#e81ee8"/><path d="M1851.8,1275.5 L1855.2,1281.6 L1848.4,1281.6Z" fill="#e81ee8"/><path d="M1862.8,1262.2 L1866.2,1268.3 L1859.4,1268.3Z" fill="#e81ee8"/><path d="M1873.7,1248.4 L1877.1,1254.6 L1870.3,1254.6Z" fill="#e81ee8"/><path d="M1884.6,1234.3 L1888,1240.4 L1881.2,1240.4Z" fill="#e81ee8"/><path d="M1895.5,1219.6 L1898.9,1225.7 L1892.1,1225.7Z" fill="#e81ee8"/><path d="M1906.5,1204 L1909.9,1210.1 L1903.1,1210.1Z" fill="#e81ee8"/><path d="M1917.4,1186.7 L1920.8,1192.8 L1914,1192.8Z" fill="#e81ee8"/><path d="M1928.3,1167.4 L1931.7,1173.5 L1924.9,1173.5Z" fill="#e81ee8"/><path d="M1939.2,1146.2 L1942.6,1152.4 L1935.8,1152.4Z" fill="#e81ee8"/><path d="M1950.2,1122.5 L1953.6,1128.7 L1946.8,1128.7Z" fill="#e81ee8"/><path d="M1961.1,1094.8 L1964.5,1100.9 L1957.7,1100.9Z" fill="#e81ee8"/></g>
<path d="M1207.5,1207.5 C1209.3,1208 1215.2,1207.1 1218.3,1210.5 C1221.4,1213.9 1222.5,1220.5 1226,1228 C1229.5,1235.5 1233.8,1245.3 1239.6,1255.5 C1245.4,1265.7 1252.3,1278.8 1260.9,1289 C1269.5,1299.2 1281.2,1308.3 1291.4,1316.4 C1301.6,1324.5 1311.8,1331.2 1321.9,1337.8 C1332.1,1344.4 1343.2,1352 1352.3,1356 C1361.4,1360 1366.5,1361.8 1376.7,1362.1 C1386.9,1362.4 1402.1,1360.1 1413.3,1357.6 C1424.5,1355.1 1433.5,1352.2 1443.7,1346.9 C1453.9,1341.6 1464.1,1332.7 1474.2,1325.6 C1484.3,1318.5 1494.4,1310.9 1504.6,1304.3 C1514.8,1297.7 1524.9,1290.6 1535.1,1286 C1545.3,1281.4 1557.3,1278.7 1565.6,1276.8 C1573.9,1274.9 1577.1,1273.7 1585,1274.5 C1592.9,1275.3 1602.8,1276.7 1612.9,1281.8 C1623,1286.9 1634.8,1296.1 1645.8,1304.9 C1656.8,1313.7 1667.7,1325.2 1678.7,1334.5 C1689.7,1343.8 1700.6,1352 1711.6,1360.8 C1722.6,1369.6 1733.5,1380 1744.5,1387.1 C1755.5,1394.2 1766.4,1398.8 1777.4,1403.5 C1788.4,1408.2 1798.2,1412.3 1810.3,1415.1 C1822.3,1417.8 1838.7,1419.7 1849.7,1420 C1860.7,1420.3 1866.2,1419.5 1876.1,1416.7 C1886,1414 1900.1,1408.4 1908.9,1403.5 C1917.7,1398.6 1923.2,1393.7 1928.7,1387.1 C1934.2,1380.5 1937.4,1372.9 1941.8,1364.1 C1946.2,1355.3 1950.6,1344.9 1955,1334.5 C1959.4,1324.1 1965.5,1309.3 1968.2,1301.6 C1971,1293.8 1971,1290.3 1971.5,1288" fill="none" stroke="#ff0000" stroke-width="2" stroke-linejoin="round" stroke-linecap="round"/>
<g><circle cx="1207.3" cy="1207.5" r="3" fill="#e0101c"/><circle cx="1218.2" cy="1210.4" r="3" fill="#e0101c"/><circle cx="1229.1" cy="1234.8" r="3" fill="#e0101c"/><circle cx="1240.1" cy="1256.3" r="3" fill="#e0101c"/><circle cx="1251" cy="1275.2" r="3" fill="#e0101c"/><circle cx="1261.9" cy="1290.2" r="3" fill="#e0101c"/><circle cx="1272.8" cy="1301" r="3" fill="#e0101c"/><circle cx="1283.8" cy="1310.3" r="3" fill="#e0101c"/><circle cx="1294.7" cy="1319" r="3" fill="#e0101c"/><circle cx="1305.6" cy="1327" r="3" fill="#e0101c"/><circle cx="1316.5" cy="1334.3" r="3" fill="#e0101c"/><circle cx="1327.5" cy="1341.4" r="3" fill="#e0101c"/><circle cx="1338.4" cy="1348.4" r="3" fill="#e0101c"/><circle cx="1349.3" cy="1354.6" r="3" fill="#e0101c"/><circle cx="1360.2" cy="1359.3" r="3" fill="#e0101c"/><circle cx="1371.2" cy="1361.8" r="3" fill="#e0101c"/><circle cx="1382.1" cy="1362" r="3" fill="#e0101c"/><circle cx="1393" cy="1361.1" r="3" fill="#e0101c"/><circle cx="1403.9" cy="1359.5" r="3" fill="#e0101c"/><circle cx="1414.9" cy="1357.2" r="3" fill="#e0101c"/><circle cx="1425.8" cy="1354.3" r="3" fill="#e0101c"/><circle cx="1436.7" cy="1350.3" r="3" fill="#e0101c"/><circle cx="1447.6" cy="1344.7" r="3" fill="#e0101c"/><circle cx="1458.6" cy="1337.2" r="3" fill="#e0101c"/><circle cx="1469.5" cy="1329" r="3" fill="#e0101c"/><circle cx="1480.4" cy="1321.2" r="3" fill="#e0101c"/><circle cx="1491.3" cy="1313.4" r="3" fill="#e0101c"/><circle cx="1502.3" cy="1305.8" r="3" fill="#e0101c"/><circle cx="1513.2" cy="1298.7" r="3" fill="#e0101c"/><circle cx="1524.1" cy="1291.8" r="3" fill="#e0101c"/><circle cx="1535" cy="1286" r="3" fill="#e0101c"/><circle cx="1546" cy="1281.9" r="3" fill="#e0101c"/><circle cx="1556.9" cy="1278.9" r="3" fill="#e0101c"/><circle cx="1567.8" cy="1276.3" r="3" fill="#e0101c"/><circle cx="1578.7" cy="1274.3" r="3" fill="#e0101c"/><circle cx="1589.7" cy="1275.1" r="3" fill="#e0101c"/><circle cx="1600.6" cy="1277.2" r="3" fill="#e0101c"/><circle cx="1611.5" cy="1281.1" r="3" fill="#e0101c"/><circle cx="1622.4" cy="1287.4" r="3" fill="#e0101c"/><circle cx="1633.3" cy="1295.1" r="3" fill="#e0101c"/><circle cx="1644.3" cy="1303.7" r="3" fill="#e0101c"/><circle cx="1655.2" cy="1313" r="3" fill="#e0101c"/><circle cx="1666.1" cy="1323.1" r="3" fill="#e0101c"/><circle cx="1677" cy="1333.1" r="3" fill="#e0101c"/><circle cx="1688" cy="1342.1" r="3" fill="#e0101c"/><circle cx="1698.9" cy="1350.8" r="3" fill="#e0101c"/><circle cx="1709.8" cy="1359.4" r="3" fill="#e0101c"/><circle cx="1720.7" cy="1368.4" r="3" fill="#e0101c"/><circle cx="1731.7" cy="1377.6" r="3" fill="#e0101c"/><circle cx="1742.6" cy="1385.8" r="3" fill="#e0101c"/><circle cx="1753.5" cy="1392.4" r="3" fill="#e0101c"/><circle cx="1764.4" cy="1397.8" r="3" fill="#e0101c"/><circle cx="1775.4" cy="1402.6" r="3" fill="#e0101c"/><circle cx="1786.3" cy="1407.2" r="3" fill="#e0101c"/><circle cx="1797.2" cy="1411.4" r="3" fill="#e0101c"/><circle cx="1808.1" cy="1414.6" r="3" fill="#e0101c"/><circle cx="1819.1" cy="1416.8" r="3" fill="#e0101c"/><circle cx="1830" cy="1418.4" r="3" fill="#e0101c"/><circle cx="1840.9" cy="1419.5" r="3" fill="#e0101c"/><circle cx="1851.8" cy="1420" r="3" fill="#e0101c"/><circle cx="1862.8" cy="1419.5" r="3" fill="#e0101c"/><circle cx="1873.7" cy="1417.4" r="3" fill="#e0101c"/><circle cx="1884.6" cy="1414" r="3" fill="#e0101c"/><circle cx="1895.5" cy="1409.9" r="3" fill="#e0101c"/><circle cx="1906.5" cy="1404.8" r="3" fill="#e0101c"/><circle cx="1917.4" cy="1398" r="3" fill="#e0101c"/><circle cx="1928.3" cy="1387.6" r="3" fill="#e0101c"/><circle cx="1939.2" cy="1369.3" r="3" fill="#e0101c"/><circle cx="1950.2" cy="1345.9" r="3" fill="#e0101c"/><circle cx="1961.1" cy="1319.9" r="3" fill="#e0101c"/></g>
</g>
<text transform="translate(276.1 148.3)" font-size="97">(a)</text>
<text transform="translate(1262.8 148.1) scale(0.9977 1)" font-size="98">(b)</text>
<text transform="translate(268.8 939.5) scale(1.0534 1)" font-size="98">(c)</text>
<text transform="translate(1232.4 939.8) scale(1.0107 1)" font-size="97">(d)</text>
<text transform="translate(477.3 785.3)" font-size="52">Z</text>
<text transform="translate(514.7 806.3)" font-size="31">re</text>
<text transform="translate(541 785.3) scale(1.0120 1)" font-size="52">(Ω·cm</text>
<text transform="translate(691.2 754.9)" font-size="27">2</text>
<text transform="translate(703.5 785.3)" font-size="52">)</text>
<text transform="translate(1471.5 777)" font-size="52">Z</text>
<text transform="translate(1509 797.5)" font-size="31">re</text>
<text transform="translate(1536.6 777) scale(1.0070 1)" font-size="52">(Ω·cm</text>
<text transform="translate(1683.9 747.3)" font-size="27">2</text>
<text transform="translate(1698.8 777)" font-size="52">)</text>
<text transform="translate(111.7 494.2) rotate(-90) scale(0.9804 1)" font-size="57">-Z</text>
<text transform="translate(132 438.7) rotate(-90) scale(0.9812 1)" font-size="31">im</text>
<text transform="translate(111.7 404.5) rotate(-90) scale(0.9344 1)" font-size="57">(Ω·cm</text>
<text transform="translate(83 257.3) rotate(-90)" font-size="32">2</text>
<text transform="translate(111.7 236.9) rotate(-90)" font-size="57">)</text>
<text transform="translate(1115.5 442.9) rotate(-90) scale(0.9782 1)" font-size="41">-Z</text>
<text transform="translate(1130.3 402.9) rotate(-90) scale(0.9493 1)" font-size="23">im</text>
<text transform="translate(1115.5 378.3) rotate(-90) scale(0.9363 1)" font-size="41">(Ω·cm</text>
<text transform="translate(1094.6 272) rotate(-90)" font-size="23">2</text>
<text transform="translate(1115.5 257.4) rotate(-90)" font-size="41">)</text>
<text transform="translate(91.8 1274.4) rotate(-90)" font-size="39.6">|</text>
<text transform="translate(100.3 1264.7) rotate(-90) scale(1.0205 1)" font-size="55">Z</text>
<text transform="translate(91.8 1226) rotate(-90)" font-size="39.6">|</text>
<text transform="translate(92.2 1213.7) rotate(-90)" font-size="39.6">(</text>
<text transform="translate(100.3 1196.5) rotate(-90) scale(0.9863 1)" font-size="55">Ω·cm</text>
<text transform="translate(78.4 1063.8) rotate(-90)" font-size="33">2</text>
<text transform="translate(92.2 1046.6) rotate(-90)" font-size="39.6">)</text>
<text transform="translate(549 1570.3) scale(1.0015 1)" font-size="52">f (Hz)</text>
<text transform="translate(1534.5 1603.2) scale(0.8584 1)" font-size="52">f (Hz)</text>
<text transform="translate(1135 1219.5) scale(0.87 1) rotate(-90) scale(1.0350 1)" font-size="52">-θ (°)</text>
<text transform="translate(895.4 148) scale(1.0808 1)" font-size="36">0 d</text>
<text transform="translate(892.9 186) scale(1.1001 1)" font-size="36">5 d</text>
<text transform="translate(876.2 225.7) scale(1.1387 1)" font-size="36">10 d</text>
<text transform="translate(877 267.7) scale(1.1267 1)" font-size="36">20 d</text>
<text transform="translate(877 308.7) scale(1.1381 1)" font-size="36">30 d</text>
<text transform="translate(869.3 344.7) scale(1.1201 1)" font-size="36">Fitting</text>
<ellipse cx="825.9" cy="130.1" rx="4.6" ry="2.4" fill="#c81428"/>
<path d="M825.1,162.7 L831.6,169.7 L825.1,176.7 L818.6,169.7Z" fill="#2a62b0"/>
<path d="M824.3,201.8 L831.8,215.8 L816.8,215.8Z" fill="#e048d8"/>
<path d="M822,246.5 L830.5,256 L822,265.5 L813.5,256Z" fill="none" stroke="#b4eaa0" stroke-width="1.8"/>
<path d="M813.5,287.8 L830.5,287.8 L822,302.8Z" fill="none" stroke="#c8f4f4" stroke-width="1.8"/>
<line x1="800.6" y1="333.6" x2="841.8" y2="333.6" stroke="#111" stroke-width="4"/>
<text transform="translate(1830.6 129.2) scale(1.0752 1)" font-size="37">0 d</text>
<text transform="translate(1830.5 168.5) scale(1.0769 1)" font-size="37">5 d</text>
<text transform="translate(1812.4 206.5) scale(1.0985 1)" font-size="37">10 d</text>
<text transform="translate(1812.3 248.3) scale(1.1009 1)" font-size="37">20 d</text>
<text transform="translate(1814 286.2) scale(1.0996 1)" font-size="37">30 d</text>
<text transform="translate(1803.4 325) scale(1.0936 1)" font-size="37">Fitting</text>
<ellipse cx="1746.9" cy="111.3" rx="4.6" ry="2.4" fill="#c81428"/>
<path d="M1746,139.6 L1752.5,146.6 L1746,153.6 L1739.5,146.6Z" fill="#2a62b0"/>
<path d="M1745.2,177.8 L1752.7,191.8 L1737.7,191.8Z" fill="#e048d8"/>
<path d="M1746,220.2 L1754.5,229.7 L1746,239.2 L1737.5,229.7Z" fill="none" stroke="#b4eaa0" stroke-width="1.8"/>
<path d="M1738.4,265.5 L1755.4,265.5 L1746.9,280.5Z" fill="none" stroke="#c8f4f4" stroke-width="1.8"/>
<line x1="1720.6" y1="308.7" x2="1768.3" y2="308.7" stroke="#111" stroke-width="4"/>
<text transform="translate(878.4 899.3) scale(1.0808 1)" font-size="36">0 d</text>
<text transform="translate(878.3 941.3) scale(1.0824 1)" font-size="36">5 d</text>
<text transform="translate(859.3 980.2) scale(1.1128 1)" font-size="36">10 d</text>
<text transform="translate(859.2 1023) scale(1.1140 1)" font-size="36">20 d</text>
<text transform="translate(861.8 1063.3) scale(1.0859 1)" font-size="36">30 d</text>
<text transform="translate(850.7 1104.8) scale(1.0900 1)" font-size="36">Fitting</text>
<ellipse cx="792.3" cy="884.6" rx="4.6" ry="2.4" fill="#c81428"/>
<path d="M790.7,914.8 L797.2,921.8 L790.7,928.8 L784.2,921.8Z" fill="#2a62b0"/>
<path d="M790.7,953.9 L798.2,967.9 L783.2,967.9Z" fill="#e048d8"/>
<path d="M790.7,1000.2 L799.2,1009.7 L790.7,1019.2 L782.2,1009.7Z" fill="none" stroke="#b4eaa0" stroke-width="1.8"/>
<path d="M783.8,1046.3 L800.8,1046.3 L792.3,1061.3Z" fill="none" stroke="#c8f4f4" stroke-width="1.8"/>
<line x1="765.3" y1="1088.9" x2="814.5" y2="1088.9" stroke="#111" stroke-width="4"/>
<text transform="translate(1786 924) scale(1.0175 1)" font-size="33">0 d</text>
<text transform="translate(1783.1 964.2) scale(1.0504 1)" font-size="33">5 d</text>
<text transform="translate(1766.8 1007) scale(1.0585 1)" font-size="33">10 d</text>
<text transform="translate(1768.2 1051.4) scale(1.0355 1)" font-size="33">20 d</text>
<text transform="translate(1768.2 1095.8) scale(1.0346 1)" font-size="33">30 d</text>
<text transform="translate(1765.8 1137) scale(1.0335 1)" font-size="33">Fitting</text>
<ellipse cx="1714.3" cy="908.7" rx="3.7" ry="1.9" fill="#c81428"/>
<path d="M1713.2,945.7 L1718.4,951.3 L1713.2,956.9 L1708,951.3Z" fill="#2a62b0"/>
<path d="M1713.2,986.4 L1719.2,997.6 L1707.2,997.6Z" fill="#e048d8"/>
<path d="M1711.6,1032.4 L1718.4,1040 L1711.6,1047.6 L1704.8,1040Z" fill="none" stroke="#b4eaa0" stroke-width="1.8"/>
<path d="M1704.8,1075.6 L1718.4,1075.6 L1711.6,1087.6Z" fill="none" stroke="#c8f4f4" stroke-width="1.8"/>
<line x1="1690.2" y1="1125.6" x2="1731.3" y2="1125.6" stroke="#111" stroke-width="4"/>
</svg>
</body></html>
